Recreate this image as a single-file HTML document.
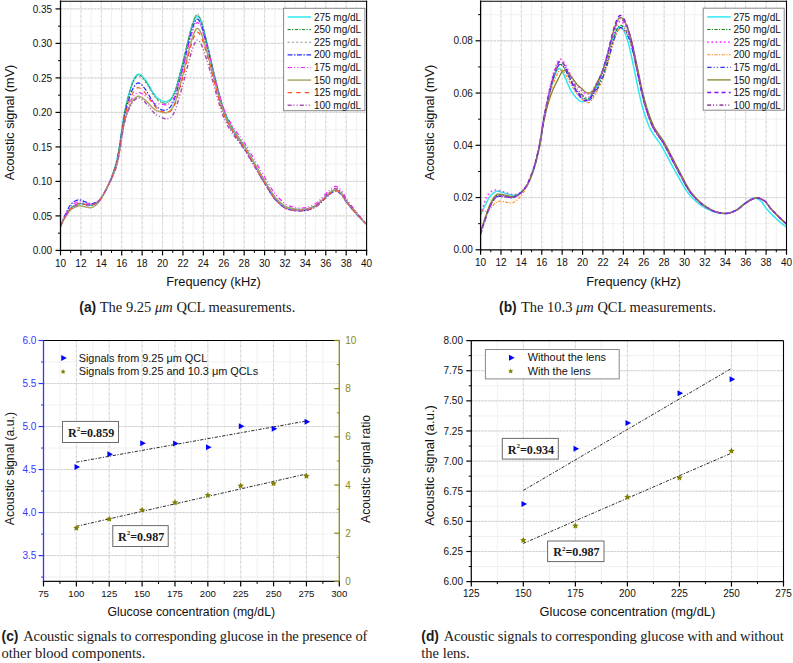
<!DOCTYPE html><html><head><meta charset="utf-8"><style>html,body{margin:0;padding:0;background:#fff;width:793px;height:663px;overflow:hidden;position:relative}</style></head><body><svg width="793" height="663" viewBox="0 0 793 663" style="position:absolute;left:0;top:0">
<rect width="793" height="663" fill="#fff"/>
<line x1="70.70" y1="1.20" x2="70.70" y2="250.40" stroke="#eeeeee" stroke-width="0.9"/>
<line x1="91.11" y1="1.20" x2="91.11" y2="250.40" stroke="#eeeeee" stroke-width="0.9"/>
<line x1="111.52" y1="1.20" x2="111.52" y2="250.40" stroke="#eeeeee" stroke-width="0.9"/>
<line x1="131.92" y1="1.20" x2="131.92" y2="250.40" stroke="#eeeeee" stroke-width="0.9"/>
<line x1="152.33" y1="1.20" x2="152.33" y2="250.40" stroke="#eeeeee" stroke-width="0.9"/>
<line x1="172.74" y1="1.20" x2="172.74" y2="250.40" stroke="#eeeeee" stroke-width="0.9"/>
<line x1="193.14" y1="1.20" x2="193.14" y2="250.40" stroke="#eeeeee" stroke-width="0.9"/>
<line x1="213.55" y1="1.20" x2="213.55" y2="250.40" stroke="#eeeeee" stroke-width="0.9"/>
<line x1="233.96" y1="1.20" x2="233.96" y2="250.40" stroke="#eeeeee" stroke-width="0.9"/>
<line x1="254.36" y1="1.20" x2="254.36" y2="250.40" stroke="#eeeeee" stroke-width="0.9"/>
<line x1="274.77" y1="1.20" x2="274.77" y2="250.40" stroke="#eeeeee" stroke-width="0.9"/>
<line x1="295.18" y1="1.20" x2="295.18" y2="250.40" stroke="#eeeeee" stroke-width="0.9"/>
<line x1="315.58" y1="1.20" x2="315.58" y2="250.40" stroke="#eeeeee" stroke-width="0.9"/>
<line x1="335.99" y1="1.20" x2="335.99" y2="250.40" stroke="#eeeeee" stroke-width="0.9"/>
<line x1="356.40" y1="1.20" x2="356.40" y2="250.40" stroke="#eeeeee" stroke-width="0.9"/>
<line x1="60.50" y1="233.15" x2="366.60" y2="233.15" stroke="#eeeeee" stroke-width="0.9"/>
<line x1="60.50" y1="198.65" x2="366.60" y2="198.65" stroke="#eeeeee" stroke-width="0.9"/>
<line x1="60.50" y1="164.15" x2="366.60" y2="164.15" stroke="#eeeeee" stroke-width="0.9"/>
<line x1="60.50" y1="129.65" x2="366.60" y2="129.65" stroke="#eeeeee" stroke-width="0.9"/>
<line x1="60.50" y1="95.15" x2="366.60" y2="95.15" stroke="#eeeeee" stroke-width="0.9"/>
<line x1="60.50" y1="60.65" x2="366.60" y2="60.65" stroke="#eeeeee" stroke-width="0.9"/>
<line x1="60.50" y1="26.15" x2="366.60" y2="26.15" stroke="#eeeeee" stroke-width="0.9"/>
<line x1="80.91" y1="1.20" x2="80.91" y2="250.40" stroke="#e4e4e4" stroke-width="0.9"/>
<line x1="101.31" y1="1.20" x2="101.31" y2="250.40" stroke="#e4e4e4" stroke-width="0.9"/>
<line x1="121.72" y1="1.20" x2="121.72" y2="250.40" stroke="#e4e4e4" stroke-width="0.9"/>
<line x1="142.13" y1="1.20" x2="142.13" y2="250.40" stroke="#e4e4e4" stroke-width="0.9"/>
<line x1="162.53" y1="1.20" x2="162.53" y2="250.40" stroke="#e4e4e4" stroke-width="0.9"/>
<line x1="182.94" y1="1.20" x2="182.94" y2="250.40" stroke="#e4e4e4" stroke-width="0.9"/>
<line x1="203.35" y1="1.20" x2="203.35" y2="250.40" stroke="#e4e4e4" stroke-width="0.9"/>
<line x1="223.75" y1="1.20" x2="223.75" y2="250.40" stroke="#e4e4e4" stroke-width="0.9"/>
<line x1="244.16" y1="1.20" x2="244.16" y2="250.40" stroke="#e4e4e4" stroke-width="0.9"/>
<line x1="264.57" y1="1.20" x2="264.57" y2="250.40" stroke="#e4e4e4" stroke-width="0.9"/>
<line x1="284.97" y1="1.20" x2="284.97" y2="250.40" stroke="#e4e4e4" stroke-width="0.9"/>
<line x1="305.38" y1="1.20" x2="305.38" y2="250.40" stroke="#e4e4e4" stroke-width="0.9"/>
<line x1="325.79" y1="1.20" x2="325.79" y2="250.40" stroke="#e4e4e4" stroke-width="0.9"/>
<line x1="346.19" y1="1.20" x2="346.19" y2="250.40" stroke="#e4e4e4" stroke-width="0.9"/>
<line x1="60.50" y1="215.90" x2="366.60" y2="215.90" stroke="#e4e4e4" stroke-width="0.9"/>
<line x1="60.50" y1="181.40" x2="366.60" y2="181.40" stroke="#e4e4e4" stroke-width="0.9"/>
<line x1="60.50" y1="146.90" x2="366.60" y2="146.90" stroke="#e4e4e4" stroke-width="0.9"/>
<line x1="60.50" y1="112.40" x2="366.60" y2="112.40" stroke="#e4e4e4" stroke-width="0.9"/>
<line x1="60.50" y1="77.90" x2="366.60" y2="77.90" stroke="#e4e4e4" stroke-width="0.9"/>
<line x1="60.50" y1="43.40" x2="366.60" y2="43.40" stroke="#e4e4e4" stroke-width="0.9"/>
<line x1="60.50" y1="8.90" x2="366.60" y2="8.90" stroke="#e4e4e4" stroke-width="0.9"/>
<line x1="80.91" y1="1.20" x2="80.91" y2="250.40" stroke="#c8c8c8" stroke-width="0.8" stroke-dasharray="1.6,3.2"/>
<line x1="101.31" y1="1.20" x2="101.31" y2="250.40" stroke="#c8c8c8" stroke-width="0.8" stroke-dasharray="1.6,3.2"/>
<line x1="121.72" y1="1.20" x2="121.72" y2="250.40" stroke="#c8c8c8" stroke-width="0.8" stroke-dasharray="1.6,3.2"/>
<line x1="142.13" y1="1.20" x2="142.13" y2="250.40" stroke="#c8c8c8" stroke-width="0.8" stroke-dasharray="1.6,3.2"/>
<line x1="162.53" y1="1.20" x2="162.53" y2="250.40" stroke="#c8c8c8" stroke-width="0.8" stroke-dasharray="1.6,3.2"/>
<line x1="182.94" y1="1.20" x2="182.94" y2="250.40" stroke="#c8c8c8" stroke-width="0.8" stroke-dasharray="1.6,3.2"/>
<line x1="203.35" y1="1.20" x2="203.35" y2="250.40" stroke="#c8c8c8" stroke-width="0.8" stroke-dasharray="1.6,3.2"/>
<line x1="223.75" y1="1.20" x2="223.75" y2="250.40" stroke="#c8c8c8" stroke-width="0.8" stroke-dasharray="1.6,3.2"/>
<line x1="244.16" y1="1.20" x2="244.16" y2="250.40" stroke="#c8c8c8" stroke-width="0.8" stroke-dasharray="1.6,3.2"/>
<line x1="264.57" y1="1.20" x2="264.57" y2="250.40" stroke="#c8c8c8" stroke-width="0.8" stroke-dasharray="1.6,3.2"/>
<line x1="284.97" y1="1.20" x2="284.97" y2="250.40" stroke="#c8c8c8" stroke-width="0.8" stroke-dasharray="1.6,3.2"/>
<line x1="305.38" y1="1.20" x2="305.38" y2="250.40" stroke="#c8c8c8" stroke-width="0.8" stroke-dasharray="1.6,3.2"/>
<line x1="325.79" y1="1.20" x2="325.79" y2="250.40" stroke="#c8c8c8" stroke-width="0.8" stroke-dasharray="1.6,3.2"/>
<line x1="346.19" y1="1.20" x2="346.19" y2="250.40" stroke="#c8c8c8" stroke-width="0.8" stroke-dasharray="1.6,3.2"/>
<line x1="60.50" y1="215.90" x2="366.60" y2="215.90" stroke="#c8c8c8" stroke-width="0.8" stroke-dasharray="1.8,1.6"/>
<line x1="60.50" y1="181.40" x2="366.60" y2="181.40" stroke="#c8c8c8" stroke-width="0.8" stroke-dasharray="1.8,1.6"/>
<line x1="60.50" y1="146.90" x2="366.60" y2="146.90" stroke="#c8c8c8" stroke-width="0.8" stroke-dasharray="1.8,1.6"/>
<line x1="60.50" y1="112.40" x2="366.60" y2="112.40" stroke="#c8c8c8" stroke-width="0.8" stroke-dasharray="1.8,1.6"/>
<line x1="60.50" y1="77.90" x2="366.60" y2="77.90" stroke="#c8c8c8" stroke-width="0.8" stroke-dasharray="1.8,1.6"/>
<line x1="60.50" y1="43.40" x2="366.60" y2="43.40" stroke="#c8c8c8" stroke-width="0.8" stroke-dasharray="1.8,1.6"/>
<line x1="60.50" y1="8.90" x2="366.60" y2="8.90" stroke="#c8c8c8" stroke-width="0.8" stroke-dasharray="1.8,1.6"/>
<clipPath id="clipa"><rect x="60.5" y="1.2" width="306.1" height="249.20000000000002"/></clipPath>
<g clip-path="url(#clipa)" fill="none" stroke-linejoin="round">
<path d="M60.50,226.25 L61.01,225.11 L61.52,223.98 L62.03,222.88 L62.54,221.79 L63.05,220.73 L63.56,219.69 L64.07,218.69 L64.58,217.72 L65.09,216.79 L65.60,215.90 L66.11,215.02 L66.62,214.14 L67.13,213.27 L67.64,212.41 L68.15,211.59 L68.66,210.80 L69.17,210.07 L69.68,209.41 L70.19,208.81 L70.70,208.31 L71.21,207.86 L71.72,207.44 L72.23,207.03 L72.74,206.64 L73.25,206.28 L73.76,205.94 L74.27,205.63 L74.78,205.35 L75.29,205.09 L75.81,204.86 L76.32,204.63 L76.83,204.39 L77.34,204.15 L77.85,203.92 L78.36,203.72 L78.87,203.57 L79.38,203.49 L79.89,203.48 L80.40,203.53 L80.91,203.59 L81.42,203.66 L81.93,203.74 L82.44,203.83 L82.95,203.93 L83.46,204.03 L83.97,204.12 L84.48,204.22 L84.99,204.31 L85.50,204.40 L86.01,204.49 L86.52,204.59 L87.03,204.69 L87.54,204.79 L88.05,204.89 L88.56,204.98 L89.07,205.07 L89.58,205.14 L90.09,205.21 L90.60,205.23 L91.11,205.20 L91.62,205.11 L92.13,204.99 L92.64,204.83 L93.15,204.64 L93.66,204.44 L94.17,204.23 L94.68,204.03 L95.19,203.82 L95.70,203.60 L96.21,203.30 L96.72,202.94 L97.23,202.54 L97.74,202.09 L98.25,201.61 L98.76,201.11 L99.27,200.59 L99.78,200.04 L100.29,199.42 L100.80,198.74 L101.31,197.99 L101.82,197.19 L102.33,196.35 L102.84,195.48 L103.35,194.59 L103.86,193.69 L104.37,192.78 L104.88,191.87 L105.39,190.90 L105.90,189.91 L106.41,188.87 L106.93,187.81 L107.44,186.71 L107.95,185.59 L108.46,184.46 L108.97,183.30 L109.48,182.13 L109.99,180.96 L110.50,179.75 L111.01,178.50 L111.52,177.20 L112.03,175.87 L112.54,174.48 L113.05,173.05 L113.56,171.57 L114.07,170.04 L114.58,168.45 L115.09,166.81 L115.60,165.12 L116.11,163.33 L116.62,161.28 L117.13,158.99 L117.64,156.50 L118.15,153.82 L118.66,151.01 L119.17,148.09 L119.68,145.00 L120.19,141.48 L120.70,137.70 L121.21,133.91 L121.72,130.34 L122.23,126.95 L122.74,123.58 L123.25,120.30 L123.76,117.15 L124.27,114.20 L124.78,111.48 L125.29,108.92 L125.80,106.49 L126.31,104.20 L126.82,102.05 L127.33,99.98 L127.84,97.96 L128.35,96.00 L128.86,94.13 L129.37,92.35 L129.88,90.68 L130.39,89.04 L130.90,87.39 L131.41,85.77 L131.92,84.22 L132.43,82.76 L132.94,81.43 L133.45,80.26 L133.96,79.28 L134.47,78.41 L134.98,77.56 L135.49,76.75 L136.00,76.00 L136.51,75.36 L137.03,74.84 L137.54,74.46 L138.05,74.27 L138.56,74.25 L139.07,74.32 L139.58,74.48 L140.09,74.70 L140.60,74.99 L141.11,75.34 L141.62,75.73 L142.13,76.18 L142.64,76.66 L143.15,77.21 L143.66,77.79 L144.17,78.42 L144.68,79.09 L145.19,79.78 L145.70,80.50 L146.21,81.23 L146.72,81.98 L147.23,82.73 L147.74,83.51 L148.25,84.35 L148.76,85.23 L149.27,86.13 L149.78,87.04 L150.29,87.96 L150.80,88.86 L151.31,89.74 L151.82,90.57 L152.33,91.35 L152.84,92.11 L153.35,92.87 L153.86,93.62 L154.37,94.36 L154.88,95.07 L155.39,95.75 L155.90,96.38 L156.41,96.96 L156.92,97.47 L157.43,97.91 L157.94,98.31 L158.45,98.69 L158.96,99.06 L159.47,99.41 L159.98,99.75 L160.49,100.07 L161.00,100.36 L161.51,100.64 L162.02,100.89 L162.53,101.11 L163.04,101.30 L163.55,101.47 L164.06,101.60 L164.57,101.71 L165.08,101.75 L165.59,101.73 L166.10,101.64 L166.61,101.50 L167.12,101.31 L167.63,101.09 L168.15,100.84 L168.66,100.56 L169.17,100.27 L169.68,99.98 L170.19,99.61 L170.70,99.11 L171.21,98.49 L171.72,97.75 L172.23,96.92 L172.74,96.00 L173.25,95.01 L173.76,93.95 L174.27,92.84 L174.78,91.70 L175.29,90.42 L175.80,88.92 L176.31,87.25 L176.82,85.45 L177.33,83.57 L177.84,81.66 L178.35,79.75 L178.86,77.90 L179.37,76.08 L179.88,74.24 L180.39,72.38 L180.90,70.49 L181.41,68.59 L181.92,66.65 L182.43,64.70 L182.94,62.72 L183.45,60.69 L183.96,58.61 L184.47,56.49 L184.98,54.34 L185.49,52.18 L186.00,50.03 L186.51,47.91 L187.02,45.82 L187.53,43.80 L188.04,41.80 L188.55,39.79 L189.06,37.76 L189.57,35.74 L190.08,33.74 L190.59,31.79 L191.10,29.91 L191.61,28.11 L192.12,26.41 L192.63,24.83 L193.14,23.39 L193.65,22.04 L194.16,20.74 L194.67,19.54 L195.18,18.47 L195.69,17.58 L196.20,16.91 L196.71,16.49 L197.22,16.35 L197.73,16.47 L198.25,16.81 L198.76,17.36 L199.27,18.08 L199.78,18.95 L200.29,19.94 L200.80,21.08 L201.31,22.41 L201.82,23.90 L202.33,25.54 L202.84,27.30 L203.35,29.16 L203.86,31.10 L204.37,33.11 L204.88,35.16 L205.39,37.24 L205.90,39.32 L206.41,41.38 L206.92,43.40 L207.43,45.43 L207.94,47.53 L208.45,49.68 L208.96,51.87 L209.47,54.10 L209.98,56.36 L210.49,58.63 L211.00,60.91 L211.51,63.19 L212.02,65.45 L212.53,67.70 L213.04,69.91 L213.55,72.09 L214.06,74.22 L214.57,76.29 L215.08,78.30 L215.59,80.29 L216.10,82.29 L216.61,84.29 L217.12,86.29 L217.63,88.29 L218.14,90.27 L218.65,92.23 L219.16,94.17 L219.67,96.08 L220.18,97.96 L220.69,99.79 L221.20,101.58 L221.71,103.32 L222.22,105.01 L222.73,106.63 L223.24,108.19 L223.75,109.67 L224.26,111.08 L224.77,112.40 L225.28,113.66 L225.79,114.89 L226.30,116.08 L226.81,117.23 L227.32,118.35 L227.83,119.45 L228.34,120.51 L228.86,121.55 L229.37,122.55 L229.88,123.54 L230.39,124.50 L230.90,125.43 L231.41,126.35 L231.92,127.24 L232.43,128.12 L232.94,128.97 L233.45,129.82 L233.96,130.64 L234.47,131.45 L234.98,132.24 L235.49,133.01 L236.00,133.77 L236.51,134.52 L237.02,135.26 L237.53,136.00 L238.04,136.72 L238.55,137.44 L239.06,138.16 L239.57,138.88 L240.08,139.60 L240.59,140.32 L241.10,141.05 L241.61,141.78 L242.12,142.53 L242.63,143.28 L243.14,144.04 L243.65,144.81 L244.16,145.60 L244.67,146.41 L245.18,147.23 L245.69,148.07 L246.20,148.91 L246.71,149.76 L247.22,150.63 L247.73,151.49 L248.24,152.37 L248.75,153.25 L249.26,154.13 L249.77,155.02 L250.28,155.91 L250.79,156.81 L251.30,157.70 L251.81,158.60 L252.32,159.50 L252.83,160.39 L253.34,161.29 L253.85,162.18 L254.36,163.07 L254.87,163.96 L255.38,164.84 L255.89,165.72 L256.40,166.61 L256.91,167.50 L257.42,168.39 L257.93,169.29 L258.44,170.19 L258.95,171.08 L259.47,171.98 L259.98,172.88 L260.49,173.77 L261.00,174.66 L261.51,175.55 L262.02,176.43 L262.53,177.30 L263.04,178.17 L263.55,179.03 L264.06,179.89 L264.57,180.73 L265.08,181.57 L265.59,182.41 L266.10,183.26 L266.61,184.12 L267.12,184.98 L267.63,185.85 L268.14,186.72 L268.65,187.58 L269.16,188.45 L269.67,189.30 L270.18,190.15 L270.69,190.98 L271.20,191.80 L271.71,192.60 L272.22,193.39 L272.73,194.15 L273.24,194.88 L273.75,195.59 L274.26,196.27 L274.77,196.92 L275.28,197.54 L275.79,198.11 L276.30,198.65 L276.81,199.17 L277.32,199.68 L277.83,200.18 L278.34,200.68 L278.85,201.18 L279.36,201.66 L279.87,202.14 L280.38,202.60 L280.89,203.06 L281.40,203.50 L281.91,203.93 L282.42,204.35 L282.93,204.74 L283.44,205.13 L283.95,205.49 L284.46,205.84 L284.97,206.17 L285.48,206.48 L285.99,206.76 L286.50,207.03 L287.01,207.26 L287.52,207.48 L288.03,207.67 L288.54,207.83 L289.05,207.97 L289.56,208.09 L290.08,208.20 L290.59,208.32 L291.10,208.44 L291.61,208.55 L292.12,208.66 L292.63,208.77 L293.14,208.87 L293.65,208.97 L294.16,209.06 L294.67,209.14 L295.18,209.22 L295.69,209.29 L296.20,209.35 L296.71,209.40 L297.22,209.44 L297.73,209.47 L298.24,209.48 L298.75,209.49 L299.26,209.49 L299.77,209.49 L300.28,209.48 L300.79,209.47 L301.30,209.45 L301.81,209.43 L302.32,209.40 L302.83,209.36 L303.34,209.33 L303.85,209.29 L304.36,209.24 L304.87,209.19 L305.38,209.14 L305.89,209.08 L306.40,209.00 L306.91,208.91 L307.42,208.80 L307.93,208.68 L308.44,208.55 L308.95,208.40 L309.46,208.24 L309.97,208.07 L310.48,207.89 L310.99,207.70 L311.50,207.50 L312.01,207.28 L312.52,207.06 L313.03,206.83 L313.54,206.59 L314.05,206.34 L314.56,206.08 L315.07,205.82 L315.58,205.55 L316.09,205.26 L316.60,204.93 L317.11,204.57 L317.62,204.19 L318.13,203.78 L318.64,203.34 L319.15,202.89 L319.66,202.42 L320.17,201.94 L320.69,201.45 L321.20,200.95 L321.71,200.44 L322.22,199.93 L322.73,199.43 L323.24,198.92 L323.75,198.43 L324.26,197.94 L324.77,197.47 L325.28,197.02 L325.79,196.58 L326.30,196.15 L326.81,195.70 L327.32,195.24 L327.83,194.78 L328.34,194.31 L328.85,193.85 L329.36,193.39 L329.87,192.94 L330.38,192.50 L330.89,192.08 L331.40,191.68 L331.91,191.30 L332.42,190.95 L332.93,190.64 L333.44,190.35 L333.95,190.11 L334.46,189.92 L334.97,189.81 L335.48,189.78 L335.99,189.83 L336.50,189.94 L337.01,190.12 L337.52,190.36 L338.03,190.65 L338.54,190.98 L339.05,191.36 L339.56,191.76 L340.07,192.20 L340.58,192.66 L341.09,193.13 L341.60,193.67 L342.11,194.33 L342.62,195.09 L343.13,195.90 L343.64,196.77 L344.15,197.65 L344.66,198.53 L345.17,199.39 L345.68,200.20 L346.19,200.93 L346.70,201.61 L347.21,202.29 L347.72,202.96 L348.23,203.63 L348.74,204.28 L349.25,204.94 L349.76,205.59 L350.27,206.23 L350.78,206.86 L351.30,207.49 L351.81,208.12 L352.32,208.74 L352.83,209.35 L353.34,209.96 L353.85,210.56 L354.36,211.15 L354.87,211.74 L355.38,212.33 L355.89,212.91 L356.40,213.49 L356.91,214.06 L357.42,214.63 L357.93,215.19 L358.44,215.76 L358.95,216.32 L359.46,216.87 L359.97,217.43 L360.48,217.98 L360.99,218.52 L361.50,219.06 L362.01,219.60 L362.52,220.13 L363.03,220.66 L363.54,221.18 L364.05,221.69 L364.56,222.20 L365.07,222.71 L365.58,223.20 L366.09,223.70 L366.60,224.18" stroke="#30e8f0" stroke-width="1.5" />
<path d="M60.50,226.25 L61.01,225.11 L61.52,223.98 L62.03,222.88 L62.54,221.79 L63.05,220.73 L63.56,219.69 L64.07,218.69 L64.58,217.72 L65.09,216.79 L65.60,215.90 L66.11,215.02 L66.62,214.14 L67.13,213.27 L67.64,212.41 L68.15,211.59 L68.66,210.80 L69.17,210.07 L69.68,209.41 L70.19,208.81 L70.70,208.31 L71.21,207.86 L71.72,207.44 L72.23,207.03 L72.74,206.64 L73.25,206.28 L73.76,205.94 L74.27,205.63 L74.78,205.35 L75.29,205.09 L75.81,204.86 L76.32,204.63 L76.83,204.39 L77.34,204.15 L77.85,203.92 L78.36,203.72 L78.87,203.57 L79.38,203.49 L79.89,203.48 L80.40,203.53 L80.91,203.59 L81.42,203.66 L81.93,203.74 L82.44,203.83 L82.95,203.93 L83.46,204.03 L83.97,204.12 L84.48,204.22 L84.99,204.31 L85.50,204.40 L86.01,204.49 L86.52,204.59 L87.03,204.69 L87.54,204.79 L88.05,204.89 L88.56,204.98 L89.07,205.07 L89.58,205.14 L90.09,205.21 L90.60,205.23 L91.11,205.20 L91.62,205.11 L92.13,204.99 L92.64,204.83 L93.15,204.64 L93.66,204.44 L94.17,204.23 L94.68,204.03 L95.19,203.82 L95.70,203.60 L96.21,203.30 L96.72,202.94 L97.23,202.54 L97.74,202.09 L98.25,201.61 L98.76,201.11 L99.27,200.59 L99.78,200.04 L100.29,199.42 L100.80,198.74 L101.31,197.99 L101.82,197.19 L102.33,196.35 L102.84,195.48 L103.35,194.59 L103.86,193.69 L104.37,192.78 L104.88,191.87 L105.39,190.91 L105.90,189.91 L106.41,188.88 L106.93,187.81 L107.44,186.72 L107.95,185.61 L108.46,184.47 L108.97,183.32 L109.48,182.16 L109.99,180.99 L110.50,179.78 L111.01,178.54 L111.52,177.25 L112.03,175.92 L112.54,174.54 L113.05,173.11 L113.56,171.64 L114.07,170.11 L114.58,168.54 L115.09,166.91 L115.60,165.22 L116.11,163.44 L116.62,161.40 L117.13,159.12 L117.64,156.63 L118.15,153.97 L118.66,151.16 L119.17,148.25 L119.68,145.17 L120.19,141.66 L120.70,137.89 L121.21,134.11 L121.72,130.55 L122.23,127.17 L122.74,123.81 L123.25,120.54 L123.76,117.40 L124.27,114.46 L124.78,111.75 L125.29,109.20 L125.80,106.79 L126.31,104.52 L126.82,102.38 L127.33,100.32 L127.84,98.31 L128.35,96.37 L128.86,94.51 L129.37,92.75 L129.88,91.10 L130.39,89.48 L130.90,87.84 L131.41,86.24 L131.92,84.70 L132.43,83.26 L132.94,81.95 L133.45,80.79 L133.96,79.83 L134.47,78.98 L134.98,78.14 L135.49,77.35 L136.00,76.62 L136.51,75.99 L137.03,75.49 L137.54,75.13 L138.05,74.95 L138.56,74.95 L139.07,75.04 L139.58,75.21 L140.09,75.45 L140.60,75.76 L141.11,76.12 L141.62,76.54 L142.13,77.00 L142.64,77.51 L143.15,78.07 L143.66,78.68 L144.17,79.33 L144.68,80.02 L145.19,80.74 L145.70,81.48 L146.21,82.23 L146.72,83.00 L147.23,83.78 L147.74,84.58 L148.25,85.44 L148.76,86.34 L149.27,87.26 L149.78,88.20 L150.29,89.14 L150.80,90.07 L151.31,90.96 L151.82,91.82 L152.33,92.63 L152.84,93.40 L153.35,94.18 L153.86,94.96 L154.37,95.71 L154.88,96.44 L155.39,97.14 L155.90,97.79 L156.41,98.38 L156.92,98.91 L157.43,99.37 L157.94,99.78 L158.45,100.18 L158.96,100.56 L159.47,100.93 L159.98,101.28 L160.49,101.61 L161.00,101.91 L161.51,102.20 L162.02,102.45 L162.53,102.68 L163.04,102.88 L163.55,103.05 L164.06,103.19 L164.57,103.29 L165.08,103.33 L165.59,103.30 L166.10,103.19 L166.61,103.02 L167.12,102.80 L167.63,102.53 L168.15,102.23 L168.66,101.90 L169.17,101.55 L169.68,101.19 L170.19,100.76 L170.70,100.19 L171.21,99.49 L171.72,98.68 L172.23,97.77 L172.74,96.78 L173.25,95.70 L173.76,94.57 L174.27,93.39 L174.78,92.17 L175.29,90.82 L175.80,89.25 L176.31,87.52 L176.82,85.66 L177.33,83.73 L177.84,81.76 L178.35,79.81 L178.86,77.91 L179.37,76.03 L179.88,74.14 L180.39,72.23 L180.90,70.29 L181.41,68.33 L181.92,66.34 L182.43,64.33 L182.94,62.30 L183.45,60.22 L183.96,58.08 L184.47,55.90 L184.98,53.70 L185.49,51.49 L186.00,49.28 L186.51,47.11 L187.02,44.97 L187.53,42.90 L188.04,40.86 L188.55,38.79 L189.06,36.72 L189.57,34.66 L190.08,32.62 L190.59,30.64 L191.10,28.72 L191.61,26.88 L192.12,25.15 L192.63,23.55 L193.14,22.08 L193.65,20.71 L194.16,19.39 L194.67,18.18 L195.18,17.10 L195.69,16.20 L196.20,15.52 L196.71,15.11 L197.22,14.98 L197.73,15.10 L198.25,15.46 L198.76,16.02 L199.27,16.75 L199.78,17.64 L200.29,18.66 L200.80,19.82 L201.31,21.18 L201.82,22.69 L202.33,24.36 L202.84,26.15 L203.35,28.04 L203.86,30.02 L204.37,32.06 L204.88,34.14 L205.39,36.25 L205.90,38.36 L206.41,40.45 L206.92,42.51 L207.43,44.58 L207.94,46.70 L208.45,48.88 L208.96,51.11 L209.47,53.37 L209.98,55.65 L210.49,57.95 L211.00,60.26 L211.51,62.56 L212.02,64.85 L212.53,67.11 L213.04,69.35 L213.55,71.54 L214.06,73.68 L214.57,75.77 L215.08,77.79 L215.59,79.79 L216.10,81.81 L216.61,83.82 L217.12,85.84 L217.63,87.85 L218.14,89.85 L218.65,91.82 L219.16,93.78 L219.67,95.70 L220.18,97.59 L220.69,99.45 L221.20,101.25 L221.71,103.01 L222.22,104.71 L222.73,106.34 L223.24,107.91 L223.75,109.41 L224.26,110.83 L224.77,112.17 L225.28,113.44 L225.79,114.68 L226.30,115.88 L226.81,117.05 L227.32,118.19 L227.83,119.30 L228.34,120.37 L228.86,121.42 L229.37,122.44 L229.88,123.43 L230.39,124.40 L230.90,125.35 L231.41,126.27 L231.92,127.17 L232.43,128.06 L232.94,128.92 L233.45,129.77 L233.96,130.61 L234.47,131.42 L234.98,132.21 L235.49,132.99 L236.00,133.76 L236.51,134.51 L237.02,135.26 L237.53,135.99 L238.04,136.72 L238.55,137.44 L239.06,138.16 L239.57,138.88 L240.08,139.60 L240.59,140.32 L241.10,141.05 L241.61,141.78 L242.12,142.53 L242.63,143.28 L243.14,144.04 L243.65,144.81 L244.16,145.60 L244.67,146.41 L245.18,147.23 L245.69,148.07 L246.20,148.91 L246.71,149.76 L247.22,150.63 L247.73,151.49 L248.24,152.37 L248.75,153.25 L249.26,154.13 L249.77,155.02 L250.28,155.91 L250.79,156.81 L251.30,157.70 L251.81,158.60 L252.32,159.50 L252.83,160.39 L253.34,161.29 L253.85,162.18 L254.36,163.07 L254.87,163.96 L255.38,164.84 L255.89,165.72 L256.40,166.61 L256.91,167.50 L257.42,168.39 L257.93,169.29 L258.44,170.19 L258.95,171.08 L259.47,171.98 L259.98,172.88 L260.49,173.77 L261.00,174.66 L261.51,175.55 L262.02,176.43 L262.53,177.30 L263.04,178.17 L263.55,179.03 L264.06,179.89 L264.57,180.73 L265.08,181.57 L265.59,182.41 L266.10,183.26 L266.61,184.12 L267.12,184.98 L267.63,185.85 L268.14,186.72 L268.65,187.58 L269.16,188.45 L269.67,189.30 L270.18,190.15 L270.69,190.98 L271.20,191.80 L271.71,192.60 L272.22,193.39 L272.73,194.15 L273.24,194.88 L273.75,195.59 L274.26,196.27 L274.77,196.92 L275.28,197.54 L275.79,198.11 L276.30,198.65 L276.81,199.17 L277.32,199.68 L277.83,200.18 L278.34,200.68 L278.85,201.18 L279.36,201.66 L279.87,202.14 L280.38,202.60 L280.89,203.06 L281.40,203.50 L281.91,203.93 L282.42,204.35 L282.93,204.74 L283.44,205.13 L283.95,205.49 L284.46,205.84 L284.97,206.17 L285.48,206.48 L285.99,206.76 L286.50,207.03 L287.01,207.26 L287.52,207.48 L288.03,207.67 L288.54,207.83 L289.05,207.97 L289.56,208.09 L290.08,208.20 L290.59,208.32 L291.10,208.44 L291.61,208.55 L292.12,208.66 L292.63,208.77 L293.14,208.87 L293.65,208.97 L294.16,209.06 L294.67,209.14 L295.18,209.22 L295.69,209.29 L296.20,209.35 L296.71,209.40 L297.22,209.44 L297.73,209.47 L298.24,209.48 L298.75,209.49 L299.26,209.49 L299.77,209.49 L300.28,209.48 L300.79,209.47 L301.30,209.45 L301.81,209.43 L302.32,209.40 L302.83,209.36 L303.34,209.33 L303.85,209.29 L304.36,209.24 L304.87,209.19 L305.38,209.14 L305.89,209.08 L306.40,209.00 L306.91,208.91 L307.42,208.80 L307.93,208.68 L308.44,208.55 L308.95,208.40 L309.46,208.24 L309.97,208.07 L310.48,207.89 L310.99,207.70 L311.50,207.50 L312.01,207.28 L312.52,207.06 L313.03,206.83 L313.54,206.59 L314.05,206.34 L314.56,206.08 L315.07,205.82 L315.58,205.55 L316.09,205.26 L316.60,204.93 L317.11,204.57 L317.62,204.19 L318.13,203.78 L318.64,203.34 L319.15,202.89 L319.66,202.42 L320.17,201.94 L320.69,201.45 L321.20,200.95 L321.71,200.44 L322.22,199.93 L322.73,199.43 L323.24,198.92 L323.75,198.43 L324.26,197.94 L324.77,197.47 L325.28,197.02 L325.79,196.58 L326.30,196.15 L326.81,195.70 L327.32,195.24 L327.83,194.78 L328.34,194.31 L328.85,193.85 L329.36,193.39 L329.87,192.94 L330.38,192.50 L330.89,192.08 L331.40,191.68 L331.91,191.30 L332.42,190.95 L332.93,190.64 L333.44,190.35 L333.95,190.11 L334.46,189.92 L334.97,189.81 L335.48,189.78 L335.99,189.83 L336.50,189.94 L337.01,190.12 L337.52,190.36 L338.03,190.65 L338.54,190.98 L339.05,191.36 L339.56,191.76 L340.07,192.20 L340.58,192.66 L341.09,193.13 L341.60,193.67 L342.11,194.33 L342.62,195.09 L343.13,195.90 L343.64,196.77 L344.15,197.65 L344.66,198.53 L345.17,199.39 L345.68,200.20 L346.19,200.93 L346.70,201.61 L347.21,202.29 L347.72,202.96 L348.23,203.63 L348.74,204.28 L349.25,204.94 L349.76,205.59 L350.27,206.23 L350.78,206.86 L351.30,207.49 L351.81,208.12 L352.32,208.74 L352.83,209.35 L353.34,209.96 L353.85,210.56 L354.36,211.15 L354.87,211.74 L355.38,212.33 L355.89,212.91 L356.40,213.49 L356.91,214.06 L357.42,214.63 L357.93,215.19 L358.44,215.76 L358.95,216.32 L359.46,216.87 L359.97,217.43 L360.48,217.98 L360.99,218.52 L361.50,219.06 L362.01,219.60 L362.52,220.13 L363.03,220.66 L363.54,221.18 L364.05,221.69 L364.56,222.20 L365.07,222.71 L365.58,223.20 L366.09,223.70 L366.60,224.18" stroke="#148c14" stroke-width="1.0" stroke-dasharray="3.2,1.3,1.2,1.5"/>
<path d="M60.50,226.25 L61.01,225.11 L61.52,223.98 L62.03,222.88 L62.54,221.79 L63.05,220.73 L63.56,219.69 L64.07,218.69 L64.58,217.72 L65.09,216.79 L65.60,215.90 L66.11,215.02 L66.62,214.14 L67.13,213.27 L67.64,212.41 L68.15,211.59 L68.66,210.80 L69.17,210.07 L69.68,209.41 L70.19,208.81 L70.70,208.31 L71.21,207.86 L71.72,207.44 L72.23,207.03 L72.74,206.64 L73.25,206.28 L73.76,205.94 L74.27,205.63 L74.78,205.35 L75.29,205.09 L75.81,204.86 L76.32,204.63 L76.83,204.39 L77.34,204.15 L77.85,203.92 L78.36,203.72 L78.87,203.57 L79.38,203.49 L79.89,203.48 L80.40,203.53 L80.91,203.59 L81.42,203.66 L81.93,203.74 L82.44,203.83 L82.95,203.93 L83.46,204.03 L83.97,204.12 L84.48,204.22 L84.99,204.31 L85.50,204.40 L86.01,204.49 L86.52,204.59 L87.03,204.69 L87.54,204.79 L88.05,204.89 L88.56,204.98 L89.07,205.07 L89.58,205.14 L90.09,205.21 L90.60,205.23 L91.11,205.20 L91.62,205.11 L92.13,204.99 L92.64,204.83 L93.15,204.64 L93.66,204.44 L94.17,204.23 L94.68,204.03 L95.19,203.82 L95.70,203.60 L96.21,203.30 L96.72,202.94 L97.23,202.54 L97.74,202.09 L98.25,201.61 L98.76,201.11 L99.27,200.59 L99.78,200.04 L100.29,199.42 L100.80,198.74 L101.31,197.99 L101.82,197.19 L102.33,196.35 L102.84,195.48 L103.35,194.59 L103.86,193.69 L104.37,192.78 L104.88,191.87 L105.39,190.91 L105.90,189.91 L106.41,188.88 L106.93,187.83 L107.44,186.74 L107.95,185.63 L108.46,184.51 L108.97,183.36 L109.48,182.21 L109.99,181.05 L110.50,179.85 L111.01,178.62 L111.52,177.35 L112.03,176.03 L112.54,174.66 L113.05,173.25 L113.56,171.79 L114.07,170.28 L114.58,168.72 L115.09,167.10 L115.60,165.43 L116.11,163.67 L116.62,161.64 L117.13,159.38 L117.64,156.91 L118.15,154.26 L118.66,151.48 L119.17,148.58 L119.68,145.52 L120.19,142.02 L120.70,138.27 L121.21,134.51 L121.72,130.96 L122.23,127.60 L122.74,124.26 L123.25,121.01 L123.76,117.90 L124.27,114.99 L124.78,112.31 L125.29,109.78 L125.80,107.41 L126.31,105.16 L126.82,103.06 L127.33,101.04 L127.84,99.07 L128.35,97.16 L128.86,95.34 L129.37,93.61 L129.88,92.00 L130.39,90.41 L130.90,88.81 L131.41,87.25 L131.92,85.74 L132.43,84.34 L132.94,83.06 L133.45,81.94 L133.96,81.01 L134.47,80.19 L134.98,79.38 L135.49,78.61 L136.00,77.91 L136.51,77.31 L137.03,76.82 L137.54,76.49 L138.05,76.32 L138.56,76.34 L139.07,76.44 L139.58,76.63 L140.09,76.88 L140.60,77.19 L141.11,77.56 L141.62,77.98 L142.13,78.45 L142.64,78.96 L143.15,79.52 L143.66,80.13 L144.17,80.78 L144.68,81.46 L145.19,82.17 L145.70,82.90 L146.21,83.65 L146.72,84.41 L147.23,85.17 L147.74,85.97 L148.25,86.81 L148.76,87.70 L149.27,88.61 L149.78,89.53 L150.29,90.45 L150.80,91.35 L151.31,92.23 L151.82,93.07 L152.33,93.85 L152.84,94.60 L153.35,95.36 L153.86,96.11 L154.37,96.84 L154.88,97.54 L155.39,98.21 L155.90,98.83 L156.41,99.40 L156.92,99.90 L157.43,100.32 L157.94,100.70 L158.45,101.07 L158.96,101.42 L159.47,101.76 L159.98,102.07 L160.49,102.37 L161.00,102.64 L161.51,102.89 L162.02,103.11 L162.53,103.31 L163.04,103.47 L163.55,103.61 L164.06,103.71 L164.57,103.78 L165.08,103.78 L165.59,103.71 L166.10,103.57 L166.61,103.36 L167.12,103.11 L167.63,102.81 L168.15,102.48 L168.66,102.12 L169.17,101.74 L169.68,101.35 L170.19,100.89 L170.70,100.29 L171.21,99.56 L171.72,98.72 L172.23,97.78 L172.74,96.76 L173.25,95.66 L173.76,94.50 L174.27,93.29 L174.78,92.05 L175.29,90.67 L175.80,89.08 L176.31,87.32 L176.82,85.44 L177.33,83.48 L177.84,81.49 L178.35,79.51 L178.86,77.58 L179.37,75.68 L179.88,73.76 L180.39,71.82 L180.90,69.85 L181.41,67.86 L181.92,65.85 L182.43,63.81 L182.94,61.75 L183.45,59.64 L183.96,57.47 L184.47,55.26 L184.98,53.03 L185.49,50.79 L186.00,48.57 L186.51,46.36 L187.02,44.20 L187.53,42.10 L188.04,40.04 L188.55,37.95 L189.06,35.85 L189.57,33.77 L190.08,31.71 L190.59,29.71 L191.10,27.77 L191.61,25.92 L192.12,24.18 L192.63,22.56 L193.14,21.08 L193.65,19.70 L194.16,18.37 L194.67,17.15 L195.18,16.07 L195.69,15.17 L196.20,14.49 L196.71,14.07 L197.22,13.95 L197.73,14.08 L198.25,14.44 L198.76,15.01 L199.27,15.76 L199.78,16.66 L200.29,17.69 L200.80,18.88 L201.31,20.25 L201.82,21.78 L202.33,23.47 L202.84,25.28 L203.35,27.19 L203.86,29.20 L204.37,31.26 L204.88,33.37 L205.39,35.50 L205.90,37.64 L206.41,39.76 L206.92,41.84 L207.43,43.93 L207.94,46.08 L208.45,48.29 L208.96,50.54 L209.47,52.82 L209.98,55.12 L210.49,57.44 L211.00,59.77 L211.51,62.09 L212.02,64.39 L212.53,66.68 L213.04,68.92 L213.55,71.13 L214.06,73.28 L214.57,75.37 L215.08,77.41 L215.59,79.42 L216.10,81.45 L216.61,83.48 L217.12,85.50 L217.63,87.52 L218.14,89.53 L218.65,91.52 L219.16,93.49 L219.67,95.42 L220.18,97.33 L220.69,99.19 L221.20,101.01 L221.71,102.77 L222.22,104.48 L222.73,106.13 L223.24,107.71 L223.75,109.22 L224.26,110.65 L224.77,112.00 L225.28,113.28 L225.79,114.53 L226.30,115.74 L226.81,116.92 L227.32,118.07 L227.83,119.18 L228.34,120.27 L228.86,121.32 L229.37,122.35 L229.88,123.35 L230.39,124.33 L230.90,125.28 L231.41,126.21 L231.92,127.12 L232.43,128.02 L232.94,128.89 L233.45,129.74 L233.96,130.58 L234.47,131.40 L234.98,132.20 L235.49,132.98 L236.00,133.75 L236.51,134.51 L237.02,135.25 L237.53,135.99 L238.04,136.72 L238.55,137.44 L239.06,138.16 L239.57,138.88 L240.08,139.60 L240.59,140.32 L241.10,141.05 L241.61,141.78 L242.12,142.53 L242.63,143.28 L243.14,144.04 L243.65,144.81 L244.16,145.60 L244.67,146.41 L245.18,147.23 L245.69,148.07 L246.20,148.91 L246.71,149.76 L247.22,150.63 L247.73,151.49 L248.24,152.37 L248.75,153.25 L249.26,154.13 L249.77,155.02 L250.28,155.91 L250.79,156.81 L251.30,157.70 L251.81,158.60 L252.32,159.50 L252.83,160.39 L253.34,161.29 L253.85,162.18 L254.36,163.07 L254.87,163.96 L255.38,164.84 L255.89,165.72 L256.40,166.61 L256.91,167.50 L257.42,168.39 L257.93,169.29 L258.44,170.19 L258.95,171.08 L259.47,171.98 L259.98,172.88 L260.49,173.77 L261.00,174.66 L261.51,175.55 L262.02,176.43 L262.53,177.30 L263.04,178.17 L263.55,179.03 L264.06,179.89 L264.57,180.73 L265.08,181.57 L265.59,182.41 L266.10,183.26 L266.61,184.12 L267.12,184.98 L267.63,185.85 L268.14,186.72 L268.65,187.58 L269.16,188.45 L269.67,189.30 L270.18,190.15 L270.69,190.98 L271.20,191.80 L271.71,192.60 L272.22,193.39 L272.73,194.15 L273.24,194.88 L273.75,195.59 L274.26,196.27 L274.77,196.92 L275.28,197.54 L275.79,198.11 L276.30,198.65 L276.81,199.17 L277.32,199.68 L277.83,200.18 L278.34,200.68 L278.85,201.18 L279.36,201.66 L279.87,202.14 L280.38,202.60 L280.89,203.06 L281.40,203.50 L281.91,203.93 L282.42,204.35 L282.93,204.74 L283.44,205.13 L283.95,205.49 L284.46,205.84 L284.97,206.17 L285.48,206.48 L285.99,206.76 L286.50,207.03 L287.01,207.26 L287.52,207.48 L288.03,207.67 L288.54,207.83 L289.05,207.97 L289.56,208.09 L290.08,208.20 L290.59,208.32 L291.10,208.44 L291.61,208.55 L292.12,208.66 L292.63,208.77 L293.14,208.87 L293.65,208.97 L294.16,209.06 L294.67,209.14 L295.18,209.22 L295.69,209.29 L296.20,209.35 L296.71,209.40 L297.22,209.44 L297.73,209.47 L298.24,209.48 L298.75,209.49 L299.26,209.49 L299.77,209.49 L300.28,209.48 L300.79,209.47 L301.30,209.45 L301.81,209.43 L302.32,209.40 L302.83,209.36 L303.34,209.33 L303.85,209.29 L304.36,209.24 L304.87,209.19 L305.38,209.14 L305.89,209.08 L306.40,209.00 L306.91,208.91 L307.42,208.80 L307.93,208.68 L308.44,208.55 L308.95,208.40 L309.46,208.24 L309.97,208.07 L310.48,207.89 L310.99,207.70 L311.50,207.50 L312.01,207.28 L312.52,207.06 L313.03,206.83 L313.54,206.59 L314.05,206.34 L314.56,206.08 L315.07,205.82 L315.58,205.55 L316.09,205.26 L316.60,204.93 L317.11,204.57 L317.62,204.19 L318.13,203.78 L318.64,203.34 L319.15,202.89 L319.66,202.42 L320.17,201.94 L320.69,201.45 L321.20,200.95 L321.71,200.44 L322.22,199.93 L322.73,199.43 L323.24,198.92 L323.75,198.43 L324.26,197.94 L324.77,197.47 L325.28,197.02 L325.79,196.58 L326.30,196.15 L326.81,195.70 L327.32,195.24 L327.83,194.78 L328.34,194.31 L328.85,193.85 L329.36,193.39 L329.87,192.94 L330.38,192.50 L330.89,192.08 L331.40,191.68 L331.91,191.30 L332.42,190.95 L332.93,190.64 L333.44,190.35 L333.95,190.11 L334.46,189.92 L334.97,189.81 L335.48,189.78 L335.99,189.83 L336.50,189.94 L337.01,190.12 L337.52,190.36 L338.03,190.65 L338.54,190.98 L339.05,191.36 L339.56,191.76 L340.07,192.20 L340.58,192.66 L341.09,193.13 L341.60,193.67 L342.11,194.33 L342.62,195.09 L343.13,195.90 L343.64,196.77 L344.15,197.65 L344.66,198.53 L345.17,199.39 L345.68,200.20 L346.19,200.93 L346.70,201.61 L347.21,202.29 L347.72,202.96 L348.23,203.63 L348.74,204.28 L349.25,204.94 L349.76,205.59 L350.27,206.23 L350.78,206.86 L351.30,207.49 L351.81,208.12 L352.32,208.74 L352.83,209.35 L353.34,209.96 L353.85,210.56 L354.36,211.15 L354.87,211.74 L355.38,212.33 L355.89,212.91 L356.40,213.49 L356.91,214.06 L357.42,214.63 L357.93,215.19 L358.44,215.76 L358.95,216.32 L359.46,216.87 L359.97,217.43 L360.48,217.98 L360.99,218.52 L361.50,219.06 L362.01,219.60 L362.52,220.13 L363.03,220.66 L363.54,221.18 L364.05,221.69 L364.56,222.20 L365.07,222.71 L365.58,223.20 L366.09,223.70 L366.60,224.18" stroke="#8c8c8c" stroke-width="1.0" stroke-dasharray="2,2.3"/>
<path d="M60.50,226.25 L61.01,224.91 L61.52,223.58 L62.03,222.27 L62.54,220.97 L63.05,219.70 L63.56,218.46 L64.07,217.25 L64.58,216.07 L65.09,214.94 L65.60,213.84 L66.11,212.77 L66.62,211.70 L67.13,210.64 L67.64,209.60 L68.15,208.60 L68.66,207.65 L69.17,206.76 L69.68,205.95 L70.19,205.22 L70.70,204.59 L71.21,204.03 L71.72,203.51 L72.23,203.02 L72.74,202.56 L73.25,202.15 L73.76,201.77 L74.27,201.44 L74.78,201.15 L75.29,200.91 L75.81,200.72 L76.32,200.54 L76.83,200.36 L77.34,200.18 L77.85,200.02 L78.36,199.90 L78.87,199.83 L79.38,199.82 L79.89,199.90 L80.40,200.04 L80.91,200.19 L81.42,200.36 L81.93,200.54 L82.44,200.73 L82.95,200.93 L83.46,201.12 L83.97,201.32 L84.48,201.52 L84.99,201.71 L85.50,201.90 L86.01,202.09 L86.52,202.29 L87.03,202.48 L87.54,202.67 L88.05,202.86 L88.56,203.03 L89.07,203.20 L89.58,203.35 L90.09,203.48 L90.60,203.57 L91.11,203.60 L91.62,203.59 L92.13,203.52 L92.64,203.43 L93.15,203.31 L93.66,203.17 L94.17,203.02 L94.68,202.87 L95.19,202.73 L95.70,202.56 L96.21,202.32 L96.72,202.03 L97.23,201.68 L97.74,201.29 L98.25,200.87 L98.76,200.43 L99.27,199.97 L99.78,199.48 L100.29,198.92 L100.80,198.30 L101.31,197.61 L101.82,196.87 L102.33,196.09 L102.84,195.28 L103.35,194.46 L103.86,193.62 L104.37,192.78 L104.88,191.93 L105.39,191.04 L105.90,190.10 L106.41,189.13 L106.93,188.13 L107.44,187.10 L107.95,186.05 L108.46,184.98 L108.97,183.89 L109.48,182.79 L109.99,181.68 L110.50,180.54 L111.01,179.36 L111.52,178.13 L112.03,176.87 L112.54,175.55 L113.05,174.19 L113.56,172.78 L114.07,171.32 L114.58,169.82 L115.09,168.25 L115.60,166.64 L116.11,164.93 L116.62,162.96 L117.13,160.75 L117.64,158.34 L118.15,155.75 L118.66,153.03 L119.17,150.20 L119.68,147.20 L120.19,143.77 L120.70,140.09 L121.21,136.40 L121.72,132.93 L122.23,129.65 L122.74,126.41 L123.25,123.26 L123.76,120.27 L124.27,117.49 L124.78,114.95 L125.29,112.57 L125.80,110.35 L126.31,108.27 L126.82,106.33 L127.33,104.48 L127.84,102.68 L128.35,100.96 L128.86,99.32 L129.37,97.77 L129.88,96.34 L130.39,94.93 L130.90,93.52 L131.41,92.13 L131.92,90.80 L132.43,89.56 L132.94,88.45 L133.45,87.48 L133.96,86.71 L134.47,86.03 L134.98,85.35 L135.49,84.71 L136.00,84.13 L136.51,83.62 L137.03,83.23 L137.54,82.96 L138.05,82.86 L138.56,82.92 L139.07,83.07 L139.58,83.29 L140.09,83.58 L140.60,83.94 L141.11,84.35 L141.62,84.80 L142.13,85.30 L142.64,85.84 L143.15,86.43 L143.66,87.07 L144.17,87.74 L144.68,88.44 L145.19,89.18 L145.70,89.93 L146.21,90.69 L146.72,91.47 L147.23,92.25 L147.74,93.05 L148.25,93.91 L148.76,94.80 L149.27,95.72 L149.78,96.64 L150.29,97.57 L150.80,98.48 L151.31,99.35 L151.82,100.19 L152.33,100.97 L152.84,101.72 L153.35,102.47 L153.86,103.21 L154.37,103.93 L154.88,104.62 L155.39,105.27 L155.90,105.88 L156.41,106.43 L156.92,106.91 L157.43,107.32 L157.94,107.68 L158.45,108.02 L158.96,108.35 L159.47,108.66 L159.98,108.95 L160.49,109.21 L161.00,109.45 L161.51,109.67 L162.02,109.86 L162.53,110.02 L163.04,110.15 L163.55,110.24 L164.06,110.30 L164.57,110.33 L165.08,110.30 L165.59,110.18 L166.10,110.00 L166.61,109.77 L167.12,109.48 L167.63,109.14 L168.15,108.78 L168.66,108.39 L169.17,107.98 L169.68,107.57 L170.19,107.08 L170.70,106.45 L171.21,105.70 L171.72,104.84 L172.23,103.88 L172.74,102.83 L173.25,101.71 L173.76,100.53 L174.27,99.30 L174.78,98.04 L175.29,96.64 L175.80,95.03 L176.31,93.25 L176.82,91.34 L177.33,89.36 L177.84,87.35 L178.35,85.35 L178.86,83.40 L179.37,81.48 L179.88,79.54 L180.39,77.57 L180.90,75.59 L181.41,73.57 L181.92,71.54 L182.43,69.48 L182.94,67.39 L183.45,65.26 L183.96,63.07 L184.47,60.84 L184.98,58.58 L185.49,56.32 L186.00,54.07 L186.51,51.85 L187.02,49.67 L187.53,47.55 L188.04,45.46 L188.55,43.35 L189.06,41.23 L189.57,39.13 L190.08,37.06 L190.59,35.03 L191.10,33.08 L191.61,31.21 L192.12,29.45 L192.63,27.82 L193.14,26.33 L193.65,24.93 L194.16,23.59 L194.67,22.36 L195.18,21.27 L195.69,20.36 L196.20,19.67 L196.71,19.25 L197.22,19.11 L197.73,19.23 L198.25,19.57 L198.76,20.12 L199.27,20.84 L199.78,21.71 L200.29,22.70 L200.80,23.84 L201.31,25.17 L201.82,26.66 L202.33,28.30 L202.84,30.06 L203.35,31.92 L203.86,33.86 L204.37,35.87 L204.88,37.92 L205.39,40.00 L205.90,42.08 L206.41,44.14 L206.92,46.16 L207.43,48.19 L207.94,50.29 L208.45,52.44 L208.96,54.63 L209.47,56.86 L209.98,59.12 L210.49,61.39 L211.00,63.67 L211.51,65.95 L212.02,68.21 L212.53,70.46 L213.04,72.67 L213.55,74.85 L214.06,76.98 L214.57,79.05 L215.08,81.06 L215.59,83.05 L216.10,85.05 L216.61,87.05 L217.12,89.05 L217.63,91.05 L218.14,93.03 L218.65,94.99 L219.16,96.93 L219.67,98.84 L220.18,100.72 L220.69,102.55 L221.20,104.34 L221.71,106.08 L222.22,107.77 L222.73,109.39 L223.24,110.95 L223.75,112.43 L224.26,113.84 L224.77,115.16 L225.28,116.42 L225.79,117.65 L226.30,118.84 L226.81,119.99 L227.32,121.11 L227.83,122.21 L228.34,123.27 L228.86,124.31 L229.37,125.31 L229.88,126.30 L230.39,127.26 L230.90,128.19 L231.41,129.11 L231.92,130.00 L232.43,130.88 L232.94,131.73 L233.45,132.58 L233.96,133.40 L234.47,134.21 L234.98,135.00 L235.49,135.77 L236.00,136.53 L236.51,137.28 L237.02,138.02 L237.53,138.76 L238.04,139.48 L238.55,140.20 L239.06,140.92 L239.57,141.64 L240.08,142.36 L240.59,143.08 L241.10,143.81 L241.61,144.54 L242.12,145.28 L242.63,146.02 L243.14,146.78 L243.65,147.55 L244.16,148.34 L244.67,149.14 L245.18,149.96 L245.69,150.79 L246.20,151.63 L246.71,152.47 L247.22,153.33 L247.73,154.19 L248.24,155.05 L248.75,155.93 L249.26,156.80 L249.77,157.68 L250.28,158.56 L250.79,159.45 L251.30,160.34 L251.81,161.22 L252.32,162.11 L252.83,163.00 L253.34,163.88 L253.85,164.76 L254.36,165.64 L254.87,166.52 L255.38,167.39 L255.89,168.26 L256.40,169.14 L256.91,170.02 L257.42,170.90 L257.93,171.78 L258.44,172.67 L258.95,173.55 L259.47,174.44 L259.98,175.32 L260.49,176.20 L261.00,177.08 L261.51,177.95 L262.02,178.82 L262.53,179.68 L263.04,180.54 L263.55,181.38 L264.06,182.22 L264.57,183.06 L265.08,183.88 L265.59,184.70 L266.10,185.54 L266.61,186.39 L267.12,187.24 L267.63,188.09 L268.14,188.95 L268.65,189.80 L269.16,190.65 L269.67,191.49 L270.18,192.33 L270.69,193.15 L271.20,193.96 L271.71,194.75 L272.22,195.52 L272.73,196.26 L273.24,196.99 L273.75,197.69 L274.26,198.36 L274.77,198.99 L275.28,199.59 L275.79,200.16 L276.30,200.68 L276.81,201.18 L277.32,201.68 L277.83,202.17 L278.34,202.66 L278.85,203.13 L279.36,203.60 L279.87,204.06 L280.38,204.51 L280.89,204.95 L281.40,205.37 L281.91,205.78 L282.42,206.18 L282.93,206.56 L283.44,206.93 L283.95,207.28 L284.46,207.60 L284.97,207.91 L285.48,208.20 L285.99,208.47 L286.50,208.71 L287.01,208.94 L287.52,209.13 L288.03,209.30 L288.54,209.45 L289.05,209.57 L289.56,209.67 L290.08,209.77 L290.59,209.87 L291.10,209.98 L291.61,210.07 L292.12,210.17 L292.63,210.26 L293.14,210.35 L293.65,210.44 L294.16,210.51 L294.67,210.59 L295.18,210.65 L295.69,210.71 L296.20,210.76 L296.71,210.80 L297.22,210.84 L297.73,210.86 L298.24,210.87 L298.75,210.88 L299.26,210.88 L299.77,210.87 L300.28,210.86 L300.79,210.85 L301.30,210.83 L301.81,210.81 L302.32,210.78 L302.83,210.74 L303.34,210.71 L303.85,210.67 L304.36,210.62 L304.87,210.57 L305.38,210.52 L305.89,210.46 L306.40,210.38 L306.91,210.29 L307.42,210.18 L307.93,210.06 L308.44,209.93 L308.95,209.78 L309.46,209.62 L309.97,209.45 L310.48,209.27 L310.99,209.08 L311.50,208.88 L312.01,208.66 L312.52,208.44 L313.03,208.21 L313.54,207.97 L314.05,207.72 L314.56,207.46 L315.07,207.20 L315.58,206.93 L316.09,206.64 L316.60,206.31 L317.11,205.95 L317.62,205.57 L318.13,205.16 L318.64,204.72 L319.15,204.27 L319.66,203.80 L320.17,203.32 L320.69,202.83 L321.20,202.33 L321.71,201.82 L322.22,201.31 L322.73,200.81 L323.24,200.30 L323.75,199.81 L324.26,199.32 L324.77,198.85 L325.28,198.40 L325.79,197.96 L326.30,197.53 L326.81,197.08 L327.32,196.62 L327.83,196.16 L328.34,195.69 L328.85,195.23 L329.36,194.77 L329.87,194.32 L330.38,193.88 L330.89,193.46 L331.40,193.06 L331.91,192.68 L332.42,192.33 L332.93,192.02 L333.44,191.73 L333.95,191.49 L334.46,191.30 L334.97,191.19 L335.48,191.15 L335.99,191.19 L336.50,191.30 L337.01,191.48 L337.52,191.70 L338.03,191.98 L338.54,192.30 L339.05,192.66 L339.56,193.06 L340.07,193.48 L340.58,193.92 L341.09,194.37 L341.60,194.90 L342.11,195.54 L342.62,196.28 L343.13,197.08 L343.64,197.92 L344.15,198.78 L344.66,199.64 L345.17,200.48 L345.68,201.26 L346.19,201.97 L346.70,202.63 L347.21,203.29 L347.72,203.94 L348.23,204.58 L348.74,205.22 L349.25,205.85 L349.76,206.48 L350.27,207.10 L350.78,207.71 L351.30,208.32 L351.81,208.92 L352.32,209.52 L352.83,210.11 L353.34,210.70 L353.85,211.28 L354.36,211.85 L354.87,212.41 L355.38,212.98 L355.89,213.53 L356.40,214.08 L356.91,214.62 L357.42,215.17 L357.93,215.71 L358.44,216.24 L358.95,216.77 L359.46,217.30 L359.97,217.83 L360.48,218.35 L360.99,218.86 L361.50,219.37 L362.01,219.88 L362.52,220.38 L363.03,220.88 L363.54,221.37 L364.05,221.85 L364.56,222.33 L365.07,222.80 L365.58,223.27 L366.09,223.73 L366.60,224.18" stroke="#2828ff" stroke-width="1.2" stroke-dasharray="4.9,1.5,1.5,1.5"/>
<path d="M60.50,226.25 L61.01,225.01 L61.52,223.78 L62.03,222.57 L62.54,221.38 L63.05,220.22 L63.56,219.08 L64.07,217.97 L64.58,216.90 L65.09,215.86 L65.60,214.87 L66.11,213.90 L66.62,212.92 L67.13,211.95 L67.64,211.01 L68.15,210.09 L68.66,209.23 L69.17,208.42 L69.68,207.67 L70.19,207.02 L70.70,206.45 L71.21,205.95 L71.72,205.47 L72.23,205.02 L72.74,204.60 L73.25,204.21 L73.76,203.86 L74.27,203.53 L74.78,203.25 L75.29,203.00 L75.81,202.79 L76.32,202.59 L76.83,202.37 L77.34,202.16 L77.85,201.97 L78.36,201.81 L78.87,201.70 L79.38,201.66 L79.89,201.69 L80.40,201.78 L80.91,201.89 L81.42,202.01 L81.93,202.14 L82.44,202.28 L82.95,202.43 L83.46,202.58 L83.97,202.72 L84.48,202.87 L84.99,203.01 L85.50,203.15 L86.01,203.30 L86.52,203.45 L87.03,203.60 L87.54,203.75 L88.05,203.89 L88.56,204.03 L89.07,204.16 L89.58,204.27 L90.09,204.38 L90.60,204.44 L91.11,204.44 L91.62,204.39 L92.13,204.30 L92.64,204.17 L93.15,204.02 L93.66,203.84 L94.17,203.66 L94.68,203.48 L95.19,203.30 L95.70,203.10 L96.21,202.83 L96.72,202.50 L97.23,202.11 L97.74,201.69 L98.25,201.24 L98.76,200.76 L99.27,200.26 L99.78,199.74 L100.29,199.15 L100.80,198.49 L101.31,197.77 L101.82,197.01 L102.33,196.20 L102.84,195.36 L103.35,194.51 L103.86,193.64 L104.37,192.78 L104.88,191.91 L105.39,191.01 L105.90,190.08 L106.41,189.12 L106.93,188.14 L107.44,187.15 L107.95,186.13 L108.46,185.11 L108.97,184.08 L109.48,183.04 L109.99,182.00 L110.50,180.93 L111.01,179.83 L111.52,178.70 L112.03,177.52 L112.54,176.31 L113.05,175.05 L113.56,173.75 L114.07,172.40 L114.58,171.01 L115.09,169.56 L115.60,168.06 L116.11,166.47 L116.62,164.63 L117.13,162.55 L117.64,160.26 L118.15,157.80 L118.66,155.20 L119.17,152.49 L119.68,149.62 L120.19,146.31 L120.70,142.75 L121.21,139.18 L121.72,135.83 L122.23,132.67 L122.74,129.59 L123.25,126.62 L123.76,123.82 L124.27,121.26 L124.78,118.95 L125.29,116.82 L125.80,114.86 L126.31,113.05 L126.82,111.40 L127.33,109.84 L127.84,108.34 L128.35,106.91 L128.86,105.57 L129.37,104.33 L129.88,103.19 L130.39,102.08 L130.90,100.95 L131.41,99.84 L131.92,98.78 L132.43,97.79 L132.94,96.92 L133.45,96.18 L133.96,95.61 L134.47,95.12 L134.98,94.61 L135.49,94.11 L136.00,93.64 L136.51,93.22 L137.03,92.88 L137.54,92.64 L138.05,92.53 L138.56,92.55 L139.07,92.62 L139.58,92.73 L140.09,92.88 L140.60,93.06 L141.11,93.27 L141.62,93.50 L142.13,93.74 L142.64,94.01 L143.15,94.30 L143.66,94.61 L144.17,94.94 L144.68,95.29 L145.19,95.65 L145.70,96.01 L146.21,96.37 L146.72,96.73 L147.23,97.08 L147.74,97.45 L148.25,97.86 L148.76,98.31 L149.27,98.77 L149.78,99.24 L150.29,99.70 L150.80,100.15 L151.31,100.56 L151.82,100.94 L152.33,101.27 L152.84,101.57 L153.35,101.88 L153.86,102.19 L154.37,102.49 L154.88,102.77 L155.39,103.03 L155.90,103.25 L156.41,103.43 L156.92,103.56 L157.43,103.64 L157.94,103.69 L158.45,103.74 L158.96,103.80 L159.47,103.87 L159.98,103.94 L160.49,104.02 L161.00,104.10 L161.51,104.19 L162.02,104.29 L162.53,104.38 L163.04,104.48 L163.55,104.59 L164.06,104.70 L164.57,104.81 L165.08,104.89 L165.59,104.90 L166.10,104.86 L166.61,104.76 L167.12,104.63 L167.63,104.46 L168.15,104.26 L168.66,104.05 L169.17,103.82 L169.68,103.60 L170.19,103.30 L170.70,102.86 L171.21,102.31 L171.72,101.65 L172.23,100.88 L172.74,100.03 L173.25,99.11 L173.76,98.12 L174.27,97.08 L174.78,96.01 L175.29,94.79 L175.80,93.36 L176.31,91.75 L176.82,90.01 L177.33,88.18 L177.84,86.32 L178.35,84.46 L178.86,82.66 L179.37,80.89 L179.88,79.10 L180.39,77.30 L180.90,75.47 L181.41,73.62 L181.92,71.75 L182.43,69.85 L182.94,67.93 L183.45,65.96 L183.96,63.94 L184.47,61.87 L184.98,59.78 L185.49,57.69 L186.00,55.59 L186.51,53.53 L187.02,51.50 L187.53,49.52 L188.04,47.58 L188.55,45.61 L189.06,43.63 L189.57,41.65 L190.08,39.70 L190.59,37.79 L191.10,35.95 L191.61,34.18 L192.12,32.51 L192.63,30.96 L193.14,29.55 L193.65,28.22 L194.16,26.93 L194.67,25.74 L195.18,24.69 L195.69,23.80 L196.20,23.12 L196.71,22.70 L197.22,22.54 L197.73,22.62 L198.25,22.90 L198.76,23.36 L199.27,23.99 L199.78,24.74 L200.29,25.60 L200.80,26.60 L201.31,27.77 L201.82,29.09 L202.33,30.55 L202.84,32.12 L203.35,33.78 L203.86,35.52 L204.37,37.32 L204.88,39.16 L205.39,41.01 L205.90,42.87 L206.41,44.71 L206.92,46.51 L207.43,48.33 L207.94,50.20 L208.45,52.14 L208.96,54.13 L209.47,56.16 L209.98,58.22 L210.49,60.31 L211.00,62.41 L211.51,64.53 L212.02,66.64 L212.53,68.75 L213.04,70.85 L213.55,72.92 L214.06,74.95 L214.57,76.93 L215.08,78.83 L215.59,80.73 L216.10,82.63 L216.61,84.54 L217.12,86.45 L217.63,88.35 L218.14,90.23 L218.65,92.10 L219.16,93.95 L219.67,95.77 L220.18,97.55 L220.69,99.30 L221.20,101.00 L221.71,102.65 L222.22,104.25 L222.73,105.79 L223.24,107.26 L223.75,108.66 L224.26,109.98 L224.77,111.22 L225.28,112.40 L225.79,113.55 L226.30,114.66 L226.81,115.74 L227.32,116.79 L227.83,117.81 L228.34,118.80 L228.86,119.76 L229.37,120.70 L229.88,121.62 L230.39,122.51 L230.90,123.38 L231.41,124.24 L231.92,125.07 L232.43,125.89 L232.94,126.70 L233.45,127.48 L233.96,128.26 L234.47,129.02 L234.98,129.76 L235.49,130.49 L236.00,131.21 L236.51,131.92 L237.02,132.62 L237.53,133.32 L238.04,134.02 L238.55,134.71 L239.06,135.40 L239.57,136.10 L240.08,136.79 L240.59,137.49 L241.10,138.19 L241.61,138.90 L242.12,139.62 L242.63,140.34 L243.14,141.08 L243.65,141.83 L244.16,142.60 L244.67,143.38 L245.18,144.18 L245.69,144.99 L246.20,145.81 L246.71,146.64 L247.22,147.48 L247.73,148.33 L248.24,149.18 L248.75,150.04 L249.26,150.90 L249.77,151.77 L250.28,152.64 L250.79,153.51 L251.30,154.39 L251.81,155.27 L252.32,156.14 L252.83,157.02 L253.34,157.90 L253.85,158.78 L254.36,159.65 L254.87,160.52 L255.38,161.39 L255.89,162.26 L256.40,163.13 L256.91,164.01 L257.42,164.89 L257.93,165.77 L258.44,166.65 L258.95,167.54 L259.47,168.43 L259.98,169.31 L260.49,170.20 L261.00,171.08 L261.51,171.96 L262.02,172.83 L262.53,173.70 L263.04,174.56 L263.55,175.42 L264.06,176.27 L264.57,177.11 L265.08,177.95 L265.59,178.79 L266.10,179.64 L266.61,180.50 L267.12,181.37 L267.63,182.24 L268.14,183.11 L268.65,183.98 L269.16,184.85 L269.67,185.71 L270.18,186.57 L270.69,187.41 L271.20,188.24 L271.71,189.06 L272.22,189.85 L272.73,190.63 L273.24,191.38 L273.75,192.11 L274.26,192.80 L274.77,193.47 L275.28,194.11 L275.79,194.71 L276.30,195.27 L276.81,195.82 L277.32,196.36 L277.83,196.91 L278.34,197.44 L278.85,197.98 L279.36,198.51 L279.87,199.03 L280.38,199.54 L280.89,200.04 L281.40,200.53 L281.91,201.01 L282.42,201.48 L282.93,201.94 L283.44,202.37 L283.95,202.79 L284.46,203.20 L284.97,203.58 L285.48,203.95 L285.99,204.29 L286.50,204.61 L287.01,204.91 L287.52,205.18 L288.03,205.42 L288.54,205.64 L289.05,205.83 L289.56,206.00 L290.08,206.18 L290.59,206.35 L291.10,206.52 L291.61,206.68 L292.12,206.84 L292.63,206.99 L293.14,207.14 L293.65,207.28 L294.16,207.41 L294.67,207.53 L295.18,207.64 L295.69,207.75 L296.20,207.84 L296.71,207.91 L297.22,207.98 L297.73,208.03 L298.24,208.07 L298.75,208.09 L299.26,208.10 L299.77,208.11 L300.28,208.10 L300.79,208.09 L301.30,208.07 L301.81,208.04 L302.32,208.01 L302.83,207.96 L303.34,207.92 L303.85,207.86 L304.36,207.80 L304.87,207.74 L305.38,207.67 L305.89,207.59 L306.40,207.49 L306.91,207.37 L307.42,207.24 L307.93,207.10 L308.44,206.94 L308.95,206.77 L309.46,206.58 L309.97,206.38 L310.48,206.17 L310.99,205.94 L311.50,205.71 L312.01,205.46 L312.52,205.21 L313.03,204.94 L313.54,204.67 L314.05,204.38 L314.56,204.09 L315.07,203.79 L315.58,203.48 L316.09,203.16 L316.60,202.79 L317.11,202.40 L317.62,201.98 L318.13,201.53 L318.64,201.06 L319.15,200.58 L319.66,200.07 L320.17,199.56 L320.69,199.03 L321.20,198.50 L321.71,197.95 L322.22,197.41 L322.73,196.86 L323.24,196.31 L323.75,195.77 L324.26,195.24 L324.77,194.72 L325.28,194.21 L325.79,193.73 L326.30,193.24 L326.81,192.74 L327.32,192.24 L327.83,191.73 L328.34,191.21 L328.85,190.70 L329.36,190.20 L329.87,189.71 L330.38,189.23 L330.89,188.77 L331.40,188.34 L331.91,187.93 L332.42,187.56 L332.93,187.22 L333.44,186.92 L333.95,186.66 L334.46,186.46 L334.97,186.35 L335.48,186.32 L335.99,186.37 L336.50,186.50 L337.01,186.70 L337.52,186.95 L338.03,187.27 L338.54,187.63 L339.05,188.03 L339.56,188.47 L340.07,188.95 L340.58,189.44 L341.09,189.96 L341.60,190.55 L342.11,191.26 L342.62,192.06 L343.13,192.93 L343.64,193.84 L344.15,194.78 L344.66,195.72 L345.17,196.63 L345.68,197.49 L346.19,198.28 L346.70,199.03 L347.21,199.76 L347.72,200.49 L348.23,201.22 L348.74,201.94 L349.25,202.65 L349.76,203.35 L350.27,204.05 L350.78,204.74 L351.30,205.42 L351.81,206.10 L352.32,206.77 L352.83,207.44 L353.34,208.11 L353.85,208.77 L354.36,209.42 L354.87,210.08 L355.38,210.72 L355.89,211.37 L356.40,212.01 L356.91,212.65 L357.42,213.28 L357.93,213.92 L358.44,214.55 L358.95,215.18 L359.46,215.81 L359.97,216.43 L360.48,217.05 L360.99,217.67 L361.50,218.29 L362.01,218.90 L362.52,219.51 L363.03,220.11 L363.54,220.71 L364.05,221.30 L364.56,221.89 L365.07,222.47 L365.58,223.05 L366.09,223.62 L366.60,224.18" stroke="#ff20ff" stroke-width="1.2" stroke-dasharray="4.4,2,1,2.2,1,2.6"/>
<path d="M60.50,226.25 L61.01,225.20 L61.52,224.16 L62.03,223.13 L62.54,222.13 L63.05,221.15 L63.56,220.20 L64.07,219.28 L64.58,218.39 L65.09,217.54 L65.60,216.73 L66.11,215.93 L66.62,215.13 L67.13,214.33 L67.64,213.55 L68.15,212.79 L68.66,212.08 L69.17,211.42 L69.68,210.82 L70.19,210.29 L70.70,209.85 L71.21,209.47 L71.72,209.10 L72.23,208.75 L72.74,208.42 L73.25,208.12 L73.76,207.83 L74.27,207.57 L74.78,207.33 L75.29,207.12 L75.81,206.93 L76.32,206.74 L76.83,206.54 L77.34,206.33 L77.85,206.14 L78.36,205.97 L78.87,205.85 L79.38,205.79 L79.89,205.81 L80.40,205.88 L80.91,205.97 L81.42,206.06 L81.93,206.16 L82.44,206.27 L82.95,206.38 L83.46,206.49 L83.97,206.60 L84.48,206.70 L84.99,206.80 L85.50,206.90 L86.01,207.00 L86.52,207.10 L87.03,207.20 L87.54,207.30 L88.05,207.40 L88.56,207.48 L89.07,207.56 L89.58,207.63 L90.09,207.69 L90.60,207.70 L91.11,207.63 L91.62,207.51 L92.13,207.33 L92.64,207.10 L93.15,206.84 L93.66,206.55 L94.17,206.25 L94.68,205.94 L95.19,205.63 L95.70,205.29 L96.21,204.88 L96.72,204.40 L97.23,203.88 L97.74,203.31 L98.25,202.71 L98.76,202.08 L99.27,201.44 L99.78,200.78 L100.29,200.05 L100.80,199.26 L101.31,198.41 L101.82,197.51 L102.33,196.59 L102.84,195.64 L103.35,194.68 L103.86,193.73 L104.37,192.78 L104.88,191.84 L105.39,190.88 L105.90,189.89 L106.41,188.90 L106.93,187.89 L107.44,186.87 L107.95,185.84 L108.46,184.82 L108.97,183.79 L109.48,182.76 L109.99,181.74 L110.50,180.70 L111.01,179.63 L111.52,178.53 L112.03,177.40 L112.54,176.24 L113.05,175.03 L113.56,173.79 L114.07,172.50 L114.58,171.17 L115.09,169.79 L115.60,168.36 L116.11,166.84 L116.62,165.07 L117.13,163.06 L117.64,160.84 L118.15,158.46 L118.66,155.93 L119.17,153.30 L119.68,150.50 L120.19,147.26 L120.70,143.76 L121.21,140.26 L121.72,136.96 L122.23,133.88 L122.74,130.86 L123.25,127.97 L123.76,125.26 L124.27,122.79 L124.78,120.58 L125.29,118.55 L125.80,116.69 L126.31,114.99 L126.82,113.45 L127.33,112.00 L127.84,110.61 L128.35,109.30 L128.86,108.07 L129.37,106.94 L129.88,105.92 L130.39,104.91 L130.90,103.89 L131.41,102.88 L131.92,101.92 L132.43,101.04 L132.94,100.25 L133.45,99.60 L133.96,99.10 L134.47,98.68 L134.98,98.24 L135.49,97.79 L136.00,97.36 L136.51,96.98 L137.03,96.66 L137.54,96.44 L138.05,96.33 L138.56,96.34 L139.07,96.41 L139.58,96.54 L140.09,96.71 L140.60,96.92 L141.11,97.17 L141.62,97.44 L142.13,97.74 L142.64,98.07 L143.15,98.43 L143.66,98.82 L144.17,99.24 L144.68,99.68 L145.19,100.13 L145.70,100.59 L146.21,101.06 L146.72,101.52 L147.23,101.99 L147.74,102.47 L148.25,103.00 L148.76,103.57 L149.27,104.15 L149.78,104.74 L150.29,105.33 L150.80,105.90 L151.31,106.45 L151.82,106.95 L152.33,107.41 L152.84,107.83 L153.35,108.27 L153.86,108.70 L154.37,109.12 L154.88,109.52 L155.39,109.89 L155.90,110.22 L156.41,110.51 L156.92,110.75 L157.43,110.92 L157.94,111.06 L158.45,111.20 L158.96,111.35 L159.47,111.49 L159.98,111.63 L160.49,111.77 L161.00,111.91 L161.51,112.04 L162.02,112.17 L162.53,112.30 L163.04,112.42 L163.55,112.54 L164.06,112.64 L164.57,112.75 L165.08,112.80 L165.59,112.80 L166.10,112.73 L166.61,112.60 L167.12,112.44 L167.63,112.23 L168.15,112.00 L168.66,111.74 L169.17,111.47 L169.68,111.20 L170.19,110.86 L170.70,110.38 L171.21,109.78 L171.72,109.06 L172.23,108.25 L172.74,107.36 L173.25,106.38 L173.76,105.35 L174.27,104.26 L174.78,103.14 L175.29,101.88 L175.80,100.40 L176.31,98.75 L176.82,96.97 L177.33,95.11 L177.84,93.22 L178.35,91.33 L178.86,89.49 L179.37,87.69 L179.88,85.87 L180.39,84.02 L180.90,82.16 L181.41,80.27 L181.92,78.36 L182.43,76.43 L182.94,74.47 L183.45,72.46 L183.96,70.40 L184.47,68.29 L184.98,66.16 L185.49,64.03 L186.00,61.90 L186.51,59.79 L187.02,57.73 L187.53,55.72 L188.04,53.74 L188.55,51.74 L189.06,49.72 L189.57,47.72 L190.08,45.74 L190.59,43.80 L191.10,41.93 L191.61,40.14 L192.12,38.45 L192.63,36.88 L193.14,35.45 L193.65,34.11 L194.16,32.81 L194.67,31.61 L195.18,30.55 L195.69,29.66 L196.20,28.98 L196.71,28.56 L197.22,28.41 L197.73,28.48 L198.25,28.75 L198.76,29.20 L199.27,29.81 L199.78,30.54 L200.29,31.37 L200.80,32.34 L201.31,33.48 L201.82,34.76 L202.33,36.17 L202.84,37.70 L203.35,39.32 L203.86,41.01 L204.37,42.76 L204.88,44.55 L205.39,46.35 L205.90,48.16 L206.41,49.94 L206.92,51.69 L207.43,53.45 L207.94,55.28 L208.45,57.16 L208.96,59.10 L209.47,61.08 L209.98,63.10 L210.49,65.14 L211.00,67.20 L211.51,69.28 L212.02,71.36 L212.53,73.43 L213.04,75.50 L213.55,77.54 L214.06,79.55 L214.57,81.50 L215.08,83.39 L215.59,85.26 L216.10,87.14 L216.61,89.02 L217.12,90.90 L217.63,92.78 L218.14,94.64 L218.65,96.48 L219.16,98.31 L219.67,100.10 L220.18,101.86 L220.69,103.58 L221.20,105.26 L221.71,106.89 L222.22,108.46 L222.73,109.97 L223.24,111.42 L223.75,112.80 L224.26,114.10 L224.77,115.32 L225.28,116.48 L225.79,117.60 L226.30,118.69 L226.81,119.75 L227.32,120.78 L227.83,121.78 L228.34,122.76 L228.86,123.70 L229.37,124.63 L229.88,125.53 L230.39,126.41 L230.90,127.27 L231.41,128.11 L231.92,128.93 L232.43,129.74 L232.94,130.53 L233.45,131.31 L233.96,132.07 L234.47,132.82 L234.98,133.56 L235.49,134.29 L236.00,135.00 L236.51,135.71 L237.02,136.41 L237.53,137.11 L238.04,137.81 L238.55,138.50 L239.06,139.20 L239.57,139.90 L240.08,140.60 L240.59,141.30 L241.10,142.00 L241.61,142.72 L242.12,143.44 L242.63,144.16 L243.14,144.91 L243.65,145.66 L244.16,146.43 L244.67,147.21 L245.18,148.02 L245.69,148.83 L246.20,149.65 L246.71,150.49 L247.22,151.33 L247.73,152.17 L248.24,153.03 L248.75,153.89 L249.26,154.75 L249.77,155.62 L250.28,156.49 L250.79,157.37 L251.30,158.24 L251.81,159.12 L252.32,160.00 L252.83,160.87 L253.34,161.75 L253.85,162.62 L254.36,163.50 L254.87,164.36 L255.38,165.23 L255.89,166.09 L256.40,166.96 L256.91,167.84 L257.42,168.71 L257.93,169.59 L258.44,170.47 L258.95,171.36 L259.47,172.24 L259.98,173.12 L260.49,174.00 L261.00,174.87 L261.51,175.74 L262.02,176.61 L262.53,177.47 L263.04,178.33 L263.55,179.18 L264.06,180.02 L264.57,180.85 L265.08,181.68 L265.59,182.51 L266.10,183.35 L266.61,184.20 L267.12,185.05 L267.63,185.91 L268.14,186.77 L268.65,187.63 L269.16,188.49 L269.67,189.33 L270.18,190.17 L270.69,191.00 L271.20,191.82 L271.71,192.62 L272.22,193.39 L272.73,194.15 L273.24,194.89 L273.75,195.59 L274.26,196.27 L274.77,196.92 L275.28,197.54 L275.79,198.11 L276.30,198.65 L276.81,199.17 L277.32,199.68 L277.83,200.18 L278.34,200.68 L278.85,201.18 L279.36,201.66 L279.87,202.14 L280.38,202.60 L280.89,203.06 L281.40,203.50 L281.91,203.93 L282.42,204.35 L282.93,204.74 L283.44,205.13 L283.95,205.49 L284.46,205.84 L284.97,206.17 L285.48,206.48 L285.99,206.76 L286.50,207.03 L287.01,207.26 L287.52,207.48 L288.03,207.67 L288.54,207.83 L289.05,207.97 L289.56,208.09 L290.08,208.20 L290.59,208.32 L291.10,208.44 L291.61,208.55 L292.12,208.66 L292.63,208.77 L293.14,208.87 L293.65,208.97 L294.16,209.06 L294.67,209.14 L295.18,209.22 L295.69,209.29 L296.20,209.35 L296.71,209.40 L297.22,209.44 L297.73,209.47 L298.24,209.48 L298.75,209.49 L299.26,209.49 L299.77,209.49 L300.28,209.48 L300.79,209.47 L301.30,209.45 L301.81,209.43 L302.32,209.40 L302.83,209.36 L303.34,209.33 L303.85,209.29 L304.36,209.24 L304.87,209.19 L305.38,209.14 L305.89,209.08 L306.40,209.00 L306.91,208.91 L307.42,208.80 L307.93,208.68 L308.44,208.55 L308.95,208.40 L309.46,208.24 L309.97,208.07 L310.48,207.89 L310.99,207.70 L311.50,207.50 L312.01,207.28 L312.52,207.06 L313.03,206.83 L313.54,206.59 L314.05,206.34 L314.56,206.08 L315.07,205.82 L315.58,205.55 L316.09,205.26 L316.60,204.93 L317.11,204.57 L317.62,204.19 L318.13,203.78 L318.64,203.34 L319.15,202.89 L319.66,202.42 L320.17,201.94 L320.69,201.45 L321.20,200.95 L321.71,200.44 L322.22,199.93 L322.73,199.43 L323.24,198.92 L323.75,198.43 L324.26,197.94 L324.77,197.47 L325.28,197.02 L325.79,196.58 L326.30,196.15 L326.81,195.70 L327.32,195.24 L327.83,194.78 L328.34,194.31 L328.85,193.85 L329.36,193.39 L329.87,192.94 L330.38,192.50 L330.89,192.08 L331.40,191.68 L331.91,191.30 L332.42,190.95 L332.93,190.64 L333.44,190.35 L333.95,190.11 L334.46,189.92 L334.97,189.81 L335.48,189.78 L335.99,189.83 L336.50,189.94 L337.01,190.12 L337.52,190.36 L338.03,190.65 L338.54,190.98 L339.05,191.36 L339.56,191.76 L340.07,192.20 L340.58,192.66 L341.09,193.13 L341.60,193.67 L342.11,194.33 L342.62,195.09 L343.13,195.90 L343.64,196.77 L344.15,197.65 L344.66,198.53 L345.17,199.39 L345.68,200.20 L346.19,200.93 L346.70,201.61 L347.21,202.29 L347.72,202.96 L348.23,203.63 L348.74,204.28 L349.25,204.94 L349.76,205.59 L350.27,206.23 L350.78,206.86 L351.30,207.49 L351.81,208.12 L352.32,208.74 L352.83,209.35 L353.34,209.96 L353.85,210.56 L354.36,211.15 L354.87,211.74 L355.38,212.33 L355.89,212.91 L356.40,213.49 L356.91,214.06 L357.42,214.63 L357.93,215.19 L358.44,215.76 L358.95,216.32 L359.46,216.87 L359.97,217.43 L360.48,217.98 L360.99,218.52 L361.50,219.06 L362.01,219.60 L362.52,220.13 L363.03,220.66 L363.54,221.18 L364.05,221.69 L364.56,222.20 L365.07,222.71 L365.58,223.20 L366.09,223.70 L366.60,224.18" stroke="#a8a868" stroke-width="1.5" />
<path d="M60.50,226.25 L61.01,225.11 L61.52,223.98 L62.03,222.88 L62.54,221.79 L63.05,220.73 L63.56,219.69 L64.07,218.69 L64.58,217.72 L65.09,216.79 L65.60,215.90 L66.11,215.02 L66.62,214.14 L67.13,213.27 L67.64,212.41 L68.15,211.59 L68.66,210.80 L69.17,210.07 L69.68,209.41 L70.19,208.81 L70.70,208.31 L71.21,207.86 L71.72,207.44 L72.23,207.03 L72.74,206.64 L73.25,206.28 L73.76,205.94 L74.27,205.63 L74.78,205.35 L75.29,205.09 L75.81,204.86 L76.32,204.63 L76.83,204.39 L77.34,204.15 L77.85,203.92 L78.36,203.72 L78.87,203.57 L79.38,203.49 L79.89,203.48 L80.40,203.53 L80.91,203.59 L81.42,203.66 L81.93,203.74 L82.44,203.83 L82.95,203.93 L83.46,204.03 L83.97,204.12 L84.48,204.22 L84.99,204.31 L85.50,204.40 L86.01,204.49 L86.52,204.59 L87.03,204.69 L87.54,204.79 L88.05,204.89 L88.56,204.98 L89.07,205.07 L89.58,205.14 L90.09,205.21 L90.60,205.23 L91.11,205.20 L91.62,205.11 L92.13,204.99 L92.64,204.83 L93.15,204.64 L93.66,204.44 L94.17,204.23 L94.68,204.03 L95.19,203.82 L95.70,203.60 L96.21,203.30 L96.72,202.94 L97.23,202.54 L97.74,202.09 L98.25,201.61 L98.76,201.11 L99.27,200.59 L99.78,200.04 L100.29,199.42 L100.80,198.74 L101.31,197.99 L101.82,197.19 L102.33,196.35 L102.84,195.48 L103.35,194.59 L103.86,193.69 L104.37,192.78 L104.88,191.87 L105.39,190.93 L105.90,189.95 L106.41,188.96 L106.93,187.94 L107.44,186.90 L107.95,185.85 L108.46,184.78 L108.97,183.71 L109.48,182.63 L109.99,181.55 L110.50,180.45 L111.01,179.31 L111.52,178.13 L112.03,176.91 L112.54,175.66 L113.05,174.36 L113.56,173.02 L114.07,171.63 L114.58,170.19 L115.09,168.70 L115.60,167.17 L116.11,165.53 L116.62,163.65 L117.13,161.52 L117.64,159.19 L118.15,156.68 L118.66,154.04 L119.17,151.29 L119.68,148.37 L120.19,145.01 L120.70,141.40 L121.21,137.78 L121.72,134.38 L122.23,131.17 L122.74,128.01 L123.25,124.96 L123.76,122.07 L124.27,119.40 L124.78,116.98 L125.29,114.73 L125.80,112.64 L126.31,110.70 L126.82,108.90 L127.33,107.20 L127.84,105.55 L128.35,103.97 L128.86,102.48 L129.37,101.08 L129.88,99.80 L130.39,98.54 L130.90,97.26 L131.41,96.01 L131.92,94.81 L132.43,93.70 L132.94,92.70 L133.45,91.85 L133.96,91.17 L134.47,90.59 L134.98,89.99 L135.49,89.42 L136.00,88.89 L136.51,88.42 L137.03,88.06 L137.54,87.80 L138.05,87.70 L138.56,87.74 L139.07,87.85 L139.58,88.04 L140.09,88.28 L140.60,88.57 L141.11,88.91 L141.62,89.30 L142.13,89.71 L142.64,90.17 L143.15,90.67 L143.66,91.20 L144.17,91.77 L144.68,92.37 L145.19,92.99 L145.70,93.63 L146.21,94.28 L146.72,94.94 L147.23,95.60 L147.74,96.28 L148.25,97.02 L148.76,97.79 L149.27,98.58 L149.78,99.39 L150.29,100.19 L150.80,100.98 L151.31,101.75 L151.82,102.47 L152.33,103.15 L152.84,103.79 L153.35,104.44 L153.86,105.09 L154.37,105.73 L154.88,106.34 L155.39,106.92 L155.90,107.46 L156.41,107.95 L156.92,108.38 L157.43,108.75 L157.94,109.07 L158.45,109.39 L158.96,109.71 L159.47,110.02 L159.98,110.31 L160.49,110.60 L161.00,110.88 L161.51,111.15 L162.02,111.40 L162.53,111.63 L163.04,111.85 L163.55,112.05 L164.06,112.24 L164.57,112.40 L165.08,112.52 L165.59,112.57 L166.10,112.57 L166.61,112.51 L167.12,112.41 L167.63,112.28 L168.15,112.13 L168.66,111.95 L169.17,111.77 L169.68,111.58 L170.19,111.32 L170.70,110.92 L171.21,110.41 L171.72,109.78 L172.23,109.06 L172.74,108.25 L173.25,107.37 L173.76,106.42 L174.27,105.42 L174.78,104.38 L175.29,103.21 L175.80,101.81 L176.31,100.24 L176.82,98.55 L177.33,96.76 L177.84,94.94 L178.35,93.13 L178.86,91.37 L179.37,89.64 L179.88,87.90 L180.39,86.14 L180.90,84.35 L181.41,82.54 L181.92,80.71 L182.43,78.86 L182.94,76.98 L183.45,75.05 L183.96,73.07 L184.47,71.04 L184.98,68.99 L185.49,66.93 L186.00,64.87 L186.51,62.84 L187.02,60.84 L187.53,58.90 L188.04,56.99 L188.55,55.05 L189.06,53.10 L189.57,51.15 L190.08,49.22 L190.59,47.34 L191.10,45.52 L191.61,43.77 L192.12,42.12 L192.63,40.58 L193.14,39.18 L193.65,37.86 L194.16,36.59 L194.67,35.40 L195.18,34.35 L195.69,33.46 L196.20,32.79 L196.71,32.36 L197.22,32.19 L197.73,32.24 L198.25,32.49 L198.76,32.91 L199.27,33.48 L199.78,34.17 L200.29,34.96 L200.80,35.89 L201.31,36.97 L201.82,38.20 L202.33,39.56 L202.84,41.03 L203.35,42.59 L203.86,44.22 L204.37,45.90 L204.88,47.62 L205.39,49.36 L205.90,51.10 L206.41,52.82 L206.92,54.51 L207.43,56.20 L207.94,57.97 L208.45,59.79 L208.96,61.66 L209.47,63.59 L209.98,65.54 L210.49,67.53 L211.00,69.54 L211.51,71.57 L212.02,73.61 L212.53,75.64 L213.04,77.67 L213.55,79.68 L214.06,81.66 L214.57,83.58 L215.08,85.43 L215.59,87.27 L216.10,89.12 L216.61,90.97 L217.12,92.81 L217.63,94.65 L218.14,96.48 L218.65,98.29 L219.16,100.08 L219.67,101.84 L220.18,103.57 L220.69,105.25 L221.20,106.89 L221.71,108.49 L222.22,110.03 L222.73,111.51 L223.24,112.92 L223.75,114.26 L224.26,115.53 L224.77,116.72 L225.28,117.85 L225.79,118.94 L226.30,120.00 L226.81,121.04 L227.32,122.04 L227.83,123.01 L228.34,123.96 L228.86,124.88 L229.37,125.78 L229.88,126.66 L230.39,127.52 L230.90,128.36 L231.41,129.18 L231.92,129.99 L232.43,130.78 L232.94,131.56 L233.45,132.33 L233.96,133.09 L234.47,133.83 L234.98,134.56 L235.49,135.28 L236.00,136.00 L236.51,136.71 L237.02,137.41 L237.53,138.12 L238.04,138.82 L238.55,139.52 L239.06,140.23 L239.57,140.95 L240.08,141.66 L240.59,142.38 L241.10,143.10 L241.61,143.83 L242.12,144.57 L242.63,145.32 L243.14,146.08 L243.65,146.85 L244.16,147.64 L244.67,148.44 L245.18,149.27 L245.69,150.10 L246.20,150.95 L246.71,151.80 L247.22,152.67 L247.73,153.54 L248.24,154.41 L248.75,155.30 L249.26,156.18 L249.77,157.08 L250.28,157.97 L250.79,158.87 L251.30,159.77 L251.81,160.67 L252.32,161.57 L252.83,162.47 L253.34,163.37 L253.85,164.27 L254.36,165.17 L254.87,166.06 L255.38,166.95 L255.89,167.83 L256.40,168.73 L256.91,169.62 L257.42,170.52 L257.93,171.42 L258.44,172.32 L258.95,173.22 L259.47,174.13 L259.98,175.02 L260.49,175.92 L261.00,176.81 L261.51,177.70 L262.02,178.59 L262.53,179.47 L263.04,180.34 L263.55,181.20 L264.06,182.06 L264.57,182.90 L265.08,183.74 L265.59,184.58 L266.10,185.43 L266.61,186.29 L267.12,187.15 L267.63,188.02 L268.14,188.88 L268.65,189.75 L269.16,190.61 L269.67,191.46 L270.18,192.30 L270.69,193.12 L271.20,193.94 L271.71,194.73 L272.22,195.51 L272.73,196.26 L273.24,196.99 L273.75,197.69 L274.26,198.36 L274.77,198.99 L275.28,199.59 L275.79,200.16 L276.30,200.68 L276.81,201.18 L277.32,201.68 L277.83,202.17 L278.34,202.66 L278.85,203.14 L279.36,203.61 L279.87,204.07 L280.38,204.52 L280.89,204.96 L281.40,205.39 L281.91,205.81 L282.42,206.21 L282.93,206.59 L283.44,206.96 L283.95,207.31 L284.46,207.64 L284.97,207.96 L285.48,208.25 L285.99,208.52 L286.50,208.77 L287.01,208.99 L287.52,209.19 L288.03,209.37 L288.54,209.52 L289.05,209.63 L289.56,209.74 L290.08,209.85 L290.59,209.95 L291.10,210.05 L291.61,210.15 L292.12,210.25 L292.63,210.34 L293.14,210.43 L293.65,210.51 L294.16,210.59 L294.67,210.66 L295.18,210.72 L295.69,210.78 L296.20,210.82 L296.71,210.86 L297.22,210.89 L297.73,210.90 L298.24,210.91 L298.75,210.91 L299.26,210.90 L299.77,210.88 L300.28,210.86 L300.79,210.84 L301.30,210.81 L301.81,210.77 L302.32,210.74 L302.83,210.69 L303.34,210.65 L303.85,210.60 L304.36,210.54 L304.87,210.48 L305.38,210.42 L305.89,210.35 L306.40,210.27 L306.91,210.17 L307.42,210.05 L307.93,209.93 L308.44,209.79 L308.95,209.63 L309.46,209.47 L309.97,209.29 L310.48,209.10 L310.99,208.90 L311.50,208.69 L312.01,208.47 L312.52,208.24 L313.03,208.00 L313.54,207.75 L314.05,207.50 L314.56,207.23 L315.07,206.96 L315.58,206.68 L316.09,206.38 L316.60,206.04 L317.11,205.68 L317.62,205.28 L318.13,204.86 L318.64,204.42 L319.15,203.96 L319.66,203.48 L320.17,202.99 L320.69,202.48 L321.20,201.97 L321.71,201.45 L322.22,200.93 L322.73,200.41 L323.24,199.90 L323.75,199.39 L324.26,198.89 L324.77,198.41 L325.28,197.94 L325.79,197.49 L326.30,197.04 L326.81,196.57 L327.32,196.10 L327.83,195.62 L328.34,195.14 L328.85,194.67 L329.36,194.19 L329.87,193.73 L330.38,193.28 L330.89,192.84 L331.40,192.43 L331.91,192.04 L332.42,191.68 L332.93,191.35 L333.44,191.06 L333.95,190.80 L334.46,190.60 L334.97,190.48 L335.48,190.44 L335.99,190.48 L336.50,190.58 L337.01,190.76 L337.52,190.98 L338.03,191.26 L338.54,191.59 L339.05,191.96 L339.56,192.36 L340.07,192.79 L340.58,193.24 L341.09,193.70 L341.60,194.24 L342.11,194.89 L342.62,195.64 L343.13,196.45 L343.64,197.31 L344.15,198.18 L344.66,199.06 L345.17,199.91 L345.68,200.70 L346.19,201.43 L346.70,202.10 L347.21,202.77 L347.72,203.44 L348.23,204.10 L348.74,204.75 L349.25,205.39 L349.76,206.03 L350.27,206.66 L350.78,207.29 L351.30,207.91 L351.81,208.52 L352.32,209.13 L352.83,209.73 L353.34,210.33 L353.85,210.91 L354.36,211.50 L354.87,212.08 L355.38,212.65 L355.89,213.22 L356.40,213.78 L356.91,214.34 L357.42,214.89 L357.93,215.45 L358.44,216.00 L358.95,216.54 L359.46,217.09 L359.97,217.62 L360.48,218.16 L360.99,218.69 L361.50,219.22 L362.01,219.74 L362.52,220.25 L363.03,220.77 L363.54,221.27 L364.05,221.77 L364.56,222.27 L365.07,222.75 L365.58,223.24 L366.09,223.71 L366.60,224.18" stroke="#ff5020" stroke-width="1.2" stroke-dasharray="4.4,4.2"/>
<path d="M60.50,226.25 L61.01,225.14 L61.52,224.05 L62.03,222.98 L62.54,221.93 L63.05,220.90 L63.56,219.90 L64.07,218.93 L64.58,218.00 L65.09,217.10 L65.60,216.24 L66.11,215.40 L66.62,214.55 L67.13,213.71 L67.64,212.88 L68.15,212.09 L68.66,211.33 L69.17,210.62 L69.68,209.98 L70.19,209.41 L70.70,208.93 L71.21,208.50 L71.72,208.09 L72.23,207.70 L72.74,207.32 L73.25,206.97 L73.76,206.64 L74.27,206.33 L74.78,206.05 L75.29,205.78 L75.81,205.55 L76.32,205.31 L76.83,205.06 L77.34,204.81 L77.85,204.57 L78.36,204.36 L78.87,204.20 L79.38,204.10 L79.89,204.08 L80.40,204.11 L80.91,204.15 L81.42,204.21 L81.93,204.28 L82.44,204.35 L82.95,204.43 L83.46,204.51 L83.97,204.59 L84.48,204.67 L84.99,204.74 L85.50,204.82 L86.01,204.90 L86.52,204.98 L87.03,205.06 L87.54,205.15 L88.05,205.23 L88.56,205.30 L89.07,205.37 L89.58,205.43 L90.09,205.48 L90.60,205.49 L91.11,205.44 L91.62,205.35 L92.13,205.21 L92.64,205.04 L93.15,204.84 L93.66,204.63 L94.17,204.40 L94.68,204.18 L95.19,203.97 L95.70,203.73 L96.21,203.42 L96.72,203.06 L97.23,202.64 L97.74,202.18 L98.25,201.70 L98.76,201.18 L99.27,200.65 L99.78,200.10 L100.29,199.47 L100.80,198.78 L101.31,198.02 L101.82,197.21 L102.33,196.37 L102.84,195.49 L103.35,194.60 L103.86,193.69 L104.37,192.78 L104.88,191.87 L105.39,190.94 L105.90,189.98 L106.41,189.01 L106.93,188.02 L107.44,187.03 L107.95,186.02 L108.46,185.01 L108.97,184.00 L109.48,182.99 L109.99,181.99 L110.50,180.96 L111.01,179.91 L111.52,178.82 L112.03,177.70 L112.54,176.55 L113.05,175.35 L113.56,174.12 L114.07,172.84 L114.58,171.52 L115.09,170.15 L115.60,168.73 L116.11,167.22 L116.62,165.46 L117.13,163.46 L117.64,161.25 L118.15,158.88 L118.66,156.36 L119.17,153.74 L119.68,150.95 L120.19,147.73 L120.70,144.25 L121.21,140.76 L121.72,137.48 L122.23,134.41 L122.74,131.42 L123.25,128.56 L123.76,125.87 L124.27,123.43 L124.78,121.25 L125.29,119.26 L125.80,117.44 L126.31,115.78 L126.82,114.27 L127.33,112.86 L127.84,111.52 L128.35,110.25 L128.86,109.06 L129.37,107.98 L129.88,107.00 L130.39,106.04 L130.90,105.06 L131.41,104.10 L131.92,103.19 L132.43,102.34 L132.94,101.60 L133.45,100.99 L133.96,100.54 L134.47,100.16 L134.98,99.75 L135.49,99.34 L136.00,98.95 L136.51,98.60 L137.03,98.32 L137.54,98.13 L138.05,98.05 L138.56,98.08 L139.07,98.18 L139.58,98.34 L140.09,98.55 L140.60,98.80 L141.11,99.10 L141.62,99.42 L142.13,99.77 L142.64,100.16 L143.15,100.58 L143.66,101.03 L144.17,101.51 L144.68,102.02 L145.19,102.54 L145.70,103.07 L146.21,103.62 L146.72,104.16 L147.23,104.71 L147.74,105.27 L148.25,105.89 L148.76,106.54 L149.27,107.21 L149.78,107.89 L150.29,108.58 L150.80,109.24 L151.31,109.88 L151.82,110.48 L152.33,111.03 L152.84,111.55 L153.35,112.08 L153.86,112.61 L154.37,113.13 L154.88,113.63 L155.39,114.10 L155.90,114.53 L156.41,114.92 L156.92,115.25 L157.43,115.52 L157.94,115.76 L158.45,116.00 L158.96,116.24 L159.47,116.48 L159.98,116.72 L160.49,116.95 L161.00,117.18 L161.51,117.40 L162.02,117.62 L162.53,117.84 L163.04,118.04 L163.55,118.24 L164.06,118.43 L164.57,118.61 L165.08,118.75 L165.59,118.83 L166.10,118.85 L166.61,118.82 L167.12,118.76 L167.63,118.66 L168.15,118.53 L168.66,118.39 L169.17,118.24 L169.68,118.09 L170.19,117.86 L170.70,117.51 L171.21,117.03 L171.72,116.44 L172.23,115.75 L172.74,114.98 L173.25,114.13 L173.76,113.22 L174.27,112.26 L174.78,111.26 L175.29,110.12 L175.80,108.76 L176.31,107.22 L176.82,105.56 L177.33,103.81 L177.84,102.01 L178.35,100.23 L178.86,98.50 L179.37,96.81 L179.88,95.10 L180.39,93.36 L180.90,91.61 L181.41,89.84 L181.92,88.04 L182.43,86.22 L182.94,84.37 L183.45,82.48 L183.96,80.53 L184.47,78.53 L184.98,76.52 L185.49,74.49 L186.00,72.46 L186.51,70.46 L187.02,68.49 L187.53,66.58 L188.04,64.70 L188.55,62.79 L189.06,60.86 L189.57,58.93 L190.08,57.03 L190.59,55.17 L191.10,53.36 L191.61,51.63 L192.12,50.00 L192.63,48.48 L193.14,47.09 L193.65,45.78 L194.16,44.52 L194.67,43.34 L195.18,42.29 L195.69,41.40 L196.20,40.73 L196.71,40.30 L197.22,40.11 L197.73,40.14 L198.25,40.35 L198.76,40.72 L199.27,41.22 L199.78,41.84 L200.29,42.54 L200.80,43.37 L201.31,44.35 L201.82,45.47 L202.33,46.71 L202.84,48.05 L203.35,49.48 L203.86,50.98 L204.37,52.52 L204.88,54.10 L205.39,55.70 L205.90,57.30 L206.41,58.87 L206.92,60.41 L207.43,61.96 L207.94,63.58 L208.45,65.27 L208.96,67.01 L209.47,68.80 L209.98,70.63 L210.49,72.50 L211.00,74.40 L211.51,76.32 L212.02,78.26 L212.53,80.20 L213.04,82.15 L213.55,84.10 L214.06,86.01 L214.57,87.87 L215.08,89.66 L215.59,91.44 L216.10,93.23 L216.61,95.02 L217.12,96.81 L217.63,98.60 L218.14,100.37 L218.65,102.12 L219.16,103.85 L219.67,105.56 L220.18,107.23 L220.69,108.86 L221.20,110.45 L221.71,111.99 L222.22,113.48 L222.73,114.91 L223.24,116.27 L223.75,117.56 L224.26,118.78 L224.77,119.92 L225.28,121.00 L225.79,122.05 L226.30,123.06 L226.81,124.05 L227.32,125.00 L227.83,125.93 L228.34,126.83 L228.86,127.71 L229.37,128.57 L229.88,129.40 L230.39,130.22 L230.90,131.02 L231.41,131.80 L231.92,132.56 L232.43,133.32 L232.94,134.06 L233.45,134.79 L233.96,135.51 L234.47,136.21 L234.98,136.90 L235.49,137.59 L236.00,138.27 L236.51,138.94 L237.02,139.61 L237.53,140.28 L238.04,140.95 L238.55,141.63 L239.06,142.30 L239.57,142.98 L240.08,143.67 L240.59,144.35 L241.10,145.04 L241.61,145.74 L242.12,146.44 L242.63,147.15 L243.14,147.88 L243.65,148.62 L244.16,149.37 L244.67,150.14 L245.18,150.93 L245.69,151.73 L246.20,152.54 L246.71,153.36 L247.22,154.19 L247.73,155.02 L248.24,155.86 L248.75,156.71 L249.26,157.56 L249.77,158.41 L250.28,159.27 L250.79,160.14 L251.30,161.00 L251.81,161.86 L252.32,162.73 L252.83,163.59 L253.34,164.46 L253.85,165.32 L254.36,166.18 L254.87,167.04 L255.38,167.89 L255.89,168.74 L256.40,169.60 L256.91,170.46 L257.42,171.33 L257.93,172.19 L258.44,173.06 L258.95,173.93 L259.47,174.80 L259.98,175.67 L260.49,176.53 L261.00,177.39 L261.51,178.25 L262.02,179.11 L262.53,179.95 L263.04,180.80 L263.55,181.63 L264.06,182.46 L264.57,183.28 L265.08,184.09 L265.59,184.90 L266.10,185.73 L266.61,186.56 L267.12,187.40 L267.63,188.25 L268.14,189.09 L268.65,189.93 L269.16,190.77 L269.67,191.60 L270.18,192.42 L270.69,193.23 L271.20,194.03 L271.71,194.81 L272.22,195.57 L272.73,196.31 L273.24,197.02 L273.75,197.71 L274.26,198.37 L274.77,198.99 L275.28,199.58 L275.79,200.14 L276.30,200.66 L276.81,201.15 L277.32,201.64 L277.83,202.13 L278.34,202.60 L278.85,203.08 L279.36,203.54 L279.87,204.00 L280.38,204.44 L280.89,204.88 L281.40,205.30 L281.91,205.71 L282.42,206.11 L282.93,206.49 L283.44,206.85 L283.95,207.20 L284.46,207.53 L284.97,207.83 L285.48,208.12 L285.99,208.39 L286.50,208.63 L287.01,208.85 L287.52,209.05 L288.03,209.22 L288.54,209.36 L289.05,209.47 L289.56,209.57 L290.08,209.67 L290.59,209.77 L291.10,209.87 L291.61,209.96 L292.12,210.05 L292.63,210.14 L293.14,210.22 L293.65,210.30 L294.16,210.36 L294.67,210.43 L295.18,210.48 L295.69,210.53 L296.20,210.57 L296.71,210.59 L297.22,210.61 L297.73,210.62 L298.24,210.61 L298.75,210.60 L299.26,210.58 L299.77,210.55 L300.28,210.52 L300.79,210.48 L301.30,210.44 L301.81,210.39 L302.32,210.33 L302.83,210.27 L303.34,210.21 L303.85,210.14 L304.36,210.07 L304.87,209.99 L305.38,209.91 L305.89,209.82 L306.40,209.72 L306.91,209.60 L307.42,209.46 L307.93,209.32 L308.44,209.15 L308.95,208.98 L309.46,208.79 L309.97,208.59 L310.48,208.38 L310.99,208.16 L311.50,207.92 L312.01,207.68 L312.52,207.42 L313.03,207.16 L313.54,206.89 L314.05,206.61 L314.56,206.32 L315.07,206.02 L315.58,205.72 L316.09,205.39 L316.60,205.03 L317.11,204.64 L317.62,204.22 L318.13,203.78 L318.64,203.31 L319.15,202.82 L319.66,202.32 L320.17,201.80 L320.69,201.27 L321.20,200.74 L321.71,200.19 L322.22,199.63 L322.73,199.08 L323.24,198.53 L323.75,197.98 L324.26,197.44 L324.77,196.91 L325.28,196.39 L325.79,195.89 L326.30,195.40 L326.81,194.89 L327.32,194.37 L327.83,193.85 L328.34,193.33 L328.85,192.81 L329.36,192.30 L329.87,191.80 L330.38,191.32 L330.89,190.85 L331.40,190.41 L331.91,190.00 L332.42,189.63 L332.93,189.28 L333.44,188.98 L333.95,188.73 L334.46,188.53 L334.97,188.42 L335.48,188.39 L335.99,188.44 L336.50,188.55 L337.01,188.74 L337.52,188.98 L338.03,189.28 L338.54,189.62 L339.05,190.01 L339.56,190.43 L340.07,190.88 L340.58,191.35 L341.09,191.84 L341.60,192.40 L342.11,193.08 L342.62,193.85 L343.13,194.69 L343.64,195.58 L344.15,196.48 L344.66,197.39 L345.17,198.27 L345.68,199.10 L346.19,199.85 L346.70,200.56 L347.21,201.26 L347.72,201.96 L348.23,202.65 L348.74,203.33 L349.25,204.01 L349.76,204.69 L350.27,205.35 L350.78,206.01 L351.30,206.66 L351.81,207.31 L352.32,207.95 L352.83,208.59 L353.34,209.22 L353.85,209.85 L354.36,210.47 L354.87,211.09 L355.38,211.70 L355.89,212.30 L356.40,212.91 L356.91,213.50 L357.42,214.10 L357.93,214.69 L358.44,215.28 L358.95,215.87 L359.46,216.45 L359.97,217.04 L360.48,217.61 L360.99,218.19 L361.50,218.76 L362.01,219.32 L362.52,219.88 L363.03,220.44 L363.54,220.99 L364.05,221.54 L364.56,222.08 L365.07,222.61 L365.58,223.14 L366.09,223.66 L366.60,224.18" stroke="#a850b8" stroke-width="1.5" stroke-dasharray="4,1.8,1,2.2,1,2.2"/>
</g>
<line x1="60.50" y1="1.20" x2="366.60" y2="1.20" stroke="#000" stroke-width="1.1" stroke-linecap="square"/>
<line x1="366.60" y1="1.20" x2="366.60" y2="250.40" stroke="#000" stroke-width="1.1" stroke-linecap="square"/>
<line x1="60.50" y1="1.20" x2="60.50" y2="250.40" stroke="#000" stroke-width="1.3" stroke-linecap="square"/>
<line x1="60.50" y1="250.40" x2="366.60" y2="250.40" stroke="#000" stroke-width="1.3" stroke-linecap="square"/>
<line x1="60.50" y1="250.40" x2="60.50" y2="255.40" stroke="#000" stroke-width="1.2" />
<text x="60.50" y="266.80" font-size="10" text-anchor="middle" fill="#111" font-family='"Liberation Sans", sans-serif' font-weight="normal" >10</text>
<line x1="80.91" y1="250.40" x2="80.91" y2="255.40" stroke="#000" stroke-width="1.2" />
<text x="80.91" y="266.80" font-size="10" text-anchor="middle" fill="#111" font-family='"Liberation Sans", sans-serif' font-weight="normal" >12</text>
<line x1="101.31" y1="250.40" x2="101.31" y2="255.40" stroke="#000" stroke-width="1.2" />
<text x="101.31" y="266.80" font-size="10" text-anchor="middle" fill="#111" font-family='"Liberation Sans", sans-serif' font-weight="normal" >14</text>
<line x1="121.72" y1="250.40" x2="121.72" y2="255.40" stroke="#000" stroke-width="1.2" />
<text x="121.72" y="266.80" font-size="10" text-anchor="middle" fill="#111" font-family='"Liberation Sans", sans-serif' font-weight="normal" >16</text>
<line x1="142.13" y1="250.40" x2="142.13" y2="255.40" stroke="#000" stroke-width="1.2" />
<text x="142.13" y="266.80" font-size="10" text-anchor="middle" fill="#111" font-family='"Liberation Sans", sans-serif' font-weight="normal" >18</text>
<line x1="162.53" y1="250.40" x2="162.53" y2="255.40" stroke="#000" stroke-width="1.2" />
<text x="162.53" y="266.80" font-size="10" text-anchor="middle" fill="#111" font-family='"Liberation Sans", sans-serif' font-weight="normal" >20</text>
<line x1="182.94" y1="250.40" x2="182.94" y2="255.40" stroke="#000" stroke-width="1.2" />
<text x="182.94" y="266.80" font-size="10" text-anchor="middle" fill="#111" font-family='"Liberation Sans", sans-serif' font-weight="normal" >22</text>
<line x1="203.35" y1="250.40" x2="203.35" y2="255.40" stroke="#000" stroke-width="1.2" />
<text x="203.35" y="266.80" font-size="10" text-anchor="middle" fill="#111" font-family='"Liberation Sans", sans-serif' font-weight="normal" >24</text>
<line x1="223.75" y1="250.40" x2="223.75" y2="255.40" stroke="#000" stroke-width="1.2" />
<text x="223.75" y="266.80" font-size="10" text-anchor="middle" fill="#111" font-family='"Liberation Sans", sans-serif' font-weight="normal" >26</text>
<line x1="244.16" y1="250.40" x2="244.16" y2="255.40" stroke="#000" stroke-width="1.2" />
<text x="244.16" y="266.80" font-size="10" text-anchor="middle" fill="#111" font-family='"Liberation Sans", sans-serif' font-weight="normal" >28</text>
<line x1="264.57" y1="250.40" x2="264.57" y2="255.40" stroke="#000" stroke-width="1.2" />
<text x="264.57" y="266.80" font-size="10" text-anchor="middle" fill="#111" font-family='"Liberation Sans", sans-serif' font-weight="normal" >30</text>
<line x1="284.97" y1="250.40" x2="284.97" y2="255.40" stroke="#000" stroke-width="1.2" />
<text x="284.97" y="266.80" font-size="10" text-anchor="middle" fill="#111" font-family='"Liberation Sans", sans-serif' font-weight="normal" >32</text>
<line x1="305.38" y1="250.40" x2="305.38" y2="255.40" stroke="#000" stroke-width="1.2" />
<text x="305.38" y="266.80" font-size="10" text-anchor="middle" fill="#111" font-family='"Liberation Sans", sans-serif' font-weight="normal" >34</text>
<line x1="325.79" y1="250.40" x2="325.79" y2="255.40" stroke="#000" stroke-width="1.2" />
<text x="325.79" y="266.80" font-size="10" text-anchor="middle" fill="#111" font-family='"Liberation Sans", sans-serif' font-weight="normal" >36</text>
<line x1="346.19" y1="250.40" x2="346.19" y2="255.40" stroke="#000" stroke-width="1.2" />
<text x="346.19" y="266.80" font-size="10" text-anchor="middle" fill="#111" font-family='"Liberation Sans", sans-serif' font-weight="normal" >38</text>
<line x1="366.60" y1="250.40" x2="366.60" y2="255.40" stroke="#000" stroke-width="1.2" />
<text x="366.60" y="266.80" font-size="10" text-anchor="middle" fill="#111" font-family='"Liberation Sans", sans-serif' font-weight="normal" >40</text>
<line x1="70.70" y1="250.40" x2="70.70" y2="252.90" stroke="#000" stroke-width="1.0" />
<line x1="91.11" y1="250.40" x2="91.11" y2="252.90" stroke="#000" stroke-width="1.0" />
<line x1="111.52" y1="250.40" x2="111.52" y2="252.90" stroke="#000" stroke-width="1.0" />
<line x1="131.92" y1="250.40" x2="131.92" y2="252.90" stroke="#000" stroke-width="1.0" />
<line x1="152.33" y1="250.40" x2="152.33" y2="252.90" stroke="#000" stroke-width="1.0" />
<line x1="172.74" y1="250.40" x2="172.74" y2="252.90" stroke="#000" stroke-width="1.0" />
<line x1="193.14" y1="250.40" x2="193.14" y2="252.90" stroke="#000" stroke-width="1.0" />
<line x1="213.55" y1="250.40" x2="213.55" y2="252.90" stroke="#000" stroke-width="1.0" />
<line x1="233.96" y1="250.40" x2="233.96" y2="252.90" stroke="#000" stroke-width="1.0" />
<line x1="254.36" y1="250.40" x2="254.36" y2="252.90" stroke="#000" stroke-width="1.0" />
<line x1="274.77" y1="250.40" x2="274.77" y2="252.90" stroke="#000" stroke-width="1.0" />
<line x1="295.18" y1="250.40" x2="295.18" y2="252.90" stroke="#000" stroke-width="1.0" />
<line x1="315.58" y1="250.40" x2="315.58" y2="252.90" stroke="#000" stroke-width="1.0" />
<line x1="335.99" y1="250.40" x2="335.99" y2="252.90" stroke="#000" stroke-width="1.0" />
<line x1="356.40" y1="250.40" x2="356.40" y2="252.90" stroke="#000" stroke-width="1.0" />
<line x1="55.50" y1="250.40" x2="60.50" y2="250.40" stroke="#000" stroke-width="1.2" />
<text x="52.20" y="254.00" font-size="10" text-anchor="end" fill="#111" font-family='"Liberation Sans", sans-serif' font-weight="normal" >0.00</text>
<line x1="55.50" y1="215.90" x2="60.50" y2="215.90" stroke="#000" stroke-width="1.2" />
<text x="52.20" y="219.50" font-size="10" text-anchor="end" fill="#111" font-family='"Liberation Sans", sans-serif' font-weight="normal" >0.05</text>
<line x1="55.50" y1="181.40" x2="60.50" y2="181.40" stroke="#000" stroke-width="1.2" />
<text x="52.20" y="185.00" font-size="10" text-anchor="end" fill="#111" font-family='"Liberation Sans", sans-serif' font-weight="normal" >0.10</text>
<line x1="55.50" y1="146.90" x2="60.50" y2="146.90" stroke="#000" stroke-width="1.2" />
<text x="52.20" y="150.50" font-size="10" text-anchor="end" fill="#111" font-family='"Liberation Sans", sans-serif' font-weight="normal" >0.15</text>
<line x1="55.50" y1="112.40" x2="60.50" y2="112.40" stroke="#000" stroke-width="1.2" />
<text x="52.20" y="116.00" font-size="10" text-anchor="end" fill="#111" font-family='"Liberation Sans", sans-serif' font-weight="normal" >0.20</text>
<line x1="55.50" y1="77.90" x2="60.50" y2="77.90" stroke="#000" stroke-width="1.2" />
<text x="52.20" y="81.50" font-size="10" text-anchor="end" fill="#111" font-family='"Liberation Sans", sans-serif' font-weight="normal" >0.25</text>
<line x1="55.50" y1="43.40" x2="60.50" y2="43.40" stroke="#000" stroke-width="1.2" />
<text x="52.20" y="47.00" font-size="10" text-anchor="end" fill="#111" font-family='"Liberation Sans", sans-serif' font-weight="normal" >0.30</text>
<line x1="55.50" y1="8.90" x2="60.50" y2="8.90" stroke="#000" stroke-width="1.2" />
<text x="52.20" y="12.50" font-size="10" text-anchor="end" fill="#111" font-family='"Liberation Sans", sans-serif' font-weight="normal" >0.35</text>
<line x1="58.00" y1="233.15" x2="60.50" y2="233.15" stroke="#000" stroke-width="1.0" />
<line x1="58.00" y1="198.65" x2="60.50" y2="198.65" stroke="#000" stroke-width="1.0" />
<line x1="58.00" y1="164.15" x2="60.50" y2="164.15" stroke="#000" stroke-width="1.0" />
<line x1="58.00" y1="129.65" x2="60.50" y2="129.65" stroke="#000" stroke-width="1.0" />
<line x1="58.00" y1="95.15" x2="60.50" y2="95.15" stroke="#000" stroke-width="1.0" />
<line x1="58.00" y1="60.65" x2="60.50" y2="60.65" stroke="#000" stroke-width="1.0" />
<line x1="58.00" y1="26.15" x2="60.50" y2="26.15" stroke="#000" stroke-width="1.0" />
<text x="213.55" y="286.40" font-size="12.8" text-anchor="middle" fill="#111" font-family='"Liberation Sans", sans-serif' font-weight="normal" >Frequency (kHz)</text>
<text transform="translate(13.8,122.5) rotate(-90)" font-size="12.7" text-anchor="middle" fill="#111" font-family='"Liberation Sans", sans-serif'>Acoustic signal (mV)</text>
<rect x="283.6" y="8.3" width="81.29999999999995" height="102.4" fill="#fff" stroke="#888" stroke-width="1"/>
<line x1="287.6" y1="17.00" x2="311.1" y2="17.00" stroke="#30e8f0" stroke-width="1.5" />
<text x="313.90" y="20.60" font-size="10" text-anchor="start" fill="#111" font-family='"Liberation Sans", sans-serif' font-weight="normal" >275 mg/dL</text>
<line x1="287.6" y1="29.62" x2="311.1" y2="29.62" stroke="#148c14" stroke-width="1.0" stroke-dasharray="3.2,1.3,1.2,1.5"/>
<text x="313.90" y="33.22" font-size="10" text-anchor="start" fill="#111" font-family='"Liberation Sans", sans-serif' font-weight="normal" >250 mg/dL</text>
<line x1="287.6" y1="42.24" x2="311.1" y2="42.24" stroke="#8c8c8c" stroke-width="1.0" stroke-dasharray="2,2.3"/>
<text x="313.90" y="45.84" font-size="10" text-anchor="start" fill="#111" font-family='"Liberation Sans", sans-serif' font-weight="normal" >225 mg/dL</text>
<line x1="287.6" y1="54.86" x2="311.1" y2="54.86" stroke="#2828ff" stroke-width="1.2" stroke-dasharray="4.9,1.5,1.5,1.5"/>
<text x="313.90" y="58.46" font-size="10" text-anchor="start" fill="#111" font-family='"Liberation Sans", sans-serif' font-weight="normal" >200 mg/dL</text>
<line x1="287.6" y1="67.48" x2="311.1" y2="67.48" stroke="#ff20ff" stroke-width="1.2" stroke-dasharray="4.4,2,1,2.2,1,2.6"/>
<text x="313.90" y="71.08" font-size="10" text-anchor="start" fill="#111" font-family='"Liberation Sans", sans-serif' font-weight="normal" >175 mg/dL</text>
<line x1="287.6" y1="80.10" x2="311.1" y2="80.10" stroke="#a8a868" stroke-width="1.5" />
<text x="313.90" y="83.70" font-size="10" text-anchor="start" fill="#111" font-family='"Liberation Sans", sans-serif' font-weight="normal" >150 mg/dL</text>
<line x1="287.6" y1="92.72" x2="311.1" y2="92.72" stroke="#ff5020" stroke-width="1.2" stroke-dasharray="4.4,4.2"/>
<text x="313.90" y="96.32" font-size="10" text-anchor="start" fill="#111" font-family='"Liberation Sans", sans-serif' font-weight="normal" >125 mg/dL</text>
<line x1="287.6" y1="105.34" x2="311.1" y2="105.34" stroke="#a850b8" stroke-width="1.5" stroke-dasharray="4,1.8,1,2.2,1,2.2"/>
<text x="313.90" y="108.94" font-size="10" text-anchor="start" fill="#111" font-family='"Liberation Sans", sans-serif' font-weight="normal" >100 mg/dL</text>
<line x1="490.80" y1="1.20" x2="490.80" y2="249.80" stroke="#eeeeee" stroke-width="0.9"/>
<line x1="511.19" y1="1.20" x2="511.19" y2="249.80" stroke="#eeeeee" stroke-width="0.9"/>
<line x1="531.58" y1="1.20" x2="531.58" y2="249.80" stroke="#eeeeee" stroke-width="0.9"/>
<line x1="551.98" y1="1.20" x2="551.98" y2="249.80" stroke="#eeeeee" stroke-width="0.9"/>
<line x1="572.37" y1="1.20" x2="572.37" y2="249.80" stroke="#eeeeee" stroke-width="0.9"/>
<line x1="592.76" y1="1.20" x2="592.76" y2="249.80" stroke="#eeeeee" stroke-width="0.9"/>
<line x1="613.16" y1="1.20" x2="613.16" y2="249.80" stroke="#eeeeee" stroke-width="0.9"/>
<line x1="633.55" y1="1.20" x2="633.55" y2="249.80" stroke="#eeeeee" stroke-width="0.9"/>
<line x1="653.94" y1="1.20" x2="653.94" y2="249.80" stroke="#eeeeee" stroke-width="0.9"/>
<line x1="674.34" y1="1.20" x2="674.34" y2="249.80" stroke="#eeeeee" stroke-width="0.9"/>
<line x1="694.73" y1="1.20" x2="694.73" y2="249.80" stroke="#eeeeee" stroke-width="0.9"/>
<line x1="715.12" y1="1.20" x2="715.12" y2="249.80" stroke="#eeeeee" stroke-width="0.9"/>
<line x1="735.52" y1="1.20" x2="735.52" y2="249.80" stroke="#eeeeee" stroke-width="0.9"/>
<line x1="755.91" y1="1.20" x2="755.91" y2="249.80" stroke="#eeeeee" stroke-width="0.9"/>
<line x1="776.30" y1="1.20" x2="776.30" y2="249.80" stroke="#eeeeee" stroke-width="0.9"/>
<line x1="480.60" y1="223.68" x2="786.50" y2="223.68" stroke="#eeeeee" stroke-width="0.9"/>
<line x1="480.60" y1="171.43" x2="786.50" y2="171.43" stroke="#eeeeee" stroke-width="0.9"/>
<line x1="480.60" y1="119.18" x2="786.50" y2="119.18" stroke="#eeeeee" stroke-width="0.9"/>
<line x1="480.60" y1="66.93" x2="786.50" y2="66.93" stroke="#eeeeee" stroke-width="0.9"/>
<line x1="480.60" y1="14.68" x2="786.50" y2="14.68" stroke="#eeeeee" stroke-width="0.9"/>
<line x1="500.99" y1="1.20" x2="500.99" y2="249.80" stroke="#e4e4e4" stroke-width="0.9"/>
<line x1="521.39" y1="1.20" x2="521.39" y2="249.80" stroke="#e4e4e4" stroke-width="0.9"/>
<line x1="541.78" y1="1.20" x2="541.78" y2="249.80" stroke="#e4e4e4" stroke-width="0.9"/>
<line x1="562.17" y1="1.20" x2="562.17" y2="249.80" stroke="#e4e4e4" stroke-width="0.9"/>
<line x1="582.57" y1="1.20" x2="582.57" y2="249.80" stroke="#e4e4e4" stroke-width="0.9"/>
<line x1="602.96" y1="1.20" x2="602.96" y2="249.80" stroke="#e4e4e4" stroke-width="0.9"/>
<line x1="623.35" y1="1.20" x2="623.35" y2="249.80" stroke="#e4e4e4" stroke-width="0.9"/>
<line x1="643.75" y1="1.20" x2="643.75" y2="249.80" stroke="#e4e4e4" stroke-width="0.9"/>
<line x1="664.14" y1="1.20" x2="664.14" y2="249.80" stroke="#e4e4e4" stroke-width="0.9"/>
<line x1="684.53" y1="1.20" x2="684.53" y2="249.80" stroke="#e4e4e4" stroke-width="0.9"/>
<line x1="704.93" y1="1.20" x2="704.93" y2="249.80" stroke="#e4e4e4" stroke-width="0.9"/>
<line x1="725.32" y1="1.20" x2="725.32" y2="249.80" stroke="#e4e4e4" stroke-width="0.9"/>
<line x1="745.71" y1="1.20" x2="745.71" y2="249.80" stroke="#e4e4e4" stroke-width="0.9"/>
<line x1="766.11" y1="1.20" x2="766.11" y2="249.80" stroke="#e4e4e4" stroke-width="0.9"/>
<line x1="480.60" y1="197.55" x2="786.50" y2="197.55" stroke="#e4e4e4" stroke-width="0.9"/>
<line x1="480.60" y1="145.30" x2="786.50" y2="145.30" stroke="#e4e4e4" stroke-width="0.9"/>
<line x1="480.60" y1="93.05" x2="786.50" y2="93.05" stroke="#e4e4e4" stroke-width="0.9"/>
<line x1="480.60" y1="40.80" x2="786.50" y2="40.80" stroke="#e4e4e4" stroke-width="0.9"/>
<line x1="500.99" y1="1.20" x2="500.99" y2="249.80" stroke="#c8c8c8" stroke-width="0.8" stroke-dasharray="1.6,3.2"/>
<line x1="521.39" y1="1.20" x2="521.39" y2="249.80" stroke="#c8c8c8" stroke-width="0.8" stroke-dasharray="1.6,3.2"/>
<line x1="541.78" y1="1.20" x2="541.78" y2="249.80" stroke="#c8c8c8" stroke-width="0.8" stroke-dasharray="1.6,3.2"/>
<line x1="562.17" y1="1.20" x2="562.17" y2="249.80" stroke="#c8c8c8" stroke-width="0.8" stroke-dasharray="1.6,3.2"/>
<line x1="582.57" y1="1.20" x2="582.57" y2="249.80" stroke="#c8c8c8" stroke-width="0.8" stroke-dasharray="1.6,3.2"/>
<line x1="602.96" y1="1.20" x2="602.96" y2="249.80" stroke="#c8c8c8" stroke-width="0.8" stroke-dasharray="1.6,3.2"/>
<line x1="623.35" y1="1.20" x2="623.35" y2="249.80" stroke="#c8c8c8" stroke-width="0.8" stroke-dasharray="1.6,3.2"/>
<line x1="643.75" y1="1.20" x2="643.75" y2="249.80" stroke="#c8c8c8" stroke-width="0.8" stroke-dasharray="1.6,3.2"/>
<line x1="664.14" y1="1.20" x2="664.14" y2="249.80" stroke="#c8c8c8" stroke-width="0.8" stroke-dasharray="1.6,3.2"/>
<line x1="684.53" y1="1.20" x2="684.53" y2="249.80" stroke="#c8c8c8" stroke-width="0.8" stroke-dasharray="1.6,3.2"/>
<line x1="704.93" y1="1.20" x2="704.93" y2="249.80" stroke="#c8c8c8" stroke-width="0.8" stroke-dasharray="1.6,3.2"/>
<line x1="725.32" y1="1.20" x2="725.32" y2="249.80" stroke="#c8c8c8" stroke-width="0.8" stroke-dasharray="1.6,3.2"/>
<line x1="745.71" y1="1.20" x2="745.71" y2="249.80" stroke="#c8c8c8" stroke-width="0.8" stroke-dasharray="1.6,3.2"/>
<line x1="766.11" y1="1.20" x2="766.11" y2="249.80" stroke="#c8c8c8" stroke-width="0.8" stroke-dasharray="1.6,3.2"/>
<line x1="480.60" y1="197.55" x2="786.50" y2="197.55" stroke="#c8c8c8" stroke-width="0.8" stroke-dasharray="1.8,1.6"/>
<line x1="480.60" y1="145.30" x2="786.50" y2="145.30" stroke="#c8c8c8" stroke-width="0.8" stroke-dasharray="1.8,1.6"/>
<line x1="480.60" y1="93.05" x2="786.50" y2="93.05" stroke="#c8c8c8" stroke-width="0.8" stroke-dasharray="1.8,1.6"/>
<line x1="480.60" y1="40.80" x2="786.50" y2="40.80" stroke="#c8c8c8" stroke-width="0.8" stroke-dasharray="1.8,1.6"/>
<clipPath id="clipb"><rect x="480.6" y="1.2" width="305.9" height="248.60000000000002"/></clipPath>
<g clip-path="url(#clipb)" fill="none" stroke-linejoin="round">
<path d="M480.60,214.53 L481.11,213.41 L481.62,212.31 L482.13,211.22 L482.64,210.14 L483.15,209.09 L483.66,208.04 L484.17,207.02 L484.68,206.02 L485.19,205.04 L485.70,204.08 L486.21,203.12 L486.72,202.12 L487.23,201.13 L487.74,200.14 L488.25,199.18 L488.76,198.27 L489.27,197.42 L489.78,196.66 L490.29,196.00 L490.80,195.46 L491.31,194.99 L491.82,194.51 L492.33,194.05 L492.84,193.60 L493.35,193.17 L493.86,192.77 L494.37,192.40 L494.88,192.07 L495.39,191.79 L495.90,191.56 L496.40,191.39 L496.91,191.28 L497.42,191.24 L497.93,191.28 L498.44,191.37 L498.95,191.47 L499.46,191.58 L499.97,191.70 L500.48,191.83 L500.99,191.97 L501.50,192.11 L502.01,192.26 L502.52,192.41 L503.03,192.56 L503.54,192.70 L504.05,192.85 L504.56,192.99 L505.07,193.15 L505.58,193.30 L506.09,193.47 L506.60,193.63 L507.11,193.80 L507.62,193.96 L508.13,194.13 L508.64,194.29 L509.15,194.44 L509.66,194.59 L510.17,194.74 L510.68,194.87 L511.19,194.99 L511.70,195.10 L512.21,195.20 L512.72,195.26 L513.23,195.28 L513.74,195.25 L514.25,195.19 L514.76,195.10 L515.27,194.99 L515.78,194.86 L516.29,194.72 L516.80,194.57 L517.31,194.42 L517.82,194.23 L518.33,193.98 L518.84,193.68 L519.35,193.34 L519.86,192.97 L520.37,192.58 L520.88,192.19 L521.39,191.80 L521.90,191.40 L522.41,190.96 L522.92,190.48 L523.43,189.97 L523.94,189.43 L524.45,188.86 L524.96,188.25 L525.47,187.63 L525.98,186.98 L526.49,186.32 L526.99,185.59 L527.50,184.75 L528.01,183.82 L528.52,182.80 L529.03,181.71 L529.54,180.55 L530.05,179.33 L530.56,178.07 L531.07,176.77 L531.58,175.44 L532.09,174.09 L532.60,172.73 L533.11,171.32 L533.62,169.81 L534.13,168.21 L534.64,166.51 L535.15,164.73 L535.66,162.86 L536.17,160.91 L536.68,158.88 L537.19,156.78 L537.70,154.61 L538.21,152.37 L538.72,150.07 L539.23,147.71 L539.74,145.30 L540.25,142.64 L540.76,139.60 L541.27,136.31 L541.78,132.87 L542.29,129.41 L542.80,126.03 L543.31,122.84 L543.82,119.96 L544.33,117.30 L544.84,114.69 L545.35,112.15 L545.86,109.65 L546.37,107.21 L546.88,104.83 L547.39,102.51 L547.90,100.24 L548.41,98.03 L548.92,95.87 L549.43,93.78 L549.94,91.74 L550.45,89.74 L550.96,87.74 L551.47,85.78 L551.98,83.88 L552.49,82.07 L553.00,80.36 L553.51,78.79 L554.02,77.38 L554.53,76.03 L555.04,74.68 L555.55,73.36 L556.06,72.13 L556.57,71.02 L557.08,70.08 L557.58,69.35 L558.09,68.87 L558.60,68.65 L559.11,68.62 L559.62,68.74 L560.13,69.01 L560.64,69.42 L561.15,69.96 L561.66,70.61 L562.17,71.37 L562.68,72.24 L563.19,73.22 L563.70,74.30 L564.21,75.45 L564.72,76.64 L565.23,77.86 L565.74,79.09 L566.25,80.31 L566.76,81.48 L567.27,82.60 L567.78,83.71 L568.29,84.85 L568.80,86.02 L569.31,87.18 L569.82,88.32 L570.33,89.43 L570.84,90.47 L571.35,91.44 L571.86,92.30 L572.37,93.05 L572.88,93.73 L573.39,94.39 L573.90,95.05 L574.41,95.68 L574.92,96.30 L575.43,96.90 L575.94,97.47 L576.45,98.02 L576.96,98.53 L577.47,99.02 L577.98,99.48 L578.49,99.90 L579.00,100.28 L579.51,100.62 L580.02,100.92 L580.53,101.17 L581.04,101.38 L581.55,101.54 L582.06,101.64 L582.57,101.69 L583.08,101.69 L583.59,101.63 L584.10,101.51 L584.61,101.35 L585.12,101.15 L585.63,100.90 L586.14,100.62 L586.65,100.30 L587.16,99.96 L587.66,99.58 L588.17,99.15 L588.68,98.65 L589.19,98.07 L589.70,97.44 L590.21,96.76 L590.72,96.05 L591.23,95.31 L591.74,94.56 L592.25,93.80 L592.76,93.05 L593.27,92.29 L593.78,91.51 L594.29,90.69 L594.80,89.85 L595.31,88.97 L595.82,88.06 L596.33,87.12 L596.84,86.14 L597.35,85.12 L597.86,84.06 L598.37,82.96 L598.88,81.82 L599.39,80.57 L599.90,79.19 L600.41,77.69 L600.92,76.11 L601.43,74.48 L601.94,72.82 L602.45,71.16 L602.96,69.54 L603.47,67.91 L603.98,66.23 L604.49,64.51 L605.00,62.75 L605.51,60.97 L606.02,59.18 L606.53,57.38 L607.04,55.58 L607.55,53.79 L608.06,52.03 L608.57,50.30 L609.08,48.60 L609.59,46.96 L610.10,45.37 L610.61,43.86 L611.12,42.42 L611.63,41.06 L612.14,39.77 L612.65,38.48 L613.16,37.21 L613.67,35.96 L614.18,34.75 L614.69,33.59 L615.20,32.48 L615.71,31.45 L616.22,30.49 L616.73,29.61 L617.24,28.84 L617.75,28.18 L618.25,27.64 L618.76,27.22 L619.27,26.95 L619.78,26.86 L620.29,26.95 L620.80,27.20 L621.31,27.59 L621.82,28.10 L622.33,28.70 L622.84,29.38 L623.35,30.11 L623.86,30.87 L624.37,31.74 L624.88,32.80 L625.39,34.01 L625.90,35.36 L626.41,36.83 L626.92,38.39 L627.43,40.02 L627.94,41.74 L628.45,43.60 L628.96,45.57 L629.47,47.65 L629.98,49.82 L630.49,52.06 L631.00,54.36 L631.51,56.69 L632.02,59.06 L632.53,61.43 L633.04,63.80 L633.55,66.14 L634.06,68.52 L634.57,70.99 L635.08,73.53 L635.59,76.10 L636.10,78.70 L636.61,81.30 L637.12,83.87 L637.63,86.40 L638.14,88.86 L638.65,91.23 L639.16,93.49 L639.67,95.70 L640.18,97.88 L640.69,100.02 L641.20,102.11 L641.71,104.13 L642.22,106.08 L642.73,107.94 L643.24,109.69 L643.75,111.34 L644.26,112.92 L644.77,114.48 L645.28,116.02 L645.79,117.53 L646.30,119.02 L646.81,120.47 L647.32,121.87 L647.83,123.24 L648.34,124.55 L648.85,125.80 L649.35,126.99 L649.86,128.12 L650.37,129.17 L650.88,130.15 L651.39,131.06 L651.90,131.93 L652.41,132.77 L652.92,133.57 L653.43,134.34 L653.94,135.08 L654.45,135.81 L654.96,136.52 L655.47,137.21 L655.98,137.90 L656.49,138.58 L657.00,139.27 L657.51,139.96 L658.02,140.66 L658.53,141.37 L659.04,142.10 L659.55,142.86 L660.06,143.64 L660.57,144.45 L661.08,145.30 L661.59,146.17 L662.10,147.06 L662.61,147.96 L663.12,148.86 L663.63,149.78 L664.14,150.70 L664.65,151.63 L665.16,152.57 L665.67,153.52 L666.18,154.46 L666.69,155.42 L667.20,156.37 L667.71,157.33 L668.22,158.29 L668.73,159.26 L669.24,160.22 L669.75,161.18 L670.26,162.13 L670.77,163.09 L671.28,164.04 L671.79,164.99 L672.30,165.93 L672.81,166.87 L673.32,167.80 L673.83,168.72 L674.34,169.63 L674.85,170.53 L675.36,171.43 L675.87,172.32 L676.38,173.22 L676.89,174.13 L677.40,175.05 L677.91,175.98 L678.42,176.91 L678.93,177.84 L679.43,178.77 L679.94,179.70 L680.45,180.63 L680.96,181.56 L681.47,182.48 L681.98,183.38 L682.49,184.29 L683.00,185.17 L683.51,186.05 L684.02,186.91 L684.53,187.76 L685.04,188.58 L685.55,189.39 L686.06,190.18 L686.57,190.94 L687.08,191.68 L687.59,192.39 L688.10,193.07 L688.61,193.73 L689.12,194.35 L689.63,194.94 L690.14,195.50 L690.65,196.06 L691.16,196.61 L691.67,197.15 L692.18,197.68 L692.69,198.21 L693.20,198.72 L693.71,199.22 L694.22,199.72 L694.73,200.20 L695.24,200.68 L695.75,201.14 L696.26,201.60 L696.77,202.04 L697.28,202.48 L697.79,202.90 L698.30,203.32 L698.81,203.72 L699.32,204.12 L699.83,204.50 L700.34,204.87 L700.85,205.24 L701.36,205.59 L701.87,205.93 L702.38,206.26 L702.89,206.58 L703.40,206.88 L703.91,207.18 L704.42,207.47 L704.93,207.74 L705.44,208.01 L705.95,208.28 L706.46,208.54 L706.97,208.81 L707.48,209.08 L707.99,209.34 L708.50,209.59 L709.01,209.85 L709.52,210.09 L710.02,210.33 L710.53,210.57 L711.04,210.79 L711.55,211.01 L712.06,211.21 L712.57,211.41 L713.08,211.59 L713.59,211.76 L714.10,211.91 L714.61,212.05 L715.12,212.18 L715.63,212.30 L716.14,212.41 L716.65,212.52 L717.16,212.63 L717.67,212.73 L718.18,212.83 L718.69,212.92 L719.20,213.01 L719.71,213.09 L720.22,213.17 L720.73,213.24 L721.24,213.30 L721.75,213.36 L722.26,213.40 L722.77,213.44 L723.28,213.47 L723.79,213.49 L724.30,213.50 L724.81,213.50 L725.32,213.49 L725.83,213.46 L726.34,213.41 L726.85,213.35 L727.36,213.27 L727.87,213.18 L728.38,213.07 L728.89,212.94 L729.40,212.80 L729.91,212.65 L730.42,212.49 L730.93,212.31 L731.44,212.13 L731.95,211.93 L732.46,211.73 L732.97,211.51 L733.48,211.29 L733.99,211.07 L734.50,210.83 L735.01,210.59 L735.52,210.35 L736.03,210.09 L736.54,209.80 L737.05,209.47 L737.56,209.12 L738.07,208.75 L738.58,208.36 L739.09,207.95 L739.60,207.53 L740.11,207.10 L740.62,206.66 L741.12,206.22 L741.63,205.77 L742.14,205.33 L742.65,204.89 L743.16,204.45 L743.67,204.03 L744.18,203.62 L744.69,203.23 L745.20,202.86 L745.71,202.51 L746.22,202.18 L746.73,201.83 L747.24,201.49 L747.75,201.15 L748.26,200.81 L748.77,200.48 L749.28,200.16 L749.79,199.85 L750.30,199.56 L750.81,199.28 L751.32,199.02 L751.83,198.78 L752.34,198.56 L752.85,198.37 L753.36,198.20 L753.87,198.07 L754.38,197.99 L754.89,197.97 L755.40,198.02 L755.91,198.12 L756.42,198.27 L756.93,198.47 L757.44,198.71 L757.95,198.99 L758.46,199.30 L758.97,199.64 L759.48,200.01 L759.99,200.39 L760.50,200.80 L761.01,201.21 L761.52,201.69 L762.03,202.28 L762.54,202.97 L763.05,203.72 L763.56,204.51 L764.07,205.33 L764.58,206.13 L765.09,206.90 L765.60,207.62 L766.11,208.26 L766.62,208.85 L767.13,209.43 L767.64,210.00 L768.15,210.57 L768.66,211.13 L769.17,211.68 L769.68,212.23 L770.19,212.77 L770.70,213.30 L771.20,213.82 L771.71,214.34 L772.22,214.85 L772.73,215.36 L773.24,215.86 L773.75,216.35 L774.26,216.83 L774.77,217.31 L775.28,217.79 L775.79,218.25 L776.30,218.71 L776.81,219.17 L777.32,219.62 L777.83,220.07 L778.34,220.52 L778.85,220.97 L779.36,221.41 L779.87,221.85 L780.38,222.29 L780.89,222.72 L781.40,223.15 L781.91,223.57 L782.42,223.99 L782.93,224.40 L783.44,224.80 L783.95,225.20 L784.46,225.59 L784.97,225.97 L785.48,226.35 L785.99,226.71 L786.50,227.07" stroke="#30e8f0" stroke-width="1.5" />
<path d="M480.60,232.82 L481.11,231.09 L481.62,229.38 L482.13,227.69 L482.64,226.02 L483.15,224.38 L483.66,222.77 L484.17,221.19 L484.68,219.65 L485.19,218.13 L485.70,216.66 L486.21,215.17 L486.72,213.69 L487.23,212.21 L487.74,210.77 L488.25,209.37 L488.76,208.02 L489.27,206.74 L489.78,205.54 L490.29,204.46 L490.80,203.50 L491.31,202.56 L491.82,201.64 L492.33,200.73 L492.84,199.87 L493.35,199.04 L493.86,198.26 L494.37,197.54 L494.88,196.90 L495.39,196.33 L495.90,195.85 L496.40,195.47 L496.91,195.20 L497.42,195.04 L497.93,195.00 L498.44,194.99 L498.95,195.01 L499.46,195.03 L499.97,195.07 L500.48,195.13 L500.99,195.19 L501.50,195.26 L502.01,195.33 L502.52,195.41 L503.03,195.48 L503.54,195.56 L504.05,195.64 L504.56,195.73 L505.07,195.82 L505.58,195.92 L506.09,196.03 L506.60,196.13 L507.11,196.24 L507.62,196.35 L508.13,196.45 L508.64,196.55 L509.15,196.64 L509.66,196.73 L510.17,196.80 L510.68,196.86 L511.19,196.91 L511.70,196.95 L512.21,196.96 L512.72,196.92 L513.23,196.84 L513.74,196.72 L514.25,196.57 L514.76,196.39 L515.27,196.20 L515.78,195.99 L516.29,195.78 L516.80,195.56 L517.31,195.33 L517.82,195.03 L518.33,194.67 L518.84,194.28 L519.35,193.85 L519.86,193.41 L520.37,192.96 L520.88,192.51 L521.39,192.06 L521.90,191.57 L522.41,191.05 L522.92,190.50 L523.43,189.91 L523.94,189.29 L524.45,188.65 L524.96,187.99 L525.47,187.31 L525.98,186.60 L526.49,185.87 L526.99,185.03 L527.50,184.11 L528.01,183.10 L528.52,182.02 L529.03,180.87 L529.54,179.67 L530.05,178.42 L530.56,177.14 L531.07,175.82 L531.58,174.48 L532.09,173.14 L532.60,171.78 L533.11,170.34 L533.62,168.80 L534.13,167.18 L534.64,165.47 L535.15,163.68 L535.66,161.81 L536.17,159.86 L536.68,157.84 L537.19,155.75 L537.70,153.60 L538.21,151.38 L538.72,149.10 L539.23,146.76 L539.74,144.37 L540.25,141.70 L540.76,138.68 L541.27,135.43 L541.78,132.04 L542.29,128.62 L542.80,125.28 L543.31,122.11 L543.82,119.22 L544.33,116.57 L544.84,113.98 L545.35,111.43 L545.86,108.94 L546.37,106.50 L546.88,104.11 L547.39,101.77 L547.90,99.49 L548.41,97.25 L548.92,95.08 L549.43,92.96 L549.94,90.89 L550.45,88.87 L550.96,86.89 L551.47,84.92 L551.98,82.98 L552.49,81.10 L553.00,79.29 L553.51,77.58 L554.02,75.98 L554.53,74.50 L555.04,73.16 L555.55,71.85 L556.06,70.54 L556.57,69.29 L557.08,68.11 L557.58,67.05 L558.09,66.13 L558.60,65.39 L559.11,64.86 L559.62,64.56 L560.13,64.45 L560.64,64.48 L561.15,64.64 L561.66,64.92 L562.17,65.31 L562.68,65.81 L563.19,66.40 L563.70,67.06 L564.21,67.81 L564.72,68.63 L565.23,69.53 L565.74,70.48 L566.25,71.48 L566.76,72.50 L567.27,73.54 L567.78,74.59 L568.29,75.63 L568.80,76.65 L569.31,77.65 L569.82,78.60 L570.33,79.53 L570.84,80.47 L571.35,81.44 L571.86,82.42 L572.37,83.40 L572.88,84.38 L573.39,85.34 L573.90,86.27 L574.41,87.17 L574.92,88.02 L575.43,88.81 L575.94,89.54 L576.45,90.18 L576.96,90.79 L577.47,91.40 L577.98,92.00 L578.49,92.60 L579.00,93.19 L579.51,93.76 L580.02,94.32 L580.53,94.87 L581.04,95.40 L581.55,95.91 L582.06,96.40 L582.57,96.86 L583.08,97.30 L583.59,97.71 L584.10,98.09 L584.61,98.43 L585.12,98.72 L585.63,98.95 L586.14,99.12 L586.65,99.22 L587.16,99.25 L587.66,99.19 L588.17,99.06 L588.68,98.86 L589.19,98.59 L589.70,98.26 L590.21,97.88 L590.72,97.46 L591.23,96.97 L591.74,96.37 L592.25,95.67 L592.76,94.89 L593.27,94.05 L593.78,93.18 L594.29,92.29 L594.80,91.40 L595.31,90.54 L595.82,89.66 L596.33,88.77 L596.84,87.85 L597.35,86.92 L597.86,85.97 L598.37,85.01 L598.88,84.04 L599.39,83.06 L599.90,82.05 L600.41,81.03 L600.92,79.99 L601.43,78.89 L601.94,77.68 L602.45,76.38 L602.96,75.01 L603.47,73.57 L603.98,72.10 L604.49,70.61 L605.00,69.10 L605.51,67.61 L606.02,66.08 L606.53,64.47 L607.04,62.79 L607.55,61.03 L608.06,59.20 L608.57,57.30 L609.08,55.33 L609.59,53.33 L610.10,51.30 L610.61,49.26 L611.12,47.25 L611.63,45.29 L612.14,43.39 L612.65,41.58 L613.16,39.89 L613.67,38.30 L614.18,36.75 L614.69,35.22 L615.20,33.74 L615.71,32.34 L616.22,31.03 L616.73,29.83 L617.24,28.76 L617.75,27.82 L618.25,27.03 L618.76,26.38 L619.27,25.89 L619.78,25.53 L620.29,25.32 L620.80,25.28 L621.31,25.40 L621.82,25.64 L622.33,26.00 L622.84,26.45 L623.35,26.97 L623.86,27.54 L624.37,28.15 L624.88,28.79 L625.39,29.46 L625.90,30.26 L626.41,31.19 L626.92,32.25 L627.43,33.41 L627.94,34.65 L628.45,35.98 L628.96,37.36 L629.47,38.82 L629.98,40.39 L630.49,42.07 L631.00,43.87 L631.51,45.77 L632.02,47.76 L632.53,49.85 L633.04,52.01 L633.55,54.24 L634.06,56.51 L634.57,58.80 L635.08,61.08 L635.59,63.35 L636.10,65.64 L636.61,68.03 L637.12,70.47 L637.63,72.97 L638.14,75.50 L638.65,78.03 L639.16,80.55 L639.67,83.04 L640.18,85.47 L640.69,87.82 L641.20,90.08 L641.71,92.25 L642.22,94.40 L642.73,96.52 L643.24,98.60 L643.75,100.62 L644.26,102.58 L644.77,104.45 L645.28,106.25 L645.79,107.94 L646.30,109.53 L646.81,111.09 L647.32,112.63 L647.83,114.16 L648.34,115.65 L648.85,117.12 L649.35,118.56 L649.86,119.95 L650.37,121.30 L650.88,122.60 L651.39,123.85 L651.90,125.04 L652.41,126.16 L652.92,127.22 L653.43,128.20 L653.94,129.12 L654.45,130.00 L654.96,130.85 L655.47,131.67 L655.98,132.45 L656.49,133.22 L657.00,133.96 L657.51,134.69 L658.02,135.40 L658.53,136.11 L659.04,136.81 L659.55,137.52 L660.06,138.23 L660.57,138.95 L661.08,139.68 L661.59,140.43 L662.10,141.21 L662.61,142.01 L663.12,142.84 L663.63,143.71 L664.14,144.61 L664.65,145.51 L665.16,146.43 L665.67,147.36 L666.18,148.30 L666.69,149.24 L667.20,150.20 L667.71,151.16 L668.22,152.13 L668.73,153.10 L669.24,154.08 L669.75,155.06 L670.26,156.04 L670.77,157.03 L671.28,158.02 L671.79,159.00 L672.30,159.99 L672.81,160.97 L673.32,161.95 L673.83,162.93 L674.34,163.90 L674.85,164.87 L675.36,165.83 L675.87,166.79 L676.38,167.73 L676.89,168.67 L677.40,169.60 L677.91,170.52 L678.42,171.44 L678.93,172.37 L679.43,173.32 L679.94,174.27 L680.45,175.23 L680.96,176.19 L681.47,177.15 L681.98,178.11 L682.49,179.07 L683.00,180.03 L683.51,180.98 L684.02,181.92 L684.53,182.86 L685.04,183.78 L685.55,184.69 L686.06,185.59 L686.57,186.47 L687.08,187.34 L687.59,188.18 L688.10,189.00 L688.61,189.80 L689.12,190.57 L689.63,191.32 L690.14,192.04 L690.65,192.72 L691.16,193.38 L691.67,194.00 L692.18,194.59 L692.69,195.18 L693.20,195.75 L693.71,196.32 L694.22,196.88 L694.73,197.42 L695.24,197.96 L695.75,198.49 L696.26,199.01 L696.77,199.52 L697.28,200.02 L697.79,200.51 L698.30,201.00 L698.81,201.47 L699.32,201.93 L699.83,202.38 L700.34,202.83 L700.85,203.26 L701.36,203.68 L701.87,204.09 L702.38,204.48 L702.89,204.87 L703.40,205.25 L703.91,205.61 L704.42,205.97 L704.93,206.31 L705.44,206.64 L705.95,206.95 L706.46,207.26 L706.97,207.55 L707.48,207.85 L707.99,208.15 L708.50,208.44 L709.01,208.73 L709.52,209.02 L710.02,209.31 L710.53,209.59 L711.04,209.86 L711.55,210.12 L712.06,210.38 L712.57,210.63 L713.08,210.87 L713.59,211.09 L714.10,211.30 L714.61,211.50 L715.12,211.69 L715.63,211.85 L716.14,212.00 L716.65,212.14 L717.16,212.27 L717.67,212.40 L718.18,212.52 L718.69,212.64 L719.20,212.76 L719.71,212.86 L720.22,212.96 L720.73,213.06 L721.24,213.14 L721.75,213.22 L722.26,213.29 L722.77,213.35 L723.28,213.40 L723.79,213.44 L724.30,213.47 L724.81,213.49 L725.32,213.50 L725.83,213.49 L726.34,213.48 L726.85,213.44 L727.36,213.39 L727.87,213.31 L728.38,213.22 L728.89,213.12 L729.40,212.99 L729.91,212.85 L730.42,212.70 L730.93,212.53 L731.44,212.36 L731.95,212.17 L732.46,211.97 L732.97,211.76 L733.48,211.54 L733.99,211.31 L734.50,211.08 L735.01,210.84 L735.52,210.59 L736.03,210.35 L736.54,210.08 L737.05,209.78 L737.56,209.45 L738.07,209.10 L738.58,208.73 L739.09,208.34 L739.60,207.94 L740.11,207.52 L740.62,207.10 L741.12,206.67 L741.63,206.24 L742.14,205.80 L742.65,205.38 L743.16,204.95 L743.67,204.54 L744.18,204.13 L744.69,203.74 L745.20,203.36 L745.71,203.00 L746.22,202.66 L746.73,202.34 L747.24,202.02 L747.75,201.70 L748.26,201.38 L748.77,201.06 L749.28,200.75 L749.79,200.44 L750.30,200.14 L750.81,199.85 L751.32,199.58 L751.83,199.33 L752.34,199.09 L752.85,198.88 L753.36,198.69 L753.87,198.51 L754.38,198.36 L754.89,198.23 L755.40,198.12 L755.91,198.03 L756.42,197.98 L756.93,197.97 L757.44,198.00 L757.95,198.05 L758.46,198.14 L758.97,198.25 L759.48,198.39 L759.99,198.55 L760.50,198.74 L761.01,198.95 L761.52,199.18 L762.03,199.43 L762.54,199.70 L763.05,199.99 L763.56,200.30 L764.07,200.62 L764.58,200.96 L765.09,201.31 L765.60,201.75 L766.11,202.28 L766.62,202.90 L767.13,203.57 L767.64,204.29 L768.15,205.03 L768.66,205.78 L769.17,206.52 L769.68,207.22 L770.19,207.87 L770.70,208.45 L771.20,209.01 L771.71,209.57 L772.22,210.12 L772.73,210.67 L773.24,211.21 L773.75,211.76 L774.26,212.29 L774.77,212.83 L775.28,213.35 L775.79,213.88 L776.30,214.40 L776.81,214.91 L777.32,215.43 L777.83,215.93 L778.34,216.43 L778.85,216.93 L779.36,217.42 L779.87,217.91 L780.38,218.39 L780.89,218.87 L781.40,219.34 L781.91,219.82 L782.42,220.29 L782.93,220.76 L783.44,221.24 L783.95,221.70 L784.46,222.17 L784.97,222.63 L785.48,223.09 L785.99,223.54 L786.50,223.99" stroke="#108a10" stroke-width="1.15" stroke-dasharray="3.2,1.3,1.2,1.5"/>
<path d="M480.60,214.53 L481.11,212.89 L481.62,211.26 L482.13,209.67 L482.64,208.11 L483.15,206.58 L483.66,205.11 L484.17,203.69 L484.68,202.27 L485.19,200.84 L485.70,199.44 L486.21,198.13 L486.72,196.94 L487.23,195.92 L487.74,195.10 L488.25,194.46 L488.76,193.86 L489.27,193.30 L489.78,192.77 L490.29,192.28 L490.80,191.85 L491.31,191.46 L491.82,191.12 L492.33,190.81 L492.84,190.55 L493.35,190.33 L493.86,190.17 L494.37,190.06 L494.88,190.01 L495.39,190.02 L495.90,190.06 L496.40,190.13 L496.91,190.20 L497.42,190.29 L497.93,190.40 L498.44,190.51 L498.95,190.63 L499.46,190.75 L499.97,190.88 L500.48,191.02 L500.99,191.16 L501.50,191.30 L502.01,191.44 L502.52,191.58 L503.03,191.72 L503.54,191.87 L504.05,192.02 L504.56,192.18 L505.07,192.34 L505.58,192.51 L506.09,192.68 L506.60,192.85 L507.11,193.03 L507.62,193.20 L508.13,193.38 L508.64,193.55 L509.15,193.72 L509.66,193.88 L510.17,194.04 L510.68,194.20 L511.19,194.34 L511.70,194.47 L512.21,194.59 L512.72,194.68 L513.23,194.72 L513.74,194.73 L514.25,194.69 L514.76,194.63 L515.27,194.55 L515.78,194.44 L516.29,194.32 L516.80,194.20 L517.31,194.07 L517.82,193.92 L518.33,193.70 L518.84,193.42 L519.35,193.11 L519.86,192.76 L520.37,192.39 L520.88,192.01 L521.39,191.64 L521.90,191.26 L522.41,190.83 L522.92,190.37 L523.43,189.87 L523.94,189.33 L524.45,188.77 L524.96,188.17 L525.47,187.55 L525.98,186.91 L526.49,186.24 L526.99,185.50 L527.50,184.64 L528.01,183.67 L528.52,182.62 L529.03,181.48 L529.54,180.27 L530.05,178.99 L530.56,177.67 L531.07,176.30 L531.58,174.91 L532.09,173.49 L532.60,172.06 L533.11,170.56 L533.62,168.95 L534.13,167.25 L534.64,165.45 L535.15,163.57 L535.66,161.61 L536.17,159.57 L536.68,157.45 L537.19,155.27 L537.70,153.02 L538.21,150.71 L538.72,148.35 L539.23,145.94 L539.74,143.48 L540.25,140.74 L540.76,137.68 L541.27,134.40 L541.78,130.99 L542.29,127.56 L542.80,124.18 L543.31,120.95 L543.82,117.97 L544.33,115.23 L544.84,112.53 L545.35,109.86 L545.86,107.23 L546.37,104.65 L546.88,102.11 L547.39,99.61 L547.90,97.16 L548.41,94.75 L548.92,92.40 L549.43,90.10 L549.94,87.85 L550.45,85.65 L550.96,83.49 L551.47,81.34 L551.98,79.23 L552.49,77.18 L553.00,75.21 L553.51,73.33 L554.02,71.57 L554.53,69.95 L555.04,68.48 L555.55,67.05 L556.06,65.64 L556.57,64.29 L557.08,63.04 L557.58,61.91 L558.09,60.95 L558.60,60.18 L559.11,59.64 L559.62,59.34 L560.13,59.24 L560.64,59.27 L561.15,59.43 L561.66,59.71 L562.17,60.10 L562.68,60.60 L563.19,61.18 L563.70,61.85 L564.21,62.59 L564.72,63.41 L565.23,64.30 L565.74,65.25 L566.25,66.24 L566.76,67.26 L567.27,68.29 L567.78,69.33 L568.29,70.37 L568.80,71.39 L569.31,72.38 L569.82,73.33 L570.33,74.25 L570.84,75.19 L571.35,76.15 L571.86,77.13 L572.37,78.10 L572.88,79.08 L573.39,80.03 L573.90,80.96 L574.41,81.86 L574.92,82.71 L575.43,83.50 L575.94,84.22 L576.45,84.86 L576.96,85.48 L577.47,86.09 L577.98,86.69 L578.49,87.29 L579.00,87.89 L579.51,88.47 L580.02,89.04 L580.53,89.60 L581.04,90.14 L581.55,90.66 L582.06,91.16 L582.57,91.64 L583.08,92.09 L583.59,92.52 L584.10,92.91 L584.61,93.27 L585.12,93.57 L585.63,93.82 L586.14,94.01 L586.65,94.13 L587.16,94.17 L587.66,94.13 L588.17,94.02 L588.68,93.84 L589.19,93.59 L589.70,93.28 L590.21,92.91 L590.72,92.50 L591.23,92.04 L591.74,91.46 L592.25,90.77 L592.76,90.01 L593.27,89.19 L593.78,88.33 L594.29,87.46 L594.80,86.59 L595.31,85.75 L595.82,84.89 L596.33,84.01 L596.84,83.12 L597.35,82.20 L597.86,81.27 L598.37,80.33 L598.88,79.37 L599.39,78.40 L599.90,77.41 L600.41,76.40 L600.92,75.37 L601.43,74.28 L601.94,73.07 L602.45,71.78 L602.96,70.41 L603.47,68.98 L603.98,67.52 L604.49,66.02 L605.00,64.52 L605.51,63.03 L606.02,61.51 L606.53,59.90 L607.04,58.23 L607.55,56.47 L608.06,54.64 L608.57,52.74 L609.08,50.78 L609.59,48.78 L610.10,46.76 L610.61,44.74 L611.12,42.73 L611.63,40.78 L612.14,38.89 L612.65,37.09 L613.16,35.41 L613.67,33.84 L614.18,32.30 L614.69,30.79 L615.20,29.33 L615.71,27.95 L616.22,26.67 L616.73,25.49 L617.24,24.45 L617.75,23.54 L618.25,22.78 L618.76,22.17 L619.27,21.71 L619.78,21.40 L620.29,21.24 L620.80,21.27 L621.31,21.46 L621.82,21.79 L622.33,22.24 L622.84,22.79 L623.35,23.42 L623.86,24.11 L624.37,24.84 L624.88,25.61 L625.39,26.41 L625.90,27.35 L626.41,28.42 L626.92,29.62 L627.43,30.92 L627.94,32.32 L628.45,33.79 L628.96,35.32 L629.47,36.93 L629.98,38.64 L630.49,40.48 L631.00,42.42 L631.51,44.45 L632.02,46.59 L632.53,48.80 L633.04,51.09 L633.55,53.45 L634.06,55.84 L634.57,58.23 L635.08,60.62 L635.59,62.98 L636.10,65.36 L636.61,67.82 L637.12,70.34 L637.63,72.89 L638.14,75.47 L638.65,78.03 L639.16,80.58 L639.67,83.09 L640.18,85.54 L640.69,87.91 L641.20,90.19 L641.71,92.38 L642.22,94.55 L642.73,96.68 L643.24,98.77 L643.75,100.80 L644.26,102.76 L644.77,104.65 L645.28,106.45 L645.79,108.14 L646.30,109.74 L646.81,111.30 L647.32,112.84 L647.83,114.36 L648.34,115.86 L648.85,117.33 L649.35,118.76 L649.86,120.15 L650.37,121.49 L650.88,122.79 L651.39,124.03 L651.90,125.21 L652.41,126.33 L652.92,127.37 L653.43,128.34 L653.94,129.26 L654.45,130.13 L654.96,130.97 L655.47,131.78 L655.98,132.56 L656.49,133.31 L657.00,134.04 L657.51,134.76 L658.02,135.47 L658.53,136.17 L659.04,136.86 L659.55,137.56 L660.06,138.26 L660.57,138.98 L661.08,139.70 L661.59,140.45 L662.10,141.22 L662.61,142.02 L663.12,142.85 L663.63,143.71 L664.14,144.61 L664.65,145.51 L665.16,146.43 L665.67,147.36 L666.18,148.29 L666.69,149.24 L667.20,150.19 L667.71,151.16 L668.22,152.12 L668.73,153.10 L669.24,154.07 L669.75,155.06 L670.26,156.04 L670.77,157.02 L671.28,158.01 L671.79,159.00 L672.30,159.98 L672.81,160.97 L673.32,161.95 L673.83,162.92 L674.34,163.90 L674.85,164.87 L675.36,165.83 L675.87,166.78 L676.38,167.73 L676.89,168.66 L677.40,169.59 L677.91,170.51 L678.42,171.43 L678.93,172.37 L679.43,173.31 L679.94,174.26 L680.45,175.22 L680.96,176.18 L681.47,177.14 L681.98,178.11 L682.49,179.07 L683.00,180.02 L683.51,180.97 L684.02,181.92 L684.53,182.85 L685.04,183.78 L685.55,184.69 L686.06,185.59 L686.57,186.47 L687.08,187.33 L687.59,188.18 L688.10,189.00 L688.61,189.80 L689.12,190.57 L689.63,191.32 L690.14,192.04 L690.65,192.72 L691.16,193.38 L691.67,194.00 L692.18,194.59 L692.69,195.18 L693.20,195.75 L693.71,196.32 L694.22,196.88 L694.73,197.42 L695.24,197.96 L695.75,198.49 L696.26,199.01 L696.77,199.52 L697.28,200.02 L697.79,200.51 L698.30,201.00 L698.81,201.47 L699.32,201.93 L699.83,202.38 L700.34,202.83 L700.85,203.26 L701.36,203.68 L701.87,204.09 L702.38,204.48 L702.89,204.87 L703.40,205.25 L703.91,205.61 L704.42,205.97 L704.93,206.31 L705.44,206.64 L705.95,206.95 L706.46,207.26 L706.97,207.55 L707.48,207.85 L707.99,208.15 L708.50,208.44 L709.01,208.73 L709.52,209.02 L710.02,209.31 L710.53,209.59 L711.04,209.86 L711.55,210.12 L712.06,210.38 L712.57,210.63 L713.08,210.87 L713.59,211.09 L714.10,211.30 L714.61,211.50 L715.12,211.69 L715.63,211.85 L716.14,212.00 L716.65,212.14 L717.16,212.27 L717.67,212.40 L718.18,212.52 L718.69,212.64 L719.20,212.76 L719.71,212.86 L720.22,212.96 L720.73,213.06 L721.24,213.14 L721.75,213.22 L722.26,213.29 L722.77,213.35 L723.28,213.40 L723.79,213.44 L724.30,213.47 L724.81,213.49 L725.32,213.50 L725.83,213.49 L726.34,213.48 L726.85,213.44 L727.36,213.39 L727.87,213.31 L728.38,213.22 L728.89,213.12 L729.40,212.99 L729.91,212.85 L730.42,212.70 L730.93,212.53 L731.44,212.36 L731.95,212.17 L732.46,211.97 L732.97,211.76 L733.48,211.54 L733.99,211.31 L734.50,211.08 L735.01,210.84 L735.52,210.59 L736.03,210.35 L736.54,210.08 L737.05,209.78 L737.56,209.45 L738.07,209.10 L738.58,208.73 L739.09,208.34 L739.60,207.94 L740.11,207.52 L740.62,207.10 L741.12,206.67 L741.63,206.24 L742.14,205.80 L742.65,205.38 L743.16,204.95 L743.67,204.54 L744.18,204.13 L744.69,203.74 L745.20,203.36 L745.71,203.00 L746.22,202.66 L746.73,202.34 L747.24,202.02 L747.75,201.70 L748.26,201.38 L748.77,201.06 L749.28,200.75 L749.79,200.44 L750.30,200.14 L750.81,199.85 L751.32,199.58 L751.83,199.33 L752.34,199.09 L752.85,198.88 L753.36,198.69 L753.87,198.51 L754.38,198.36 L754.89,198.23 L755.40,198.12 L755.91,198.03 L756.42,197.98 L756.93,197.97 L757.44,198.00 L757.95,198.05 L758.46,198.14 L758.97,198.25 L759.48,198.39 L759.99,198.55 L760.50,198.74 L761.01,198.95 L761.52,199.18 L762.03,199.43 L762.54,199.70 L763.05,199.99 L763.56,200.30 L764.07,200.62 L764.58,200.96 L765.09,201.31 L765.60,201.75 L766.11,202.28 L766.62,202.90 L767.13,203.57 L767.64,204.29 L768.15,205.03 L768.66,205.78 L769.17,206.52 L769.68,207.22 L770.19,207.87 L770.70,208.45 L771.20,209.01 L771.71,209.57 L772.22,210.12 L772.73,210.67 L773.24,211.21 L773.75,211.76 L774.26,212.29 L774.77,212.83 L775.28,213.35 L775.79,213.88 L776.30,214.40 L776.81,214.91 L777.32,215.43 L777.83,215.93 L778.34,216.43 L778.85,216.93 L779.36,217.42 L779.87,217.91 L780.38,218.39 L780.89,218.87 L781.40,219.34 L781.91,219.82 L782.42,220.29 L782.93,220.76 L783.44,221.24 L783.95,221.70 L784.46,222.17 L784.97,222.63 L785.48,223.09 L785.99,223.54 L786.50,223.99" stroke="#ff40ff" stroke-width="1.6" stroke-dasharray="1.6,2.6"/>
<path d="M480.60,210.61 L481.11,210.62 L481.62,210.67 L482.13,210.74 L482.64,210.84 L483.15,210.96 L483.66,211.08 L484.17,211.20 L484.68,211.31 L485.19,211.40 L485.70,211.46 L486.21,211.43 L486.72,211.32 L487.23,211.12 L487.74,210.85 L488.25,210.52 L488.76,210.13 L489.27,209.71 L489.78,209.25 L490.29,208.77 L490.80,208.26 L491.31,207.66 L491.82,207.05 L492.33,206.42 L492.84,205.79 L493.35,205.17 L493.86,204.56 L494.37,203.98 L494.88,203.44 L495.39,202.95 L495.90,202.51 L496.40,202.13 L496.91,201.83 L497.42,201.62 L497.93,201.48 L498.44,201.36 L498.95,201.27 L499.46,201.22 L499.97,201.19 L500.48,201.20 L500.99,201.24 L501.50,201.31 L502.01,201.39 L502.52,201.48 L503.03,201.57 L503.54,201.67 L504.05,201.77 L504.56,201.88 L505.07,202.00 L505.58,202.13 L506.09,202.25 L506.60,202.38 L507.11,202.50 L507.62,202.61 L508.13,202.71 L508.64,202.80 L509.15,202.87 L509.66,202.93 L510.17,202.96 L510.68,202.96 L511.19,202.94 L511.70,202.89 L512.21,202.80 L512.72,202.65 L513.23,202.45 L513.74,202.21 L514.25,201.93 L514.76,201.62 L515.27,201.29 L515.78,200.94 L516.29,200.59 L516.80,200.23 L517.31,199.83 L517.82,199.37 L518.33,198.86 L518.84,198.31 L519.35,197.73 L519.86,197.14 L520.37,196.54 L520.88,195.95 L521.39,195.36 L521.90,194.73 L522.41,194.04 L522.92,193.31 L523.43,192.53 L523.94,191.72 L524.45,190.88 L524.96,190.01 L525.47,189.13 L525.98,188.22 L526.49,187.28 L526.99,186.25 L527.50,185.13 L528.01,183.95 L528.52,182.70 L529.03,181.41 L529.54,180.09 L530.05,178.74 L530.56,177.38 L531.07,176.03 L531.58,174.68 L532.09,173.34 L532.60,171.99 L533.11,170.56 L533.62,169.05 L534.13,167.44 L534.64,165.76 L535.15,164.00 L535.66,162.17 L536.17,160.26 L536.68,158.29 L537.19,156.25 L537.70,154.15 L538.21,152.00 L538.72,149.79 L539.23,147.52 L539.74,145.21 L540.25,142.62 L540.76,139.70 L541.27,136.55 L541.78,133.27 L542.29,129.98 L542.80,126.77 L543.31,123.75 L543.82,121.01 L544.33,118.52 L544.84,116.10 L545.35,113.74 L545.86,111.44 L546.37,109.19 L546.88,107.00 L547.39,104.87 L547.90,102.79 L548.41,100.76 L548.92,98.79 L549.43,96.88 L549.94,95.01 L550.45,93.20 L550.96,91.42 L551.47,89.65 L551.98,87.91 L552.49,86.21 L553.00,84.57 L553.51,83.00 L554.02,81.53 L554.53,80.17 L555.04,78.93 L555.55,77.75 L556.06,76.56 L556.57,75.39 L557.08,74.27 L557.58,73.23 L558.09,72.29 L558.60,71.50 L559.11,70.87 L559.62,70.44 L560.13,70.22 L560.64,70.15 L561.15,70.21 L561.66,70.38 L562.17,70.67 L562.68,71.06 L563.19,71.53 L563.70,72.09 L564.21,72.71 L564.72,73.39 L565.23,74.15 L565.74,74.97 L566.25,75.84 L566.76,76.74 L567.27,77.66 L567.78,78.59 L568.29,79.53 L568.80,80.47 L569.31,81.39 L569.82,82.29 L570.33,83.15 L570.84,83.98 L571.35,84.81 L571.86,85.66 L572.37,86.53 L572.88,87.41 L573.39,88.30 L573.90,89.17 L574.41,90.03 L574.92,90.87 L575.43,91.67 L575.94,92.43 L576.45,93.14 L576.96,93.79 L577.47,94.36 L577.98,94.91 L578.49,95.46 L579.00,96.01 L579.51,96.56 L580.02,97.10 L580.53,97.64 L581.04,98.17 L581.55,98.69 L582.06,99.19 L582.57,99.68 L583.08,100.15 L583.59,100.61 L584.10,101.05 L584.61,101.46 L585.12,101.83 L585.63,102.15 L586.14,102.41 L586.65,102.60 L587.16,102.71 L587.66,102.74 L588.17,102.67 L588.68,102.52 L589.19,102.29 L589.70,101.98 L590.21,101.60 L590.72,101.17 L591.23,100.69 L591.74,100.12 L592.25,99.42 L592.76,98.61 L593.27,97.74 L593.78,96.82 L594.29,95.88 L594.80,94.95 L595.31,94.04 L595.82,93.13 L596.33,92.21 L596.84,91.27 L597.35,90.32 L597.86,89.36 L598.37,88.40 L598.88,87.42 L599.39,86.44 L599.90,85.44 L600.41,84.42 L600.92,83.38 L601.43,82.29 L601.94,81.09 L602.45,79.80 L602.96,78.43 L603.47,77.01 L603.98,75.55 L604.49,74.06 L605.00,72.56 L605.51,71.07 L606.02,69.54 L606.53,67.93 L607.04,66.25 L607.55,64.48 L608.06,62.63 L608.57,60.71 L609.08,58.73 L609.59,56.71 L610.10,54.67 L610.61,52.63 L611.12,50.62 L611.63,48.65 L612.14,46.75 L612.65,44.95 L613.16,43.26 L613.67,41.68 L614.18,40.13 L614.69,38.60 L615.20,37.13 L615.71,35.74 L616.22,34.43 L616.73,33.23 L617.24,32.16 L617.75,31.22 L618.25,30.43 L618.76,29.78 L619.27,29.28 L619.78,28.92 L620.29,28.69 L620.80,28.61 L621.31,28.67 L621.82,28.84 L622.33,29.11 L622.84,29.46 L623.35,29.86 L623.86,30.31 L624.37,30.79 L624.88,31.29 L625.39,31.79 L625.90,32.39 L626.41,33.11 L626.92,33.94 L627.43,34.87 L627.94,35.89 L628.45,36.98 L628.96,38.14 L629.47,39.36 L629.98,40.66 L630.49,42.09 L631.00,43.63 L631.51,45.28 L632.02,47.05 L632.53,48.91 L633.04,50.88 L633.55,52.95 L634.06,55.07 L634.57,57.23 L635.08,59.41 L635.59,61.59 L636.10,63.76 L636.61,65.98 L637.12,68.30 L637.63,70.70 L638.14,73.15 L638.65,75.64 L639.16,78.15 L639.67,80.64 L640.18,83.09 L640.69,85.48 L641.20,87.81 L641.71,90.03 L642.22,92.18 L642.73,94.30 L643.24,96.39 L643.75,98.44 L644.26,100.44 L644.77,102.37 L645.28,104.23 L645.79,106.01 L646.30,107.68 L646.81,109.26 L647.32,110.80 L647.83,112.32 L648.34,113.82 L648.85,115.30 L649.35,116.76 L649.86,118.18 L650.37,119.56 L650.88,120.90 L651.39,122.19 L651.90,123.43 L652.41,124.61 L652.92,125.73 L653.43,126.78 L653.94,127.76 L654.45,128.68 L654.96,129.55 L655.47,130.40 L655.98,131.21 L656.49,131.99 L657.00,132.75 L657.51,133.49 L658.02,134.21 L658.53,134.92 L659.04,135.63 L659.55,136.33 L660.06,137.03 L660.57,137.75 L661.08,138.47 L661.59,139.20 L662.10,139.96 L662.61,140.74 L663.12,141.55 L663.63,142.40 L664.14,143.28 L664.65,144.19 L665.16,145.12 L665.67,146.05 L666.18,147.00 L666.69,147.96 L667.20,148.93 L667.71,149.90 L668.22,150.89 L668.73,151.88 L669.24,152.87 L669.75,153.87 L670.26,154.87 L670.77,155.88 L671.28,156.89 L671.79,157.90 L672.30,158.91 L672.81,159.91 L673.32,160.92 L673.83,161.92 L674.34,162.92 L674.85,163.92 L675.36,164.90 L675.87,165.88 L676.38,166.86 L676.89,167.82 L677.40,168.78 L677.91,169.72 L678.42,170.66 L678.93,171.61 L679.43,172.57 L679.94,173.54 L680.45,174.52 L680.96,175.50 L681.47,176.48 L681.98,177.47 L682.49,178.45 L683.00,179.43 L683.51,180.40 L684.02,181.37 L684.53,182.32 L685.04,183.27 L685.55,184.20 L686.06,185.12 L686.57,186.03 L687.08,186.91 L687.59,187.78 L688.10,188.63 L688.61,189.45 L689.12,190.24 L689.63,191.01 L690.14,191.75 L690.65,192.45 L691.16,193.13 L691.67,193.77 L692.18,194.38 L692.69,194.98 L693.20,195.57 L693.71,196.15 L694.22,196.72 L694.73,197.29 L695.24,197.84 L695.75,198.38 L696.26,198.91 L696.77,199.44 L697.28,199.95 L697.79,200.45 L698.30,200.94 L698.81,201.42 L699.32,201.89 L699.83,202.35 L700.34,202.80 L700.85,203.24 L701.36,203.66 L701.87,204.08 L702.38,204.48 L702.89,204.87 L703.40,205.25 L703.91,205.62 L704.42,205.97 L704.93,206.32 L705.44,206.65 L705.95,206.97 L706.46,207.27 L706.97,207.57 L707.48,207.87 L707.99,208.17 L708.50,208.47 L709.01,208.76 L709.52,209.05 L710.02,209.33 L710.53,209.61 L711.04,209.89 L711.55,210.15 L712.06,210.41 L712.57,210.65 L713.08,210.89 L713.59,211.11 L714.10,211.32 L714.61,211.52 L715.12,211.70 L715.63,211.87 L716.14,212.02 L716.65,212.15 L717.16,212.29 L717.67,212.41 L718.18,212.53 L718.69,212.65 L719.20,212.76 L719.71,212.87 L720.22,212.97 L720.73,213.06 L721.24,213.15 L721.75,213.23 L722.26,213.29 L722.77,213.35 L723.28,213.40 L723.79,213.44 L724.30,213.47 L724.81,213.49 L725.32,213.50 L725.83,213.49 L726.34,213.48 L726.85,213.44 L727.36,213.39 L727.87,213.31 L728.38,213.22 L728.89,213.11 L729.40,212.99 L729.91,212.85 L730.42,212.70 L730.93,212.53 L731.44,212.36 L731.95,212.17 L732.46,211.97 L732.97,211.76 L733.48,211.54 L733.99,211.31 L734.50,211.08 L735.01,210.84 L735.52,210.59 L736.03,210.34 L736.54,210.08 L737.05,209.78 L737.56,209.45 L738.07,209.10 L738.58,208.73 L739.09,208.34 L739.60,207.93 L740.11,207.52 L740.62,207.09 L741.12,206.66 L741.63,206.23 L742.14,205.80 L742.65,205.37 L743.16,204.95 L743.67,204.53 L744.18,204.13 L744.69,203.74 L745.20,203.36 L745.71,203.00 L746.22,202.66 L746.73,202.34 L747.24,202.02 L747.75,201.70 L748.26,201.38 L748.77,201.06 L749.28,200.75 L749.79,200.44 L750.30,200.14 L750.81,199.85 L751.32,199.58 L751.83,199.33 L752.34,199.09 L752.85,198.88 L753.36,198.69 L753.87,198.51 L754.38,198.36 L754.89,198.23 L755.40,198.12 L755.91,198.03 L756.42,197.98 L756.93,197.97 L757.44,198.00 L757.95,198.05 L758.46,198.14 L758.97,198.25 L759.48,198.39 L759.99,198.55 L760.50,198.74 L761.01,198.95 L761.52,199.18 L762.03,199.43 L762.54,199.70 L763.05,199.99 L763.56,200.30 L764.07,200.62 L764.58,200.96 L765.09,201.31 L765.60,201.75 L766.11,202.28 L766.62,202.90 L767.13,203.57 L767.64,204.29 L768.15,205.03 L768.66,205.78 L769.17,206.52 L769.68,207.22 L770.19,207.87 L770.70,208.45 L771.20,209.01 L771.71,209.57 L772.22,210.12 L772.73,210.67 L773.24,211.21 L773.75,211.76 L774.26,212.29 L774.77,212.83 L775.28,213.35 L775.79,213.88 L776.30,214.40 L776.81,214.91 L777.32,215.43 L777.83,215.93 L778.34,216.43 L778.85,216.93 L779.36,217.42 L779.87,217.91 L780.38,218.39 L780.89,218.87 L781.40,219.34 L781.91,219.82 L782.42,220.29 L782.93,220.76 L783.44,221.24 L783.95,221.70 L784.46,222.17 L784.97,222.63 L785.48,223.09 L785.99,223.54 L786.50,223.99" stroke="#ff8c20" stroke-width="1.15" stroke-dasharray="3.2,1.3,1.2,1.5"/>
<path d="M480.60,234.12 L481.11,232.39 L481.62,230.68 L482.13,228.99 L482.64,227.33 L483.15,225.69 L483.66,224.08 L484.17,222.50 L484.68,220.95 L485.19,219.44 L485.70,217.96 L486.21,216.48 L486.72,214.99 L487.23,213.52 L487.74,212.08 L488.25,210.68 L488.76,209.33 L489.27,208.06 L489.78,206.87 L490.29,205.80 L490.80,204.85 L491.31,203.92 L491.82,203.01 L492.33,202.11 L492.84,201.25 L493.35,200.43 L493.86,199.66 L494.37,198.94 L494.88,198.30 L495.39,197.73 L495.90,197.24 L496.40,196.85 L496.91,196.56 L497.42,196.38 L497.93,196.30 L498.44,196.27 L498.95,196.25 L499.46,196.25 L499.97,196.26 L500.48,196.28 L500.99,196.32 L501.50,196.36 L502.01,196.41 L502.52,196.46 L503.03,196.51 L503.54,196.56 L504.05,196.61 L504.56,196.68 L505.07,196.75 L505.58,196.82 L506.09,196.91 L506.60,196.99 L507.11,197.07 L507.62,197.16 L508.13,197.24 L508.64,197.31 L509.15,197.38 L509.66,197.45 L510.17,197.50 L510.68,197.54 L511.19,197.57 L511.70,197.58 L512.21,197.57 L512.72,197.50 L513.23,197.39 L513.74,197.25 L514.25,197.07 L514.76,196.87 L515.27,196.66 L515.78,196.42 L516.29,196.18 L516.80,195.94 L517.31,195.68 L517.82,195.36 L518.33,194.98 L518.84,194.56 L519.35,194.11 L519.86,193.64 L520.37,193.16 L520.88,192.69 L521.39,192.22 L521.90,191.72 L522.41,191.17 L522.92,190.60 L523.43,189.99 L523.94,189.36 L524.45,188.71 L524.96,188.03 L525.47,187.33 L525.98,186.61 L526.49,185.87 L526.99,185.02 L527.50,184.09 L528.01,183.08 L528.52,181.99 L529.03,180.84 L529.54,179.64 L530.05,178.39 L530.56,177.10 L531.07,175.78 L531.58,174.45 L532.09,173.10 L532.60,171.75 L533.11,170.31 L533.62,168.78 L534.13,167.16 L534.64,165.45 L535.15,163.67 L535.66,161.80 L536.17,159.86 L536.68,157.84 L537.19,155.75 L537.70,153.60 L538.21,151.38 L538.72,149.10 L539.23,146.77 L539.74,144.37 L540.25,141.70 L540.76,138.69 L541.27,135.43 L541.78,132.04 L542.29,128.62 L542.80,125.27 L543.31,122.10 L543.82,119.21 L544.33,116.55 L544.84,113.96 L545.35,111.41 L545.86,108.92 L546.37,106.47 L546.88,104.08 L547.39,101.74 L547.90,99.46 L548.41,97.23 L548.92,95.05 L549.43,92.93 L549.94,90.86 L550.45,88.85 L550.96,86.86 L551.47,84.89 L551.98,82.96 L552.49,81.08 L553.00,79.27 L553.51,77.56 L554.02,75.96 L554.53,74.48 L555.04,73.15 L555.55,71.83 L556.06,70.53 L556.57,69.28 L557.08,68.11 L557.58,67.04 L558.09,66.13 L558.60,65.39 L559.11,64.86 L559.62,64.57 L560.13,64.46 L560.64,64.50 L561.15,64.67 L561.66,64.96 L562.17,65.37 L562.68,65.88 L563.19,66.49 L563.70,67.18 L564.21,67.94 L564.72,68.79 L565.23,69.72 L565.74,70.70 L566.25,71.72 L566.76,72.77 L567.27,73.84 L567.78,74.92 L568.29,75.99 L568.80,77.05 L569.31,78.08 L569.82,79.08 L570.33,80.04 L570.84,81.02 L571.35,82.02 L571.86,83.04 L572.37,84.06 L572.88,85.07 L573.39,86.07 L573.90,87.04 L574.41,87.98 L574.92,88.87 L575.43,89.70 L575.94,90.46 L576.45,91.13 L576.96,91.78 L577.47,92.42 L577.98,93.06 L578.49,93.69 L579.00,94.31 L579.51,94.91 L580.02,95.51 L580.53,96.08 L581.04,96.64 L581.55,97.18 L582.06,97.69 L582.57,98.17 L583.08,98.63 L583.59,99.06 L584.10,99.46 L584.61,99.81 L585.12,100.12 L585.63,100.37 L586.14,100.57 L586.65,100.69 L587.16,100.73 L587.66,100.69 L588.17,100.58 L588.68,100.39 L589.19,100.14 L589.70,99.83 L590.21,99.47 L590.72,99.06 L591.23,98.59 L591.74,98.01 L592.25,97.32 L592.76,96.56 L593.27,95.73 L593.78,94.88 L594.29,94.00 L594.80,93.13 L595.31,92.29 L595.82,91.43 L596.33,90.55 L596.84,89.65 L597.35,88.73 L597.86,87.80 L598.37,86.86 L598.88,85.90 L599.39,84.94 L599.90,83.95 L600.41,82.95 L600.92,81.92 L601.43,80.84 L601.94,79.65 L602.45,78.36 L602.96,77.01 L603.47,75.59 L603.98,74.14 L604.49,72.66 L605.00,71.17 L605.51,69.69 L606.02,68.18 L606.53,66.59 L607.04,64.93 L607.55,63.18 L608.06,61.37 L608.57,59.48 L609.08,57.53 L609.59,55.54 L610.10,53.52 L610.61,51.50 L611.12,49.50 L611.63,47.55 L612.14,45.66 L612.65,43.86 L613.16,42.18 L613.67,40.61 L614.18,39.06 L614.69,37.54 L615.20,36.07 L615.71,34.68 L616.22,33.37 L616.73,32.18 L617.24,31.11 L617.75,30.17 L618.25,29.38 L618.76,28.73 L619.27,28.24 L619.78,27.88 L620.29,27.65 L620.80,27.59 L621.31,27.67 L621.82,27.88 L622.33,28.19 L622.84,28.58 L623.35,29.04 L623.86,29.55 L624.37,30.09 L624.88,30.66 L625.39,31.24 L625.90,31.96 L626.41,32.81 L626.92,33.78 L627.43,34.85 L627.94,36.01 L628.45,37.24 L628.96,38.53 L629.47,39.89 L629.98,41.37 L630.49,42.97 L631.00,44.67 L631.51,46.48 L632.02,48.39 L632.53,50.39 L633.04,52.48 L633.55,54.64 L634.06,56.84 L634.57,59.06 L635.08,61.29 L635.59,63.51 L636.10,65.75 L636.61,68.10 L637.12,70.51 L637.63,72.99 L638.14,75.50 L638.65,78.03 L639.16,80.55 L639.67,83.04 L640.18,85.47 L640.69,87.82 L641.20,90.08 L641.71,92.25 L642.22,94.41 L642.73,96.53 L643.24,98.60 L643.75,100.62 L644.26,102.58 L644.77,104.46 L645.28,106.25 L645.79,107.95 L646.30,109.54 L646.81,111.10 L647.32,112.64 L647.83,114.16 L648.34,115.66 L648.85,117.13 L649.35,118.57 L649.86,119.96 L650.37,121.31 L650.88,122.61 L651.39,123.86 L651.90,125.05 L652.41,126.17 L652.92,127.23 L653.43,128.21 L653.94,129.13 L654.45,130.01 L654.96,130.86 L655.47,131.68 L655.98,132.46 L656.49,133.22 L657.00,133.97 L657.51,134.69 L658.02,135.41 L658.53,136.12 L659.04,136.82 L659.55,137.53 L660.06,138.24 L660.57,138.95 L661.08,139.69 L661.59,140.44 L662.10,141.21 L662.61,142.01 L663.12,142.84 L663.63,143.71 L664.14,144.61 L664.65,145.51 L665.16,146.43 L665.67,147.36 L666.18,148.29 L666.69,149.24 L667.20,150.19 L667.71,151.16 L668.22,152.12 L668.73,153.10 L669.24,154.07 L669.75,155.05 L670.26,156.04 L670.77,157.02 L671.28,158.01 L671.79,159.00 L672.30,159.98 L672.81,160.96 L673.32,161.95 L673.83,162.92 L674.34,163.90 L674.85,164.86 L675.36,165.83 L675.87,166.78 L676.38,167.73 L676.89,168.66 L677.40,169.59 L677.91,170.51 L678.42,171.43 L678.93,172.37 L679.43,173.31 L679.94,174.26 L680.45,175.22 L680.96,176.18 L681.47,177.14 L681.98,178.11 L682.49,179.07 L683.00,180.02 L683.51,180.97 L684.02,181.92 L684.53,182.85 L685.04,183.78 L685.55,184.69 L686.06,185.59 L686.57,186.47 L687.08,187.33 L687.59,188.18 L688.10,189.00 L688.61,189.80 L689.12,190.57 L689.63,191.32 L690.14,192.04 L690.65,192.72 L691.16,193.38 L691.67,194.00 L692.18,194.59 L692.69,195.18 L693.20,195.75 L693.71,196.32 L694.22,196.88 L694.73,197.42 L695.24,197.96 L695.75,198.49 L696.26,199.01 L696.77,199.52 L697.28,200.02 L697.79,200.51 L698.30,201.00 L698.81,201.47 L699.32,201.93 L699.83,202.38 L700.34,202.83 L700.85,203.26 L701.36,203.68 L701.87,204.09 L702.38,204.48 L702.89,204.87 L703.40,205.25 L703.91,205.61 L704.42,205.97 L704.93,206.31 L705.44,206.64 L705.95,206.95 L706.46,207.26 L706.97,207.55 L707.48,207.85 L707.99,208.15 L708.50,208.44 L709.01,208.73 L709.52,209.02 L710.02,209.31 L710.53,209.59 L711.04,209.86 L711.55,210.12 L712.06,210.38 L712.57,210.63 L713.08,210.87 L713.59,211.09 L714.10,211.30 L714.61,211.50 L715.12,211.69 L715.63,211.85 L716.14,212.00 L716.65,212.14 L717.16,212.27 L717.67,212.40 L718.18,212.52 L718.69,212.64 L719.20,212.76 L719.71,212.86 L720.22,212.96 L720.73,213.06 L721.24,213.14 L721.75,213.22 L722.26,213.29 L722.77,213.35 L723.28,213.40 L723.79,213.44 L724.30,213.47 L724.81,213.49 L725.32,213.50 L725.83,213.49 L726.34,213.48 L726.85,213.44 L727.36,213.39 L727.87,213.31 L728.38,213.22 L728.89,213.12 L729.40,212.99 L729.91,212.85 L730.42,212.70 L730.93,212.53 L731.44,212.36 L731.95,212.17 L732.46,211.97 L732.97,211.76 L733.48,211.54 L733.99,211.31 L734.50,211.08 L735.01,210.84 L735.52,210.59 L736.03,210.35 L736.54,210.08 L737.05,209.78 L737.56,209.45 L738.07,209.10 L738.58,208.73 L739.09,208.34 L739.60,207.94 L740.11,207.52 L740.62,207.10 L741.12,206.67 L741.63,206.24 L742.14,205.80 L742.65,205.38 L743.16,204.95 L743.67,204.54 L744.18,204.13 L744.69,203.74 L745.20,203.36 L745.71,203.00 L746.22,202.66 L746.73,202.34 L747.24,202.02 L747.75,201.70 L748.26,201.38 L748.77,201.06 L749.28,200.75 L749.79,200.44 L750.30,200.14 L750.81,199.85 L751.32,199.58 L751.83,199.33 L752.34,199.09 L752.85,198.88 L753.36,198.69 L753.87,198.51 L754.38,198.36 L754.89,198.23 L755.40,198.12 L755.91,198.03 L756.42,197.98 L756.93,197.97 L757.44,198.00 L757.95,198.05 L758.46,198.14 L758.97,198.25 L759.48,198.39 L759.99,198.55 L760.50,198.74 L761.01,198.95 L761.52,199.18 L762.03,199.43 L762.54,199.70 L763.05,199.99 L763.56,200.30 L764.07,200.62 L764.58,200.96 L765.09,201.31 L765.60,201.75 L766.11,202.28 L766.62,202.90 L767.13,203.57 L767.64,204.29 L768.15,205.03 L768.66,205.78 L769.17,206.52 L769.68,207.22 L770.19,207.87 L770.70,208.45 L771.20,209.01 L771.71,209.57 L772.22,210.12 L772.73,210.67 L773.24,211.21 L773.75,211.76 L774.26,212.29 L774.77,212.83 L775.28,213.35 L775.79,213.88 L776.30,214.40 L776.81,214.91 L777.32,215.43 L777.83,215.93 L778.34,216.43 L778.85,216.93 L779.36,217.42 L779.87,217.91 L780.38,218.39 L780.89,218.87 L781.40,219.34 L781.91,219.82 L782.42,220.29 L782.93,220.76 L783.44,221.24 L783.95,221.70 L784.46,222.17 L784.97,222.63 L785.48,223.09 L785.99,223.54 L786.50,223.99" stroke="#3030ff" stroke-width="1.2" stroke-dasharray="4.4,2,1,2.2,1,2.6"/>
<path d="M480.60,232.04 L481.11,230.34 L481.62,228.65 L482.13,226.99 L482.64,225.35 L483.15,223.74 L483.66,222.16 L484.17,220.60 L484.68,219.07 L485.19,217.58 L485.70,216.12 L486.21,214.67 L486.72,213.21 L487.23,211.75 L487.74,210.33 L488.25,208.93 L488.76,207.57 L489.27,206.27 L489.78,205.04 L490.29,203.92 L490.80,202.91 L491.31,201.97 L491.82,201.05 L492.33,200.14 L492.84,199.26 L493.35,198.42 L493.86,197.63 L494.37,196.90 L494.88,196.23 L495.39,195.64 L495.90,195.13 L496.40,194.72 L496.91,194.41 L497.42,194.22 L497.93,194.15 L498.44,194.16 L498.95,194.18 L499.46,194.22 L499.97,194.27 L500.48,194.33 L500.99,194.41 L501.50,194.49 L502.01,194.57 L502.52,194.67 L503.03,194.76 L503.54,194.85 L504.05,194.94 L504.56,195.04 L505.07,195.14 L505.58,195.25 L506.09,195.37 L506.60,195.48 L507.11,195.60 L507.62,195.73 L508.13,195.84 L508.64,195.96 L509.15,196.07 L509.66,196.17 L510.17,196.27 L510.68,196.35 L511.19,196.43 L511.70,196.49 L512.21,196.53 L512.72,196.55 L513.23,196.51 L513.74,196.43 L514.25,196.32 L514.76,196.17 L515.27,196.00 L515.78,195.81 L516.29,195.61 L516.80,195.41 L517.31,195.20 L517.82,194.96 L518.33,194.66 L518.84,194.30 L519.35,193.91 L519.86,193.48 L520.37,193.04 L520.88,192.60 L521.39,192.17 L521.90,191.72 L522.41,191.23 L522.92,190.71 L523.43,190.16 L523.94,189.58 L524.45,188.97 L524.96,188.34 L525.47,187.68 L525.98,187.01 L526.49,186.32 L526.99,185.57 L527.50,184.71 L528.01,183.77 L528.52,182.75 L529.03,181.66 L529.54,180.50 L530.05,179.29 L530.56,178.04 L531.07,176.75 L531.58,175.43 L532.09,174.11 L532.60,172.77 L533.11,171.38 L533.62,169.90 L534.13,168.33 L534.64,166.66 L535.15,164.91 L535.66,163.07 L536.17,161.16 L536.68,159.17 L537.19,157.10 L537.70,154.97 L538.21,152.76 L538.72,150.50 L539.23,148.18 L539.74,145.80 L540.25,143.17 L540.76,140.17 L541.27,136.91 L541.78,133.50 L542.29,130.11 L542.80,126.88 L543.31,123.90 L543.82,121.24 L544.33,118.88 L544.84,116.61 L545.35,114.43 L545.86,112.32 L546.37,110.30 L546.88,108.34 L547.39,106.45 L547.90,104.61 L548.41,102.83 L548.92,101.10 L549.43,99.41 L549.94,97.76 L550.45,96.20 L550.96,94.75 L551.47,93.40 L551.98,92.12 L552.49,90.88 L553.00,89.69 L553.51,88.53 L554.02,87.41 L554.53,86.31 L555.04,85.23 L555.55,84.18 L556.06,83.14 L556.57,82.12 L557.08,81.12 L557.58,80.15 L558.09,79.13 L558.60,78.07 L559.11,77.01 L559.62,75.96 L560.13,74.94 L560.64,73.97 L561.15,73.08 L561.66,72.31 L562.17,71.68 L562.68,71.22 L563.19,70.90 L563.70,70.68 L564.21,70.56 L564.72,70.52 L565.23,70.58 L565.74,70.72 L566.25,70.94 L566.76,71.24 L567.27,71.61 L567.78,72.07 L568.29,72.60 L568.80,73.21 L569.31,73.86 L569.82,74.56 L570.33,75.28 L570.84,76.01 L571.35,76.74 L571.86,77.45 L572.37,78.14 L572.88,78.77 L573.39,79.42 L573.90,80.10 L574.41,80.81 L574.92,81.54 L575.43,82.27 L575.94,82.98 L576.45,83.67 L576.96,84.32 L577.47,84.91 L577.98,85.44 L578.49,85.88 L579.00,86.29 L579.51,86.72 L580.02,87.17 L580.53,87.62 L581.04,88.09 L581.55,88.56 L582.06,89.05 L582.57,89.54 L583.08,90.02 L583.59,90.48 L584.10,90.92 L584.61,91.32 L585.12,91.69 L585.63,92.02 L586.14,92.31 L586.65,92.56 L587.16,92.77 L587.66,92.92 L588.17,93.02 L588.68,93.07 L589.19,93.05 L589.70,92.97 L590.21,92.82 L590.72,92.60 L591.23,92.30 L591.74,91.91 L592.25,91.43 L592.76,90.89 L593.27,90.22 L593.78,89.37 L594.29,88.40 L594.80,87.33 L595.31,86.22 L595.82,85.11 L596.33,84.04 L596.84,83.00 L597.35,81.97 L597.86,80.97 L598.37,79.98 L598.88,78.98 L599.39,77.97 L599.90,76.95 L600.41,75.91 L600.92,74.85 L601.43,73.76 L601.94,72.65 L602.45,71.45 L602.96,70.12 L603.47,68.70 L603.98,67.21 L604.49,65.64 L605.00,64.04 L605.51,62.40 L606.02,60.76 L606.53,59.10 L607.04,57.35 L607.55,55.49 L608.06,53.54 L608.57,51.50 L609.08,49.38 L609.59,47.22 L610.10,45.03 L610.61,42.83 L611.12,40.66 L611.63,38.53 L612.14,36.47 L612.65,34.51 L613.16,32.68 L613.67,30.99 L614.18,29.34 L614.69,27.73 L615.20,26.18 L615.71,24.71 L616.22,23.35 L616.73,22.10 L617.24,20.98 L617.75,20.02 L618.25,19.20 L618.76,18.55 L619.27,18.05 L619.78,17.71 L620.29,17.54 L620.80,17.55 L621.31,17.74 L621.82,18.07 L622.33,18.53 L622.84,19.08 L623.35,19.72 L623.86,20.43 L624.37,21.18 L624.88,21.97 L625.39,22.78 L625.90,23.70 L626.41,24.75 L626.92,25.92 L627.43,27.19 L627.94,28.56 L628.45,30.01 L628.96,31.53 L629.47,33.10 L629.98,34.75 L630.49,36.52 L631.00,38.39 L631.51,40.37 L632.02,42.45 L632.53,44.63 L633.04,46.90 L633.55,49.24 L634.06,51.64 L634.57,54.05 L635.08,56.46 L635.59,58.85 L636.10,61.22 L636.61,63.57 L637.12,66.00 L637.63,68.47 L638.14,70.97 L638.65,73.49 L639.16,76.00 L639.67,78.51 L640.18,80.98 L640.69,83.40 L641.20,85.76 L641.71,88.03 L642.22,90.21 L642.73,92.34 L643.24,94.45 L643.75,96.52 L644.26,98.55 L644.77,100.51 L645.28,102.41 L645.79,104.24 L646.30,105.97 L646.81,107.60 L647.32,109.15 L647.83,110.69 L648.34,112.20 L648.85,113.70 L649.35,115.17 L649.86,116.61 L650.37,118.02 L650.88,119.38 L651.39,120.71 L651.90,121.98 L652.41,123.21 L652.92,124.37 L653.43,125.48 L653.94,126.52 L654.45,127.48 L654.96,128.39 L655.47,129.27 L655.98,130.10 L656.49,130.91 L657.00,131.69 L657.51,132.45 L658.02,133.19 L658.53,133.91 L659.04,134.62 L659.55,135.33 L660.06,136.03 L660.57,136.73 L661.08,137.45 L661.59,138.17 L662.10,138.91 L662.61,139.66 L663.12,140.44 L663.63,141.26 L664.14,142.10 L664.65,142.98 L665.16,143.89 L665.67,144.82 L666.18,145.75 L666.69,146.70 L667.20,147.65 L667.71,148.62 L668.22,149.59 L668.73,150.57 L669.24,151.56 L669.75,152.55 L670.26,153.55 L670.77,154.55 L671.28,155.56 L671.79,156.57 L672.30,157.57 L672.81,158.58 L673.32,159.59 L673.83,160.60 L674.34,161.60 L674.85,162.60 L675.36,163.59 L675.87,164.58 L676.38,165.56 L676.89,166.54 L677.40,167.50 L677.91,168.46 L678.42,169.41 L678.93,170.35 L679.43,171.30 L679.94,172.26 L680.45,173.24 L680.96,174.21 L681.47,175.20 L681.98,176.18 L682.49,177.17 L683.00,178.16 L683.51,179.14 L684.02,180.12 L684.53,181.09 L685.04,182.05 L685.55,183.00 L686.06,183.94 L686.57,184.87 L687.08,185.78 L687.59,186.67 L688.10,187.54 L688.61,188.39 L689.12,189.21 L689.63,190.01 L690.14,190.78 L690.65,191.52 L691.16,192.23 L691.67,192.91 L692.18,193.55 L692.69,194.16 L693.20,194.76 L693.71,195.35 L694.22,195.94 L694.73,196.51 L695.24,197.07 L695.75,197.63 L696.26,198.17 L696.77,198.71 L697.28,199.23 L697.79,199.75 L698.30,200.26 L698.81,200.75 L699.32,201.24 L699.83,201.71 L700.34,202.18 L700.85,202.63 L701.36,203.08 L701.87,203.51 L702.38,203.93 L702.89,204.34 L703.40,204.74 L703.91,205.13 L704.42,205.50 L704.93,205.86 L705.44,206.21 L705.95,206.55 L706.46,206.88 L706.97,207.19 L707.48,207.50 L707.99,207.81 L708.50,208.11 L709.01,208.42 L709.52,208.72 L710.02,209.02 L710.53,209.32 L711.04,209.60 L711.55,209.88 L712.06,210.15 L712.57,210.42 L713.08,210.67 L713.59,210.91 L714.10,211.13 L714.61,211.35 L715.12,211.55 L715.63,211.73 L716.14,211.90 L716.65,212.04 L717.16,212.18 L717.67,212.32 L718.18,212.45 L718.69,212.58 L719.20,212.70 L719.71,212.81 L720.22,212.92 L720.73,213.02 L721.24,213.11 L721.75,213.19 L722.26,213.27 L722.77,213.33 L723.28,213.39 L723.79,213.43 L724.30,213.47 L724.81,213.49 L725.32,213.50 L725.83,213.50 L726.34,213.48 L726.85,213.45 L727.36,213.40 L727.87,213.33 L728.38,213.24 L728.89,213.13 L729.40,213.01 L729.91,212.87 L730.42,212.71 L730.93,212.55 L731.44,212.37 L731.95,212.18 L732.46,211.98 L732.97,211.77 L733.48,211.55 L733.99,211.32 L734.50,211.08 L735.01,210.84 L735.52,210.59 L736.03,210.34 L736.54,210.07 L737.05,209.77 L737.56,209.44 L738.07,209.09 L738.58,208.71 L739.09,208.32 L739.60,207.92 L740.11,207.50 L740.62,207.07 L741.12,206.64 L741.63,206.21 L742.14,205.78 L742.65,205.35 L743.16,204.93 L743.67,204.51 L744.18,204.11 L744.69,203.72 L745.20,203.34 L745.71,202.99 L746.22,202.65 L746.73,202.33 L747.24,202.01 L747.75,201.69 L748.26,201.37 L748.77,201.06 L749.28,200.74 L749.79,200.44 L750.30,200.14 L750.81,199.85 L751.32,199.58 L751.83,199.33 L752.34,199.10 L752.85,198.88 L753.36,198.69 L753.87,198.52 L754.38,198.37 L754.89,198.24 L755.40,198.12 L755.91,198.04 L756.42,197.99 L756.93,197.97 L757.44,197.99 L757.95,198.05 L758.46,198.13 L758.97,198.24 L759.48,198.38 L759.99,198.55 L760.50,198.73 L761.01,198.94 L761.52,199.18 L762.03,199.43 L762.54,199.70 L763.05,199.99 L763.56,200.30 L764.07,200.62 L764.58,200.96 L765.09,201.31 L765.60,201.75 L766.11,202.28 L766.62,202.90 L767.13,203.57 L767.64,204.29 L768.15,205.03 L768.66,205.78 L769.17,206.52 L769.68,207.22 L770.19,207.87 L770.70,208.45 L771.20,209.01 L771.71,209.57 L772.22,210.12 L772.73,210.67 L773.24,211.21 L773.75,211.76 L774.26,212.29 L774.77,212.83 L775.28,213.35 L775.79,213.88 L776.30,214.40 L776.81,214.91 L777.32,215.43 L777.83,215.93 L778.34,216.43 L778.85,216.93 L779.36,217.42 L779.87,217.91 L780.38,218.39 L780.89,218.87 L781.40,219.34 L781.91,219.82 L782.42,220.29 L782.93,220.76 L783.44,221.24 L783.95,221.70 L784.46,222.17 L784.97,222.63 L785.48,223.09 L785.99,223.54 L786.50,223.99" stroke="#868628" stroke-width="1.3" />
<path d="M480.60,234.12 L481.11,232.39 L481.62,230.68 L482.13,228.98 L482.64,227.32 L483.15,225.67 L483.66,224.06 L484.17,222.48 L484.68,220.93 L485.19,219.42 L485.70,217.94 L486.21,216.45 L486.72,214.96 L487.23,213.48 L487.74,212.05 L488.25,210.65 L488.76,209.30 L489.27,208.02 L489.78,206.84 L490.29,205.77 L490.80,204.82 L491.31,203.90 L491.82,202.98 L492.33,202.09 L492.84,201.23 L493.35,200.41 L493.86,199.64 L494.37,198.93 L494.88,198.28 L495.39,197.71 L495.90,197.23 L496.40,196.84 L496.91,196.55 L497.42,196.38 L497.93,196.31 L498.44,196.27 L498.95,196.26 L499.46,196.26 L499.97,196.27 L500.48,196.30 L500.99,196.33 L501.50,196.37 L502.01,196.42 L502.52,196.47 L503.03,196.52 L503.54,196.57 L504.05,196.63 L504.56,196.69 L505.07,196.76 L505.58,196.84 L506.09,196.92 L506.60,197.00 L507.11,197.09 L507.62,197.17 L508.13,197.25 L508.64,197.33 L509.15,197.40 L509.66,197.46 L510.17,197.51 L510.68,197.55 L511.19,197.58 L511.70,197.59 L512.21,197.57 L512.72,197.51 L513.23,197.40 L513.74,197.25 L514.25,197.08 L514.76,196.88 L515.27,196.67 L515.78,196.44 L516.29,196.20 L516.80,195.97 L517.31,195.70 L517.82,195.38 L518.33,195.00 L518.84,194.58 L519.35,194.13 L519.86,193.67 L520.37,193.19 L520.88,192.72 L521.39,192.25 L521.90,191.74 L522.41,191.20 L522.92,190.62 L523.43,190.01 L523.94,189.37 L524.45,188.70 L524.96,188.02 L525.47,187.31 L525.98,186.58 L526.49,185.82 L526.99,184.96 L527.50,184.01 L528.01,182.97 L528.52,181.87 L529.03,180.70 L529.54,179.48 L530.05,178.21 L530.56,176.90 L531.07,175.57 L531.58,174.21 L532.09,172.85 L532.60,171.47 L533.11,170.01 L533.62,168.46 L534.13,166.82 L534.64,165.09 L535.15,163.28 L535.66,161.39 L536.17,159.43 L536.68,157.39 L537.19,155.28 L537.70,153.11 L538.21,150.87 L538.72,148.58 L539.23,146.22 L539.74,143.81 L540.25,141.12 L540.76,138.09 L541.27,134.82 L541.78,131.41 L542.29,127.97 L542.80,124.60 L543.31,121.40 L543.82,118.47 L544.33,115.78 L544.84,113.14 L545.35,110.54 L545.86,107.99 L546.37,105.48 L546.88,103.03 L547.39,100.62 L547.90,98.27 L548.41,95.96 L548.92,93.71 L549.43,91.51 L549.94,89.36 L550.45,87.27 L550.96,85.20 L551.47,83.15 L551.98,81.14 L552.49,79.17 L553.00,77.28 L553.51,75.48 L554.02,73.78 L554.53,72.21 L555.04,70.78 L555.55,69.40 L556.06,68.03 L556.57,66.71 L557.08,65.46 L557.58,64.31 L558.09,63.31 L558.60,62.48 L559.11,61.85 L559.62,61.45 L560.13,61.29 L560.64,61.29 L561.15,61.44 L561.66,61.73 L562.17,62.15 L562.68,62.70 L563.19,63.35 L563.70,64.09 L564.21,64.92 L564.72,65.84 L565.23,66.85 L565.74,67.92 L566.25,69.06 L566.76,70.23 L567.27,71.43 L567.78,72.65 L568.29,73.87 L568.80,75.09 L569.31,76.29 L569.82,77.46 L570.33,78.60 L570.84,79.72 L571.35,80.87 L571.86,82.03 L572.37,83.20 L572.88,84.37 L573.39,85.53 L573.90,86.67 L574.41,87.77 L574.92,88.83 L575.43,89.84 L575.94,90.78 L576.45,91.64 L576.96,92.41 L577.47,93.14 L577.98,93.86 L578.49,94.56 L579.00,95.23 L579.51,95.88 L580.02,96.50 L580.53,97.09 L581.04,97.65 L581.55,98.17 L582.06,98.64 L582.57,99.07 L583.08,99.46 L583.59,99.80 L584.10,100.10 L584.61,100.35 L585.12,100.54 L585.63,100.65 L586.14,100.70 L586.65,100.66 L587.16,100.53 L587.66,100.31 L588.17,99.99 L588.68,99.59 L589.19,99.10 L589.70,98.55 L590.21,97.92 L590.72,97.25 L591.23,96.52 L591.74,95.67 L592.25,94.72 L592.76,93.67 L593.27,92.56 L593.78,91.42 L594.29,90.26 L594.80,89.11 L595.31,87.99 L595.82,86.87 L596.33,85.74 L596.84,84.60 L597.35,83.46 L597.86,82.32 L598.37,81.17 L598.88,80.01 L599.39,78.83 L599.90,77.63 L600.41,76.42 L600.92,75.18 L601.43,73.88 L601.94,72.47 L602.45,70.97 L602.96,69.40 L603.47,67.76 L603.98,66.09 L604.49,64.40 L605.00,62.69 L605.51,61.00 L606.02,59.27 L606.53,57.47 L607.04,55.59 L607.55,53.63 L608.06,51.60 L608.57,49.51 L609.08,47.35 L609.59,45.17 L610.10,42.97 L610.61,40.77 L611.12,38.60 L611.63,36.49 L612.14,34.45 L612.65,32.51 L613.16,30.69 L613.67,28.99 L614.18,27.32 L614.69,25.70 L615.20,24.13 L615.71,22.65 L616.22,21.28 L616.73,20.02 L617.24,18.90 L617.75,17.93 L618.25,17.11 L618.76,16.45 L619.27,15.96 L619.78,15.63 L620.29,15.49 L620.80,15.54 L621.31,15.78 L621.82,16.18 L622.33,16.72 L622.84,17.38 L623.35,18.12 L623.86,18.95 L624.37,19.83 L624.88,20.75 L625.39,21.72 L625.90,22.81 L626.41,24.05 L626.92,25.41 L627.43,26.89 L627.94,28.46 L628.45,30.12 L628.96,31.84 L629.47,33.62 L629.98,35.51 L630.49,37.50 L631.00,39.61 L631.51,41.81 L632.02,44.11 L632.53,46.49 L633.04,48.94 L633.55,51.46 L634.06,54.01 L634.57,56.56 L635.08,59.08 L635.59,61.58 L636.10,64.04 L636.61,66.55 L637.12,69.11 L637.63,71.69 L638.14,74.28 L638.65,76.84 L639.16,79.39 L639.67,81.90 L640.18,84.37 L640.69,86.77 L641.20,89.09 L641.71,91.30 L642.22,93.47 L642.73,95.61 L643.24,97.71 L643.75,99.76 L644.26,101.75 L644.77,103.67 L645.28,105.51 L645.79,107.26 L646.30,108.90 L646.81,110.46 L647.32,112.01 L647.83,113.54 L648.34,115.05 L648.85,116.53 L649.35,117.97 L649.86,119.38 L650.37,120.75 L650.88,122.07 L651.39,123.34 L651.90,124.56 L652.41,125.71 L652.92,126.80 L653.43,127.81 L653.94,128.76 L654.45,129.65 L654.96,130.51 L655.47,131.34 L655.98,132.13 L656.49,132.90 L657.00,133.64 L657.51,134.37 L658.02,135.09 L658.53,135.79 L659.04,136.49 L659.55,137.19 L660.06,137.89 L660.57,138.60 L661.08,139.32 L661.59,140.06 L662.10,140.82 L662.61,141.61 L663.12,142.43 L663.63,143.28 L664.14,144.17 L664.65,145.07 L665.16,145.99 L665.67,146.92 L666.18,147.86 L666.69,148.81 L667.20,149.77 L667.71,150.74 L668.22,151.71 L668.73,152.69 L669.24,153.67 L669.75,154.66 L670.26,155.65 L670.77,156.64 L671.28,157.64 L671.79,158.63 L672.30,159.62 L672.81,160.62 L673.32,161.61 L673.83,162.60 L674.34,163.58 L674.85,164.56 L675.36,165.53 L675.87,166.49 L676.38,167.45 L676.89,168.40 L677.40,169.34 L677.91,170.26 L678.42,171.19 L678.93,172.14 L679.43,173.09 L679.94,174.04 L680.45,175.01 L680.96,175.98 L681.47,176.95 L681.98,177.92 L682.49,178.89 L683.00,179.85 L683.51,180.81 L684.02,181.77 L684.53,182.71 L685.04,183.65 L685.55,184.57 L686.06,185.48 L686.57,186.37 L687.08,187.24 L687.59,188.09 L688.10,188.92 L688.61,189.73 L689.12,190.51 L689.63,191.27 L690.14,191.99 L690.65,192.69 L691.16,193.35 L691.67,193.97 L692.18,194.57 L692.69,195.16 L693.20,195.74 L693.71,196.31 L694.22,196.87 L694.73,197.42 L695.24,197.96 L695.75,198.50 L696.26,199.02 L696.77,199.53 L697.28,200.04 L697.79,200.53 L698.30,201.01 L698.81,201.49 L699.32,201.95 L699.83,202.40 L700.34,202.85 L700.85,203.28 L701.36,203.70 L701.87,204.11 L702.38,204.51 L702.89,204.90 L703.40,205.27 L703.91,205.64 L704.42,205.99 L704.93,206.33 L705.44,206.66 L705.95,206.97 L706.46,207.28 L706.97,207.57 L707.48,207.87 L707.99,208.17 L708.50,208.46 L709.01,208.75 L709.52,209.04 L710.02,209.33 L710.53,209.60 L711.04,209.88 L711.55,210.14 L712.06,210.40 L712.57,210.64 L713.08,210.88 L713.59,211.10 L714.10,211.31 L714.61,211.51 L715.12,211.69 L715.63,211.86 L716.14,212.01 L716.65,212.15 L717.16,212.28 L717.67,212.41 L718.18,212.53 L718.69,212.65 L719.20,212.76 L719.71,212.87 L720.22,212.97 L720.73,213.06 L721.24,213.15 L721.75,213.22 L722.26,213.29 L722.77,213.35 L723.28,213.40 L723.79,213.44 L724.30,213.47 L724.81,213.49 L725.32,213.50 L725.83,213.49 L726.34,213.48 L726.85,213.44 L727.36,213.39 L727.87,213.31 L728.38,213.22 L728.89,213.11 L729.40,212.99 L729.91,212.85 L730.42,212.70 L730.93,212.53 L731.44,212.36 L731.95,212.17 L732.46,211.97 L732.97,211.76 L733.48,211.54 L733.99,211.31 L734.50,211.08 L735.01,210.84 L735.52,210.59 L736.03,210.35 L736.54,210.08 L737.05,209.78 L737.56,209.45 L738.07,209.10 L738.58,208.73 L739.09,208.34 L739.60,207.93 L740.11,207.52 L740.62,207.10 L741.12,206.67 L741.63,206.23 L742.14,205.80 L742.65,205.37 L743.16,204.95 L743.67,204.53 L744.18,204.13 L744.69,203.74 L745.20,203.36 L745.71,203.00 L746.22,202.66 L746.73,202.34 L747.24,202.02 L747.75,201.70 L748.26,201.38 L748.77,201.06 L749.28,200.75 L749.79,200.44 L750.30,200.14 L750.81,199.85 L751.32,199.58 L751.83,199.33 L752.34,199.09 L752.85,198.88 L753.36,198.69 L753.87,198.51 L754.38,198.36 L754.89,198.23 L755.40,198.12 L755.91,198.03 L756.42,197.98 L756.93,197.97 L757.44,198.00 L757.95,198.05 L758.46,198.14 L758.97,198.25 L759.48,198.39 L759.99,198.55 L760.50,198.74 L761.01,198.95 L761.52,199.18 L762.03,199.43 L762.54,199.70 L763.05,199.99 L763.56,200.30 L764.07,200.62 L764.58,200.96 L765.09,201.31 L765.60,201.75 L766.11,202.28 L766.62,202.90 L767.13,203.57 L767.64,204.29 L768.15,205.03 L768.66,205.78 L769.17,206.52 L769.68,207.22 L770.19,207.87 L770.70,208.45 L771.20,209.01 L771.71,209.57 L772.22,210.12 L772.73,210.67 L773.24,211.21 L773.75,211.76 L774.26,212.29 L774.77,212.83 L775.28,213.35 L775.79,213.88 L776.30,214.40 L776.81,214.91 L777.32,215.43 L777.83,215.93 L778.34,216.43 L778.85,216.93 L779.36,217.42 L779.87,217.91 L780.38,218.39 L780.89,218.87 L781.40,219.34 L781.91,219.82 L782.42,220.29 L782.93,220.76 L783.44,221.24 L783.95,221.70 L784.46,222.17 L784.97,222.63 L785.48,223.09 L785.99,223.54 L786.50,223.99" stroke="#8010ff" stroke-width="1.4" stroke-dasharray="4,3.2"/>
<path d="M480.60,234.12 L481.11,232.39 L481.62,230.67 L482.13,228.98 L482.64,227.30 L483.15,225.66 L483.66,224.04 L484.17,222.46 L484.68,220.91 L485.19,219.39 L485.70,217.91 L486.21,216.42 L486.72,214.93 L487.23,213.45 L487.74,212.01 L488.25,210.61 L488.76,209.27 L489.27,207.99 L489.78,206.81 L490.29,205.75 L490.80,204.80 L491.31,203.87 L491.82,202.96 L492.33,202.07 L492.84,201.21 L493.35,200.39 L493.86,199.62 L494.37,198.91 L494.88,198.26 L495.39,197.70 L495.90,197.22 L496.40,196.83 L496.91,196.55 L497.42,196.38 L497.93,196.31 L498.44,196.28 L498.95,196.27 L499.46,196.27 L499.97,196.28 L500.48,196.31 L500.99,196.34 L501.50,196.38 L502.01,196.43 L502.52,196.48 L503.03,196.53 L503.54,196.58 L504.05,196.64 L504.56,196.70 L505.07,196.77 L505.58,196.85 L506.09,196.93 L506.60,197.02 L507.11,197.10 L507.62,197.18 L508.13,197.26 L508.64,197.34 L509.15,197.41 L509.66,197.47 L510.17,197.52 L510.68,197.56 L511.19,197.59 L511.70,197.60 L512.21,197.57 L512.72,197.50 L513.23,197.39 L513.74,197.25 L514.25,197.07 L514.76,196.87 L515.27,196.65 L515.78,196.42 L516.29,196.19 L516.80,195.95 L517.31,195.68 L517.82,195.35 L518.33,194.97 L518.84,194.55 L519.35,194.10 L519.86,193.63 L520.37,193.16 L520.88,192.69 L521.39,192.21 L521.90,191.70 L522.41,191.15 L522.92,190.57 L523.43,189.96 L523.94,189.32 L524.45,188.66 L524.96,187.97 L525.47,187.26 L525.98,186.54 L526.49,185.77 L526.99,184.91 L527.50,183.95 L528.01,182.92 L528.52,181.81 L529.03,180.65 L529.54,179.43 L530.05,178.16 L530.56,176.86 L531.07,175.53 L531.58,174.18 L532.09,172.82 L532.60,171.45 L533.11,169.99 L533.62,168.45 L534.13,166.81 L534.64,165.09 L535.15,163.28 L535.66,161.40 L536.17,159.45 L536.68,157.42 L537.19,155.32 L537.70,153.15 L538.21,150.92 L538.72,148.63 L539.23,146.28 L539.74,143.88 L540.25,141.20 L540.76,138.17 L541.27,134.91 L541.78,131.52 L542.29,128.09 L542.80,124.73 L543.31,121.55 L543.82,118.63 L544.33,115.95 L544.84,113.32 L545.35,110.75 L545.86,108.22 L546.37,105.73 L546.88,103.30 L547.39,100.92 L547.90,98.59 L548.41,96.30 L548.92,94.07 L549.43,91.90 L549.94,89.77 L550.45,87.70 L550.96,85.67 L551.47,83.65 L551.98,81.66 L552.49,79.72 L553.00,77.85 L553.51,76.06 L554.02,74.38 L554.53,72.82 L555.04,71.40 L555.55,70.05 L556.06,68.71 L556.57,67.40 L557.08,66.16 L557.58,65.02 L558.09,64.01 L558.60,63.17 L559.11,62.51 L559.62,62.07 L560.13,61.86 L560.64,61.80 L561.15,61.89 L561.66,62.10 L562.17,62.44 L562.68,62.89 L563.19,63.44 L563.70,64.07 L564.21,64.78 L564.72,65.56 L565.23,66.43 L565.74,67.36 L566.25,68.34 L566.76,69.36 L567.27,70.41 L567.78,71.47 L568.29,72.55 L568.80,73.62 L569.31,74.68 L569.82,75.71 L570.33,76.72 L570.84,77.69 L571.35,78.66 L571.86,79.65 L572.37,80.66 L572.88,81.68 L573.39,82.69 L573.90,83.70 L574.41,84.68 L574.92,85.64 L575.43,86.56 L575.94,87.43 L576.45,88.24 L576.96,88.98 L577.47,89.64 L577.98,90.27 L578.49,90.89 L579.00,91.50 L579.51,92.09 L580.02,92.67 L580.53,93.23 L581.04,93.77 L581.55,94.29 L582.06,94.78 L582.57,95.24 L583.08,95.67 L583.59,96.09 L584.10,96.47 L584.61,96.82 L585.12,97.12 L585.63,97.37 L586.14,97.55 L586.65,97.66 L587.16,97.69 L587.66,97.63 L588.17,97.47 L588.68,97.22 L589.19,96.89 L589.70,96.48 L590.21,96.00 L590.72,95.47 L591.23,94.88 L591.74,94.20 L592.25,93.39 L592.76,92.47 L593.27,91.49 L593.78,90.46 L594.29,89.42 L594.80,88.37 L595.31,87.36 L595.82,86.35 L596.33,85.32 L596.84,84.28 L597.35,83.24 L597.86,82.19 L598.37,81.13 L598.88,80.06 L599.39,78.98 L599.90,77.88 L600.41,76.77 L600.92,75.63 L601.43,74.44 L601.94,73.14 L602.45,71.75 L602.96,70.28 L603.47,68.76 L603.98,67.20 L604.49,65.61 L605.00,64.01 L605.51,62.42 L606.02,60.80 L606.53,59.10 L607.04,57.31 L607.55,55.45 L608.06,53.51 L608.57,51.50 L609.08,49.44 L609.59,47.34 L610.10,45.22 L610.61,43.10 L611.12,41.02 L611.63,38.98 L612.14,37.01 L612.65,35.15 L613.16,33.40 L613.67,31.77 L614.18,30.16 L614.69,28.59 L615.20,27.08 L615.71,25.64 L616.22,24.31 L616.73,23.09 L617.24,21.99 L617.75,21.04 L618.25,20.24 L618.76,19.59 L619.27,19.09 L619.78,18.76 L620.29,18.59 L620.80,18.61 L621.31,18.81 L621.82,19.15 L622.33,19.61 L622.84,20.18 L623.35,20.84 L623.86,21.56 L624.37,22.33 L624.88,23.14 L625.39,23.98 L625.90,24.92 L626.41,26.00 L626.92,27.20 L627.43,28.51 L627.94,29.91 L628.45,31.39 L628.96,32.95 L629.47,34.56 L629.98,36.25 L630.49,38.06 L631.00,39.99 L631.51,42.01 L632.02,44.14 L632.53,46.36 L633.04,48.67 L633.55,51.06 L634.06,53.49 L634.57,55.93 L635.08,58.37 L635.59,60.79 L636.10,63.17 L636.61,65.58 L637.12,68.05 L637.63,70.56 L638.14,73.10 L638.65,75.64 L639.16,78.18 L639.67,80.69 L640.18,83.17 L640.69,85.59 L641.20,87.94 L641.71,90.19 L642.22,92.36 L642.73,94.50 L643.24,96.61 L643.75,98.68 L644.26,100.70 L644.77,102.65 L645.28,104.53 L645.79,106.32 L646.30,108.01 L646.81,109.60 L647.32,111.15 L647.83,112.69 L648.34,114.20 L648.85,115.69 L649.35,117.16 L649.86,118.59 L650.37,119.98 L650.88,121.32 L651.39,122.62 L651.90,123.87 L652.41,125.05 L652.92,126.18 L653.43,127.24 L653.94,128.22 L654.45,129.14 L654.96,130.02 L655.47,130.87 L655.98,131.68 L656.49,132.47 L657.00,133.23 L657.51,133.97 L658.02,134.69 L658.53,135.40 L659.04,136.11 L659.55,136.81 L660.06,137.51 L660.57,138.22 L661.08,138.94 L661.59,139.67 L662.10,140.43 L662.61,141.20 L663.12,142.01 L663.63,142.85 L664.14,143.73 L664.65,144.64 L665.16,145.56 L665.67,146.49 L666.18,147.44 L666.69,148.39 L667.20,149.35 L667.71,150.32 L668.22,151.30 L668.73,152.29 L669.24,153.28 L669.75,154.27 L670.26,155.27 L670.77,156.27 L671.28,157.27 L671.79,158.28 L672.30,159.28 L672.81,160.28 L673.32,161.28 L673.83,162.28 L674.34,163.28 L674.85,164.26 L675.36,165.25 L675.87,166.22 L676.38,167.19 L676.89,168.15 L677.40,169.10 L677.91,170.04 L678.42,170.97 L678.93,171.92 L679.43,172.88 L679.94,173.84 L680.45,174.81 L680.96,175.79 L681.47,176.77 L681.98,177.75 L682.49,178.72 L683.00,179.70 L683.51,180.67 L684.02,181.63 L684.53,182.59 L685.04,183.53 L685.55,184.46 L686.06,185.38 L686.57,186.28 L687.08,187.16 L687.59,188.02 L688.10,188.86 L688.61,189.67 L689.12,190.46 L689.63,191.22 L690.14,191.95 L690.65,192.65 L691.16,193.32 L691.67,193.95 L692.18,194.56 L692.69,195.15 L693.20,195.73 L693.71,196.31 L694.22,196.87 L694.73,197.42 L695.24,197.97 L695.75,198.50 L696.26,199.03 L696.77,199.54 L697.28,200.05 L697.79,200.54 L698.30,201.03 L698.81,201.50 L699.32,201.97 L699.83,202.42 L700.34,202.86 L700.85,203.30 L701.36,203.72 L701.87,204.13 L702.38,204.53 L702.89,204.91 L703.40,205.29 L703.91,205.65 L704.42,206.01 L704.93,206.35 L705.44,206.67 L705.95,206.99 L706.46,207.29 L706.97,207.59 L707.48,207.89 L707.99,208.18 L708.50,208.48 L709.01,208.77 L709.52,209.06 L710.02,209.34 L710.53,209.62 L711.04,209.89 L711.55,210.15 L712.06,210.41 L712.57,210.65 L713.08,210.89 L713.59,211.11 L714.10,211.32 L714.61,211.52 L715.12,211.70 L715.63,211.87 L716.14,212.02 L716.65,212.15 L717.16,212.28 L717.67,212.41 L718.18,212.53 L718.69,212.65 L719.20,212.76 L719.71,212.87 L720.22,212.97 L720.73,213.06 L721.24,213.15 L721.75,213.22 L722.26,213.29 L722.77,213.35 L723.28,213.40 L723.79,213.44 L724.30,213.47 L724.81,213.49 L725.32,213.50 L725.83,213.49 L726.34,213.48 L726.85,213.44 L727.36,213.39 L727.87,213.31 L728.38,213.22 L728.89,213.11 L729.40,212.99 L729.91,212.85 L730.42,212.70 L730.93,212.53 L731.44,212.36 L731.95,212.17 L732.46,211.97 L732.97,211.76 L733.48,211.54 L733.99,211.31 L734.50,211.08 L735.01,210.84 L735.52,210.59 L736.03,210.34 L736.54,210.08 L737.05,209.78 L737.56,209.45 L738.07,209.10 L738.58,208.73 L739.09,208.34 L739.60,207.93 L740.11,207.52 L740.62,207.09 L741.12,206.66 L741.63,206.23 L742.14,205.80 L742.65,205.37 L743.16,204.95 L743.67,204.53 L744.18,204.13 L744.69,203.74 L745.20,203.36 L745.71,203.00 L746.22,202.66 L746.73,202.34 L747.24,202.02 L747.75,201.70 L748.26,201.38 L748.77,201.06 L749.28,200.75 L749.79,200.44 L750.30,200.14 L750.81,199.85 L751.32,199.58 L751.83,199.33 L752.34,199.09 L752.85,198.88 L753.36,198.69 L753.87,198.51 L754.38,198.36 L754.89,198.23 L755.40,198.12 L755.91,198.03 L756.42,197.98 L756.93,197.97 L757.44,198.00 L757.95,198.05 L758.46,198.14 L758.97,198.25 L759.48,198.39 L759.99,198.55 L760.50,198.74 L761.01,198.95 L761.52,199.18 L762.03,199.43 L762.54,199.70 L763.05,199.99 L763.56,200.30 L764.07,200.62 L764.58,200.96 L765.09,201.31 L765.60,201.75 L766.11,202.28 L766.62,202.90 L767.13,203.57 L767.64,204.29 L768.15,205.03 L768.66,205.78 L769.17,206.52 L769.68,207.22 L770.19,207.87 L770.70,208.45 L771.20,209.01 L771.71,209.57 L772.22,210.12 L772.73,210.67 L773.24,211.21 L773.75,211.76 L774.26,212.29 L774.77,212.83 L775.28,213.35 L775.79,213.88 L776.30,214.40 L776.81,214.91 L777.32,215.43 L777.83,215.93 L778.34,216.43 L778.85,216.93 L779.36,217.42 L779.87,217.91 L780.38,218.39 L780.89,218.87 L781.40,219.34 L781.91,219.82 L782.42,220.29 L782.93,220.76 L783.44,221.24 L783.95,221.70 L784.46,222.17 L784.97,222.63 L785.48,223.09 L785.99,223.54 L786.50,223.99" stroke="#a050a8" stroke-width="1.6" stroke-dasharray="4,1.8,1,2.2,1,2.2"/>
</g>
<line x1="480.60" y1="1.20" x2="786.50" y2="1.20" stroke="#000" stroke-width="1.1" stroke-linecap="square"/>
<line x1="786.50" y1="1.20" x2="786.50" y2="249.80" stroke="#000" stroke-width="1.1" stroke-linecap="square"/>
<line x1="480.60" y1="1.20" x2="480.60" y2="249.80" stroke="#000" stroke-width="1.3" stroke-linecap="square"/>
<line x1="480.60" y1="249.80" x2="786.50" y2="249.80" stroke="#000" stroke-width="1.3" stroke-linecap="square"/>
<line x1="480.60" y1="249.80" x2="480.60" y2="254.80" stroke="#000" stroke-width="1.2" />
<text x="480.60" y="266.30" font-size="10" text-anchor="middle" fill="#111" font-family='"Liberation Sans", sans-serif' font-weight="normal" >10</text>
<line x1="500.99" y1="249.80" x2="500.99" y2="254.80" stroke="#000" stroke-width="1.2" />
<text x="500.99" y="266.30" font-size="10" text-anchor="middle" fill="#111" font-family='"Liberation Sans", sans-serif' font-weight="normal" >12</text>
<line x1="521.39" y1="249.80" x2="521.39" y2="254.80" stroke="#000" stroke-width="1.2" />
<text x="521.39" y="266.30" font-size="10" text-anchor="middle" fill="#111" font-family='"Liberation Sans", sans-serif' font-weight="normal" >14</text>
<line x1="541.78" y1="249.80" x2="541.78" y2="254.80" stroke="#000" stroke-width="1.2" />
<text x="541.78" y="266.30" font-size="10" text-anchor="middle" fill="#111" font-family='"Liberation Sans", sans-serif' font-weight="normal" >16</text>
<line x1="562.17" y1="249.80" x2="562.17" y2="254.80" stroke="#000" stroke-width="1.2" />
<text x="562.17" y="266.30" font-size="10" text-anchor="middle" fill="#111" font-family='"Liberation Sans", sans-serif' font-weight="normal" >18</text>
<line x1="582.57" y1="249.80" x2="582.57" y2="254.80" stroke="#000" stroke-width="1.2" />
<text x="582.57" y="266.30" font-size="10" text-anchor="middle" fill="#111" font-family='"Liberation Sans", sans-serif' font-weight="normal" >20</text>
<line x1="602.96" y1="249.80" x2="602.96" y2="254.80" stroke="#000" stroke-width="1.2" />
<text x="602.96" y="266.30" font-size="10" text-anchor="middle" fill="#111" font-family='"Liberation Sans", sans-serif' font-weight="normal" >22</text>
<line x1="623.35" y1="249.80" x2="623.35" y2="254.80" stroke="#000" stroke-width="1.2" />
<text x="623.35" y="266.30" font-size="10" text-anchor="middle" fill="#111" font-family='"Liberation Sans", sans-serif' font-weight="normal" >24</text>
<line x1="643.75" y1="249.80" x2="643.75" y2="254.80" stroke="#000" stroke-width="1.2" />
<text x="643.75" y="266.30" font-size="10" text-anchor="middle" fill="#111" font-family='"Liberation Sans", sans-serif' font-weight="normal" >26</text>
<line x1="664.14" y1="249.80" x2="664.14" y2="254.80" stroke="#000" stroke-width="1.2" />
<text x="664.14" y="266.30" font-size="10" text-anchor="middle" fill="#111" font-family='"Liberation Sans", sans-serif' font-weight="normal" >28</text>
<line x1="684.53" y1="249.80" x2="684.53" y2="254.80" stroke="#000" stroke-width="1.2" />
<text x="684.53" y="266.30" font-size="10" text-anchor="middle" fill="#111" font-family='"Liberation Sans", sans-serif' font-weight="normal" >30</text>
<line x1="704.93" y1="249.80" x2="704.93" y2="254.80" stroke="#000" stroke-width="1.2" />
<text x="704.93" y="266.30" font-size="10" text-anchor="middle" fill="#111" font-family='"Liberation Sans", sans-serif' font-weight="normal" >32</text>
<line x1="725.32" y1="249.80" x2="725.32" y2="254.80" stroke="#000" stroke-width="1.2" />
<text x="725.32" y="266.30" font-size="10" text-anchor="middle" fill="#111" font-family='"Liberation Sans", sans-serif' font-weight="normal" >34</text>
<line x1="745.71" y1="249.80" x2="745.71" y2="254.80" stroke="#000" stroke-width="1.2" />
<text x="745.71" y="266.30" font-size="10" text-anchor="middle" fill="#111" font-family='"Liberation Sans", sans-serif' font-weight="normal" >36</text>
<line x1="766.11" y1="249.80" x2="766.11" y2="254.80" stroke="#000" stroke-width="1.2" />
<text x="766.11" y="266.30" font-size="10" text-anchor="middle" fill="#111" font-family='"Liberation Sans", sans-serif' font-weight="normal" >38</text>
<line x1="786.50" y1="249.80" x2="786.50" y2="254.80" stroke="#000" stroke-width="1.2" />
<text x="786.50" y="266.30" font-size="10" text-anchor="middle" fill="#111" font-family='"Liberation Sans", sans-serif' font-weight="normal" >40</text>
<line x1="490.80" y1="249.80" x2="490.80" y2="252.30" stroke="#000" stroke-width="1.0" />
<line x1="511.19" y1="249.80" x2="511.19" y2="252.30" stroke="#000" stroke-width="1.0" />
<line x1="531.58" y1="249.80" x2="531.58" y2="252.30" stroke="#000" stroke-width="1.0" />
<line x1="551.98" y1="249.80" x2="551.98" y2="252.30" stroke="#000" stroke-width="1.0" />
<line x1="572.37" y1="249.80" x2="572.37" y2="252.30" stroke="#000" stroke-width="1.0" />
<line x1="592.76" y1="249.80" x2="592.76" y2="252.30" stroke="#000" stroke-width="1.0" />
<line x1="613.16" y1="249.80" x2="613.16" y2="252.30" stroke="#000" stroke-width="1.0" />
<line x1="633.55" y1="249.80" x2="633.55" y2="252.30" stroke="#000" stroke-width="1.0" />
<line x1="653.94" y1="249.80" x2="653.94" y2="252.30" stroke="#000" stroke-width="1.0" />
<line x1="674.34" y1="249.80" x2="674.34" y2="252.30" stroke="#000" stroke-width="1.0" />
<line x1="694.73" y1="249.80" x2="694.73" y2="252.30" stroke="#000" stroke-width="1.0" />
<line x1="715.12" y1="249.80" x2="715.12" y2="252.30" stroke="#000" stroke-width="1.0" />
<line x1="735.52" y1="249.80" x2="735.52" y2="252.30" stroke="#000" stroke-width="1.0" />
<line x1="755.91" y1="249.80" x2="755.91" y2="252.30" stroke="#000" stroke-width="1.0" />
<line x1="776.30" y1="249.80" x2="776.30" y2="252.30" stroke="#000" stroke-width="1.0" />
<line x1="475.60" y1="249.80" x2="480.60" y2="249.80" stroke="#000" stroke-width="1.2" />
<text x="472.90" y="253.40" font-size="10" text-anchor="end" fill="#111" font-family='"Liberation Sans", sans-serif' font-weight="normal" >0.00</text>
<line x1="475.60" y1="197.55" x2="480.60" y2="197.55" stroke="#000" stroke-width="1.2" />
<text x="472.90" y="201.15" font-size="10" text-anchor="end" fill="#111" font-family='"Liberation Sans", sans-serif' font-weight="normal" >0.02</text>
<line x1="475.60" y1="145.30" x2="480.60" y2="145.30" stroke="#000" stroke-width="1.2" />
<text x="472.90" y="148.90" font-size="10" text-anchor="end" fill="#111" font-family='"Liberation Sans", sans-serif' font-weight="normal" >0.04</text>
<line x1="475.60" y1="93.05" x2="480.60" y2="93.05" stroke="#000" stroke-width="1.2" />
<text x="472.90" y="96.65" font-size="10" text-anchor="end" fill="#111" font-family='"Liberation Sans", sans-serif' font-weight="normal" >0.06</text>
<line x1="475.60" y1="40.80" x2="480.60" y2="40.80" stroke="#000" stroke-width="1.2" />
<text x="472.90" y="44.40" font-size="10" text-anchor="end" fill="#111" font-family='"Liberation Sans", sans-serif' font-weight="normal" >0.08</text>
<line x1="478.10" y1="223.68" x2="480.60" y2="223.68" stroke="#000" stroke-width="1.0" />
<line x1="478.10" y1="171.43" x2="480.60" y2="171.43" stroke="#000" stroke-width="1.0" />
<line x1="478.10" y1="119.18" x2="480.60" y2="119.18" stroke="#000" stroke-width="1.0" />
<line x1="478.10" y1="66.93" x2="480.60" y2="66.93" stroke="#000" stroke-width="1.0" />
<line x1="478.10" y1="14.68" x2="480.60" y2="14.68" stroke="#000" stroke-width="1.0" />
<text x="633.55" y="286.40" font-size="12.8" text-anchor="middle" fill="#111" font-family='"Liberation Sans", sans-serif' font-weight="normal" >Frequency (kHz)</text>
<text transform="translate(433.8,122.5) rotate(-90)" font-size="12.7" text-anchor="middle" fill="#111" font-family='"Liberation Sans", sans-serif'>Acoustic signal (mV)</text>
<rect x="703.2" y="8.2" width="81.0" height="102.0" fill="#fff" stroke="#888" stroke-width="1"/>
<line x1="707.2" y1="16.90" x2="730.7" y2="16.90" stroke="#30e8f0" stroke-width="1.5" />
<text x="733.50" y="20.50" font-size="10" text-anchor="start" fill="#111" font-family='"Liberation Sans", sans-serif' font-weight="normal" >275 mg/dL</text>
<line x1="707.2" y1="29.50" x2="730.7" y2="29.50" stroke="#108a10" stroke-width="1.15" stroke-dasharray="3.2,1.3,1.2,1.5"/>
<text x="733.50" y="33.10" font-size="10" text-anchor="start" fill="#111" font-family='"Liberation Sans", sans-serif' font-weight="normal" >250 mg/dL</text>
<line x1="707.2" y1="42.10" x2="730.7" y2="42.10" stroke="#ff40ff" stroke-width="1.6" stroke-dasharray="1.6,2.6"/>
<text x="733.50" y="45.70" font-size="10" text-anchor="start" fill="#111" font-family='"Liberation Sans", sans-serif' font-weight="normal" >225 mg/dL</text>
<line x1="707.2" y1="54.70" x2="730.7" y2="54.70" stroke="#ff8c20" stroke-width="1.15" stroke-dasharray="3.2,1.3,1.2,1.5"/>
<text x="733.50" y="58.30" font-size="10" text-anchor="start" fill="#111" font-family='"Liberation Sans", sans-serif' font-weight="normal" >200 mg/dL</text>
<line x1="707.2" y1="67.30" x2="730.7" y2="67.30" stroke="#3030ff" stroke-width="1.2" stroke-dasharray="4.4,2,1,2.2,1,2.6"/>
<text x="733.50" y="70.90" font-size="10" text-anchor="start" fill="#111" font-family='"Liberation Sans", sans-serif' font-weight="normal" >175 mg/dL</text>
<line x1="707.2" y1="79.90" x2="730.7" y2="79.90" stroke="#868628" stroke-width="1.3" />
<text x="733.50" y="83.50" font-size="10" text-anchor="start" fill="#111" font-family='"Liberation Sans", sans-serif' font-weight="normal" >150 mg/dL</text>
<line x1="707.2" y1="92.50" x2="730.7" y2="92.50" stroke="#8010ff" stroke-width="1.4" stroke-dasharray="4,3.2"/>
<text x="733.50" y="96.10" font-size="10" text-anchor="start" fill="#111" font-family='"Liberation Sans", sans-serif' font-weight="normal" >125 mg/dL</text>
<line x1="707.2" y1="105.10" x2="730.7" y2="105.10" stroke="#a050a8" stroke-width="1.6" stroke-dasharray="4,1.8,1,2.2,1,2.2"/>
<text x="733.50" y="108.70" font-size="10" text-anchor="start" fill="#111" font-family='"Liberation Sans", sans-serif' font-weight="normal" >100 mg/dL</text>
<line x1="59.93" y1="340.50" x2="59.93" y2="581.40" stroke="#eeeeee" stroke-width="0.9"/>
<line x1="92.80" y1="340.50" x2="92.80" y2="581.40" stroke="#eeeeee" stroke-width="0.9"/>
<line x1="125.67" y1="340.50" x2="125.67" y2="581.40" stroke="#eeeeee" stroke-width="0.9"/>
<line x1="158.53" y1="340.50" x2="158.53" y2="581.40" stroke="#eeeeee" stroke-width="0.9"/>
<line x1="191.40" y1="340.50" x2="191.40" y2="581.40" stroke="#eeeeee" stroke-width="0.9"/>
<line x1="224.27" y1="340.50" x2="224.27" y2="581.40" stroke="#eeeeee" stroke-width="0.9"/>
<line x1="257.13" y1="340.50" x2="257.13" y2="581.40" stroke="#eeeeee" stroke-width="0.9"/>
<line x1="290.00" y1="340.50" x2="290.00" y2="581.40" stroke="#eeeeee" stroke-width="0.9"/>
<line x1="322.87" y1="340.50" x2="322.87" y2="581.40" stroke="#eeeeee" stroke-width="0.9"/>
<line x1="43.50" y1="577.10" x2="339.30" y2="577.10" stroke="#eeeeee" stroke-width="0.9"/>
<line x1="43.50" y1="534.08" x2="339.30" y2="534.08" stroke="#eeeeee" stroke-width="0.9"/>
<line x1="43.50" y1="491.06" x2="339.30" y2="491.06" stroke="#eeeeee" stroke-width="0.9"/>
<line x1="43.50" y1="448.04" x2="339.30" y2="448.04" stroke="#eeeeee" stroke-width="0.9"/>
<line x1="43.50" y1="405.03" x2="339.30" y2="405.03" stroke="#eeeeee" stroke-width="0.9"/>
<line x1="43.50" y1="362.01" x2="339.30" y2="362.01" stroke="#eeeeee" stroke-width="0.9"/>
<line x1="76.37" y1="340.50" x2="76.37" y2="581.40" stroke="#e4e4e4" stroke-width="0.9"/>
<line x1="109.23" y1="340.50" x2="109.23" y2="581.40" stroke="#e4e4e4" stroke-width="0.9"/>
<line x1="142.10" y1="340.50" x2="142.10" y2="581.40" stroke="#e4e4e4" stroke-width="0.9"/>
<line x1="174.97" y1="340.50" x2="174.97" y2="581.40" stroke="#e4e4e4" stroke-width="0.9"/>
<line x1="207.83" y1="340.50" x2="207.83" y2="581.40" stroke="#e4e4e4" stroke-width="0.9"/>
<line x1="240.70" y1="340.50" x2="240.70" y2="581.40" stroke="#e4e4e4" stroke-width="0.9"/>
<line x1="273.57" y1="340.50" x2="273.57" y2="581.40" stroke="#e4e4e4" stroke-width="0.9"/>
<line x1="306.43" y1="340.50" x2="306.43" y2="581.40" stroke="#e4e4e4" stroke-width="0.9"/>
<line x1="43.50" y1="555.59" x2="339.30" y2="555.59" stroke="#e4e4e4" stroke-width="0.9"/>
<line x1="43.50" y1="512.57" x2="339.30" y2="512.57" stroke="#e4e4e4" stroke-width="0.9"/>
<line x1="43.50" y1="469.55" x2="339.30" y2="469.55" stroke="#e4e4e4" stroke-width="0.9"/>
<line x1="43.50" y1="426.54" x2="339.30" y2="426.54" stroke="#e4e4e4" stroke-width="0.9"/>
<line x1="43.50" y1="383.52" x2="339.30" y2="383.52" stroke="#e4e4e4" stroke-width="0.9"/>
<line x1="76.37" y1="340.50" x2="76.37" y2="581.40" stroke="#c8c8c8" stroke-width="0.8" stroke-dasharray="1.6,3.2"/>
<line x1="109.23" y1="340.50" x2="109.23" y2="581.40" stroke="#c8c8c8" stroke-width="0.8" stroke-dasharray="1.6,3.2"/>
<line x1="142.10" y1="340.50" x2="142.10" y2="581.40" stroke="#c8c8c8" stroke-width="0.8" stroke-dasharray="1.6,3.2"/>
<line x1="174.97" y1="340.50" x2="174.97" y2="581.40" stroke="#c8c8c8" stroke-width="0.8" stroke-dasharray="1.6,3.2"/>
<line x1="207.83" y1="340.50" x2="207.83" y2="581.40" stroke="#c8c8c8" stroke-width="0.8" stroke-dasharray="1.6,3.2"/>
<line x1="240.70" y1="340.50" x2="240.70" y2="581.40" stroke="#c8c8c8" stroke-width="0.8" stroke-dasharray="1.6,3.2"/>
<line x1="273.57" y1="340.50" x2="273.57" y2="581.40" stroke="#c8c8c8" stroke-width="0.8" stroke-dasharray="1.6,3.2"/>
<line x1="306.43" y1="340.50" x2="306.43" y2="581.40" stroke="#c8c8c8" stroke-width="0.8" stroke-dasharray="1.6,3.2"/>
<line x1="43.50" y1="555.59" x2="339.30" y2="555.59" stroke="#c8c8c8" stroke-width="0.8" stroke-dasharray="1.8,1.6"/>
<line x1="43.50" y1="512.57" x2="339.30" y2="512.57" stroke="#c8c8c8" stroke-width="0.8" stroke-dasharray="1.8,1.6"/>
<line x1="43.50" y1="469.55" x2="339.30" y2="469.55" stroke="#c8c8c8" stroke-width="0.8" stroke-dasharray="1.8,1.6"/>
<line x1="43.50" y1="426.54" x2="339.30" y2="426.54" stroke="#c8c8c8" stroke-width="0.8" stroke-dasharray="1.8,1.6"/>
<line x1="43.50" y1="383.52" x2="339.30" y2="383.52" stroke="#c8c8c8" stroke-width="0.8" stroke-dasharray="1.8,1.6"/>
<line x1="76.37" y1="462.15" x2="306.43" y2="421.03" stroke="#2a2a2a" stroke-width="1.0" stroke-dasharray="3.2,1.5,1.2,1.5" fill="none"/>
<line x1="76.37" y1="526.34" x2="306.43" y2="473.94" stroke="#2a2a2a" stroke-width="1.0" stroke-dasharray="3.2,1.5,1.2,1.5" fill="none"/>
<path d="M74.50,463.89 L80.10,466.89 L74.50,469.89 Z" fill="#0000ff"/>
<path d="M107.37,451.15 L112.97,454.15 L107.37,457.15 Z" fill="#0000ff"/>
<path d="M140.23,440.23 L145.83,443.23 L140.23,446.23 Z" fill="#0000ff"/>
<path d="M173.10,440.57 L178.70,443.57 L173.10,446.57 Z" fill="#0000ff"/>
<path d="M205.97,444.36 L211.57,447.36 L205.97,450.36 Z" fill="#0000ff"/>
<path d="M238.83,423.36 L244.43,426.36 L238.83,429.36 Z" fill="#0000ff"/>
<path d="M271.70,425.86 L277.30,428.86 L271.70,431.86 Z" fill="#0000ff"/>
<path d="M304.57,418.63 L310.17,421.63 L304.57,424.63 Z" fill="#0000ff"/>
<polygon points="76.37,524.66 77.33,526.74 79.60,527.01 77.92,528.56 78.37,530.81 76.37,529.69 74.37,530.81 74.81,528.56 73.13,527.01 75.41,526.74" fill="#808000"/>
<polygon points="109.23,515.62 110.19,517.70 112.47,517.97 110.79,519.53 111.23,521.77 109.23,520.66 107.23,521.77 107.68,519.53 106.00,517.97 108.27,517.70" fill="#808000"/>
<polygon points="142.10,506.59 143.06,508.67 145.33,508.94 143.65,510.49 144.10,512.74 142.10,511.62 140.10,512.74 140.55,510.49 138.87,508.94 141.14,508.67" fill="#808000"/>
<polygon points="174.97,499.11 175.93,501.18 178.20,501.45 176.52,503.01 176.97,505.26 174.97,504.14 172.97,505.26 173.41,503.01 171.73,501.45 174.01,501.18" fill="#808000"/>
<polygon points="207.83,491.96 208.79,494.04 211.07,494.31 209.39,495.87 209.83,498.11 207.83,497.00 205.83,498.11 206.28,495.87 204.60,494.31 206.87,494.04" fill="#808000"/>
<polygon points="240.70,482.41 241.66,484.49 243.93,484.76 242.25,486.32 242.70,488.56 240.70,487.45 238.70,488.56 239.15,486.32 237.47,484.76 239.74,484.49" fill="#808000"/>
<polygon points="273.57,480.09 274.53,482.17 276.80,482.44 275.12,484.00 275.57,486.24 273.57,485.12 271.57,486.24 272.01,484.00 270.33,482.44 272.61,482.17" fill="#808000"/>
<polygon points="306.43,472.69 307.39,474.77 309.67,475.04 307.99,476.60 308.43,478.84 306.43,477.72 304.43,478.84 304.88,476.60 303.20,475.04 305.47,474.77" fill="#808000"/>
<line x1="43.50" y1="340.50" x2="335.00" y2="340.50" stroke="#000" stroke-width="1.1" />
<line x1="43.50" y1="581.40" x2="339.30" y2="581.40" stroke="#111" stroke-width="1.3" stroke-linecap="square"/>
<line x1="43.50" y1="340.00" x2="43.50" y2="581.40" stroke="#3636ff" stroke-width="1.3"/>
<line x1="339.30" y1="340.00" x2="339.30" y2="581.40" stroke="#8a8a10" stroke-width="1.3"/>
<line x1="335.00" y1="340.50" x2="339.30" y2="340.50" stroke="#8a8a10" stroke-width="1.1"/>
<line x1="43.50" y1="581.40" x2="43.50" y2="586.40" stroke="#000" stroke-width="1.2" />
<text x="43.50" y="596.70" font-size="9.6" text-anchor="middle" fill="#111" font-family='"Liberation Sans", sans-serif' font-weight="normal" >75</text>
<line x1="76.37" y1="581.40" x2="76.37" y2="586.40" stroke="#000" stroke-width="1.2" />
<text x="76.37" y="596.70" font-size="9.6" text-anchor="middle" fill="#111" font-family='"Liberation Sans", sans-serif' font-weight="normal" >100</text>
<line x1="109.23" y1="581.40" x2="109.23" y2="586.40" stroke="#000" stroke-width="1.2" />
<text x="109.23" y="596.70" font-size="9.6" text-anchor="middle" fill="#111" font-family='"Liberation Sans", sans-serif' font-weight="normal" >125</text>
<line x1="142.10" y1="581.40" x2="142.10" y2="586.40" stroke="#000" stroke-width="1.2" />
<text x="142.10" y="596.70" font-size="9.6" text-anchor="middle" fill="#111" font-family='"Liberation Sans", sans-serif' font-weight="normal" >150</text>
<line x1="174.97" y1="581.40" x2="174.97" y2="586.40" stroke="#000" stroke-width="1.2" />
<text x="174.97" y="596.70" font-size="9.6" text-anchor="middle" fill="#111" font-family='"Liberation Sans", sans-serif' font-weight="normal" >175</text>
<line x1="207.83" y1="581.40" x2="207.83" y2="586.40" stroke="#000" stroke-width="1.2" />
<text x="207.83" y="596.70" font-size="9.6" text-anchor="middle" fill="#111" font-family='"Liberation Sans", sans-serif' font-weight="normal" >200</text>
<line x1="240.70" y1="581.40" x2="240.70" y2="586.40" stroke="#000" stroke-width="1.2" />
<text x="240.70" y="596.70" font-size="9.6" text-anchor="middle" fill="#111" font-family='"Liberation Sans", sans-serif' font-weight="normal" >225</text>
<line x1="273.57" y1="581.40" x2="273.57" y2="586.40" stroke="#000" stroke-width="1.2" />
<text x="273.57" y="596.70" font-size="9.6" text-anchor="middle" fill="#111" font-family='"Liberation Sans", sans-serif' font-weight="normal" >250</text>
<line x1="306.43" y1="581.40" x2="306.43" y2="586.40" stroke="#000" stroke-width="1.2" />
<text x="306.43" y="596.70" font-size="9.6" text-anchor="middle" fill="#111" font-family='"Liberation Sans", sans-serif' font-weight="normal" >275</text>
<line x1="339.30" y1="581.40" x2="339.30" y2="586.40" stroke="#000" stroke-width="1.2" />
<text x="339.30" y="596.70" font-size="9.6" text-anchor="middle" fill="#111" font-family='"Liberation Sans", sans-serif' font-weight="normal" >300</text>
<line x1="59.93" y1="581.40" x2="59.93" y2="583.90" stroke="#000" stroke-width="1.0" />
<line x1="92.80" y1="581.40" x2="92.80" y2="583.90" stroke="#000" stroke-width="1.0" />
<line x1="125.67" y1="581.40" x2="125.67" y2="583.90" stroke="#000" stroke-width="1.0" />
<line x1="158.53" y1="581.40" x2="158.53" y2="583.90" stroke="#000" stroke-width="1.0" />
<line x1="191.40" y1="581.40" x2="191.40" y2="583.90" stroke="#000" stroke-width="1.0" />
<line x1="224.27" y1="581.40" x2="224.27" y2="583.90" stroke="#000" stroke-width="1.0" />
<line x1="257.13" y1="581.40" x2="257.13" y2="583.90" stroke="#000" stroke-width="1.0" />
<line x1="290.00" y1="581.40" x2="290.00" y2="583.90" stroke="#000" stroke-width="1.0" />
<line x1="322.87" y1="581.40" x2="322.87" y2="583.90" stroke="#000" stroke-width="1.0" />
<line x1="38.50" y1="555.59" x2="43.50" y2="555.59" stroke="#3636ff" stroke-width="1.2"/>
<text x="36.40" y="559.19" font-size="10" text-anchor="end" fill="#3636ff" font-family='"Liberation Sans", sans-serif' font-weight="normal" >3.5</text>
<line x1="38.50" y1="512.57" x2="43.50" y2="512.57" stroke="#3636ff" stroke-width="1.2"/>
<text x="36.40" y="516.17" font-size="10" text-anchor="end" fill="#3636ff" font-family='"Liberation Sans", sans-serif' font-weight="normal" >4.0</text>
<line x1="38.50" y1="469.55" x2="43.50" y2="469.55" stroke="#3636ff" stroke-width="1.2"/>
<text x="36.40" y="473.15" font-size="10" text-anchor="end" fill="#3636ff" font-family='"Liberation Sans", sans-serif' font-weight="normal" >4.5</text>
<line x1="38.50" y1="426.54" x2="43.50" y2="426.54" stroke="#3636ff" stroke-width="1.2"/>
<text x="36.40" y="430.14" font-size="10" text-anchor="end" fill="#3636ff" font-family='"Liberation Sans", sans-serif' font-weight="normal" >5.0</text>
<line x1="38.50" y1="383.52" x2="43.50" y2="383.52" stroke="#3636ff" stroke-width="1.2"/>
<text x="36.40" y="387.12" font-size="10" text-anchor="end" fill="#3636ff" font-family='"Liberation Sans", sans-serif' font-weight="normal" >5.5</text>
<line x1="38.50" y1="340.50" x2="43.50" y2="340.50" stroke="#3636ff" stroke-width="1.2"/>
<text x="36.40" y="344.10" font-size="10" text-anchor="end" fill="#3636ff" font-family='"Liberation Sans", sans-serif' font-weight="normal" >6.0</text>
<line x1="41.00" y1="577.10" x2="43.50" y2="577.10" stroke="#3636ff" stroke-width="1.0"/>
<line x1="41.00" y1="534.08" x2="43.50" y2="534.08" stroke="#3636ff" stroke-width="1.0"/>
<line x1="41.00" y1="491.06" x2="43.50" y2="491.06" stroke="#3636ff" stroke-width="1.0"/>
<line x1="41.00" y1="448.04" x2="43.50" y2="448.04" stroke="#3636ff" stroke-width="1.0"/>
<line x1="41.00" y1="405.03" x2="43.50" y2="405.03" stroke="#3636ff" stroke-width="1.0"/>
<line x1="41.00" y1="362.01" x2="43.50" y2="362.01" stroke="#3636ff" stroke-width="1.0"/>
<line x1="334.30" y1="581.40" x2="339.30" y2="581.40" stroke="#8a8a10" stroke-width="1.2"/>
<text x="345.30" y="585.00" font-size="10" text-anchor="start" fill="#8a8a10" font-family='"Liberation Sans", sans-serif' font-weight="normal" >0</text>
<line x1="334.30" y1="533.22" x2="339.30" y2="533.22" stroke="#8a8a10" stroke-width="1.2"/>
<text x="345.30" y="536.82" font-size="10" text-anchor="start" fill="#8a8a10" font-family='"Liberation Sans", sans-serif' font-weight="normal" >2</text>
<line x1="334.30" y1="485.04" x2="339.30" y2="485.04" stroke="#8a8a10" stroke-width="1.2"/>
<text x="345.30" y="488.64" font-size="10" text-anchor="start" fill="#8a8a10" font-family='"Liberation Sans", sans-serif' font-weight="normal" >4</text>
<line x1="334.30" y1="436.86" x2="339.30" y2="436.86" stroke="#8a8a10" stroke-width="1.2"/>
<text x="345.30" y="440.46" font-size="10" text-anchor="start" fill="#8a8a10" font-family='"Liberation Sans", sans-serif' font-weight="normal" >6</text>
<line x1="334.30" y1="388.68" x2="339.30" y2="388.68" stroke="#8a8a10" stroke-width="1.2"/>
<text x="345.30" y="392.28" font-size="10" text-anchor="start" fill="#8a8a10" font-family='"Liberation Sans", sans-serif' font-weight="normal" >8</text>
<line x1="334.30" y1="340.50" x2="339.30" y2="340.50" stroke="#8a8a10" stroke-width="1.2"/>
<text x="345.30" y="344.10" font-size="10" text-anchor="start" fill="#8a8a10" font-family='"Liberation Sans", sans-serif' font-weight="normal" >10</text>
<line x1="336.80" y1="557.31" x2="339.30" y2="557.31" stroke="#8a8a10" stroke-width="1.0"/>
<line x1="336.80" y1="509.13" x2="339.30" y2="509.13" stroke="#8a8a10" stroke-width="1.0"/>
<line x1="336.80" y1="460.95" x2="339.30" y2="460.95" stroke="#8a8a10" stroke-width="1.0"/>
<line x1="336.80" y1="412.77" x2="339.30" y2="412.77" stroke="#8a8a10" stroke-width="1.0"/>
<line x1="336.80" y1="364.59" x2="339.30" y2="364.59" stroke="#8a8a10" stroke-width="1.0"/>
<text x="191.30" y="615.90" font-size="12.25" text-anchor="middle" fill="#111" font-family='"Liberation Sans", sans-serif' font-weight="normal" >Glucose concentration (mg/dL)</text>
<text transform="translate(13.7,468.6) rotate(-90)" font-size="12.2" text-anchor="middle" fill="#111" font-family='"Liberation Sans", sans-serif'>Acoustic signal (a.u.)</text>
<text transform="translate(370.3,468.9) rotate(-90)" font-size="12.15" text-anchor="middle" fill="#111" font-family='"Liberation Sans", sans-serif'>Acoustic signal ratio</text>
<path d="M61.23,355.10 L66.83,358.10 L61.23,361.10 Z" fill="#0000ff"/>
<polygon points="63.10,369.00 63.86,370.65 65.67,370.87 64.33,372.10 64.69,373.88 63.10,373.00 61.51,373.88 61.87,372.10 60.53,370.87 62.34,370.65" fill="#808000"/>
<text x="78.70" y="361.60" font-size="10.9" text-anchor="start" fill="#111" font-family='"Liberation Sans", sans-serif' font-weight="normal" >Signals from 9.25 μm QCL</text>
<text x="78.70" y="374.80" font-size="10.9" text-anchor="start" fill="#111" font-family='"Liberation Sans", sans-serif' font-weight="normal" >Signals from 9.25 and 10.3 μm QCLs</text>
<rect x="62.5" y="421.4" width="56.0" height="21.100000000000023" fill="#fff" stroke="#6a6a6a" stroke-width="1"/>
<text x="91.10" y="436.90" font-size="12.1" text-anchor="middle" fill="#1a1a1a" font-family='"Liberation Serif", serif' font-weight="bold">R<tspan font-size="7" dy="-5.5">2</tspan><tspan dy="5.5">=0.859</tspan></text>
<rect x="112.8" y="525.6" width="55.39999999999999" height="20.899999999999977" fill="#fff" stroke="#6a6a6a" stroke-width="1"/>
<text x="141.10" y="540.90" font-size="12.1" text-anchor="middle" fill="#1a1a1a" font-family='"Liberation Serif", serif' font-weight="bold">R<tspan font-size="7" dy="-5.5">2</tspan><tspan dy="5.5">=0.987</tspan></text>
<line x1="497.32" y1="340.60" x2="497.32" y2="581.60" stroke="#eeeeee" stroke-width="0.9"/>
<line x1="549.35" y1="340.60" x2="549.35" y2="581.60" stroke="#eeeeee" stroke-width="0.9"/>
<line x1="601.38" y1="340.60" x2="601.38" y2="581.60" stroke="#eeeeee" stroke-width="0.9"/>
<line x1="653.42" y1="340.60" x2="653.42" y2="581.60" stroke="#eeeeee" stroke-width="0.9"/>
<line x1="705.45" y1="340.60" x2="705.45" y2="581.60" stroke="#eeeeee" stroke-width="0.9"/>
<line x1="757.48" y1="340.60" x2="757.48" y2="581.60" stroke="#eeeeee" stroke-width="0.9"/>
<line x1="471.30" y1="566.54" x2="783.50" y2="566.54" stroke="#eeeeee" stroke-width="0.9"/>
<line x1="471.30" y1="536.41" x2="783.50" y2="536.41" stroke="#eeeeee" stroke-width="0.9"/>
<line x1="471.30" y1="506.29" x2="783.50" y2="506.29" stroke="#eeeeee" stroke-width="0.9"/>
<line x1="471.30" y1="476.16" x2="783.50" y2="476.16" stroke="#eeeeee" stroke-width="0.9"/>
<line x1="471.30" y1="446.04" x2="783.50" y2="446.04" stroke="#eeeeee" stroke-width="0.9"/>
<line x1="471.30" y1="415.91" x2="783.50" y2="415.91" stroke="#eeeeee" stroke-width="0.9"/>
<line x1="471.30" y1="385.79" x2="783.50" y2="385.79" stroke="#eeeeee" stroke-width="0.9"/>
<line x1="471.30" y1="355.66" x2="783.50" y2="355.66" stroke="#eeeeee" stroke-width="0.9"/>
<line x1="523.33" y1="340.60" x2="523.33" y2="581.60" stroke="#e4e4e4" stroke-width="0.9"/>
<line x1="575.37" y1="340.60" x2="575.37" y2="581.60" stroke="#e4e4e4" stroke-width="0.9"/>
<line x1="627.40" y1="340.60" x2="627.40" y2="581.60" stroke="#e4e4e4" stroke-width="0.9"/>
<line x1="679.43" y1="340.60" x2="679.43" y2="581.60" stroke="#e4e4e4" stroke-width="0.9"/>
<line x1="731.47" y1="340.60" x2="731.47" y2="581.60" stroke="#e4e4e4" stroke-width="0.9"/>
<line x1="471.30" y1="551.48" x2="783.50" y2="551.48" stroke="#e4e4e4" stroke-width="0.9"/>
<line x1="471.30" y1="521.35" x2="783.50" y2="521.35" stroke="#e4e4e4" stroke-width="0.9"/>
<line x1="471.30" y1="491.23" x2="783.50" y2="491.23" stroke="#e4e4e4" stroke-width="0.9"/>
<line x1="471.30" y1="461.10" x2="783.50" y2="461.10" stroke="#e4e4e4" stroke-width="0.9"/>
<line x1="471.30" y1="430.98" x2="783.50" y2="430.98" stroke="#e4e4e4" stroke-width="0.9"/>
<line x1="471.30" y1="400.85" x2="783.50" y2="400.85" stroke="#e4e4e4" stroke-width="0.9"/>
<line x1="471.30" y1="370.73" x2="783.50" y2="370.73" stroke="#e4e4e4" stroke-width="0.9"/>
<line x1="523.33" y1="340.60" x2="523.33" y2="581.60" stroke="#c8c8c8" stroke-width="0.8" stroke-dasharray="1.6,3.2"/>
<line x1="575.37" y1="340.60" x2="575.37" y2="581.60" stroke="#c8c8c8" stroke-width="0.8" stroke-dasharray="1.6,3.2"/>
<line x1="627.40" y1="340.60" x2="627.40" y2="581.60" stroke="#c8c8c8" stroke-width="0.8" stroke-dasharray="1.6,3.2"/>
<line x1="679.43" y1="340.60" x2="679.43" y2="581.60" stroke="#c8c8c8" stroke-width="0.8" stroke-dasharray="1.6,3.2"/>
<line x1="731.47" y1="340.60" x2="731.47" y2="581.60" stroke="#c8c8c8" stroke-width="0.8" stroke-dasharray="1.6,3.2"/>
<line x1="471.30" y1="551.48" x2="783.50" y2="551.48" stroke="#c8c8c8" stroke-width="0.8" stroke-dasharray="1.8,1.6"/>
<line x1="471.30" y1="521.35" x2="783.50" y2="521.35" stroke="#c8c8c8" stroke-width="0.8" stroke-dasharray="1.8,1.6"/>
<line x1="471.30" y1="491.23" x2="783.50" y2="491.23" stroke="#c8c8c8" stroke-width="0.8" stroke-dasharray="1.8,1.6"/>
<line x1="471.30" y1="461.10" x2="783.50" y2="461.10" stroke="#c8c8c8" stroke-width="0.8" stroke-dasharray="1.8,1.6"/>
<line x1="471.30" y1="430.98" x2="783.50" y2="430.98" stroke="#c8c8c8" stroke-width="0.8" stroke-dasharray="1.8,1.6"/>
<line x1="471.30" y1="400.85" x2="783.50" y2="400.85" stroke="#c8c8c8" stroke-width="0.8" stroke-dasharray="1.8,1.6"/>
<line x1="471.30" y1="370.73" x2="783.50" y2="370.73" stroke="#c8c8c8" stroke-width="0.8" stroke-dasharray="1.8,1.6"/>
<line x1="523.33" y1="490.38" x2="731.47" y2="368.44" stroke="#2a2a2a" stroke-width="1.0" stroke-dasharray="3.2,1.5,1.2,1.5" fill="none"/>
<line x1="523.33" y1="543.40" x2="731.47" y2="453.15" stroke="#2a2a2a" stroke-width="1.0" stroke-dasharray="3.2,1.5,1.2,1.5" fill="none"/>
<path d="M521.47,501.12 L527.07,504.12 L521.47,507.12 Z" fill="#0000ff"/>
<path d="M573.50,445.81 L579.10,448.81 L573.50,451.81 Z" fill="#0000ff"/>
<path d="M625.53,420.02 L631.13,423.02 L625.53,426.02 Z" fill="#0000ff"/>
<path d="M677.57,390.26 L683.17,393.26 L677.57,396.26 Z" fill="#0000ff"/>
<path d="M729.60,376.28 L735.20,379.28 L729.60,382.28 Z" fill="#0000ff"/>
<polygon points="523.33,536.87 524.29,538.95 526.57,539.22 524.89,540.77 525.33,543.02 523.33,541.90 521.33,543.02 521.78,540.77 520.10,539.22 522.37,538.95" fill="#808000"/>
<polygon points="575.37,522.41 576.33,524.49 578.60,524.76 576.92,526.31 577.37,528.56 575.37,527.44 573.37,528.56 573.81,526.31 572.13,524.76 574.41,524.49" fill="#808000"/>
<polygon points="627.40,493.61 628.36,495.69 630.63,495.96 628.95,497.51 629.40,499.76 627.40,498.64 625.40,499.76 625.85,497.51 624.17,495.96 626.44,495.69" fill="#808000"/>
<polygon points="679.43,474.33 680.39,476.41 682.67,476.68 680.99,478.23 681.43,480.48 679.43,479.36 677.43,480.48 677.88,478.23 676.20,476.68 678.47,476.41" fill="#808000"/>
<polygon points="731.47,447.58 732.43,449.66 734.70,449.93 733.02,451.48 733.47,453.73 731.47,452.61 729.47,453.73 729.91,451.48 728.23,449.93 730.51,449.66" fill="#808000"/>
<line x1="471.30" y1="340.60" x2="783.50" y2="340.60" stroke="#000" stroke-width="1.1" />
<line x1="783.50" y1="340.60" x2="783.50" y2="581.60" stroke="#000" stroke-width="1.1" />
<line x1="471.30" y1="340.60" x2="471.30" y2="581.60" stroke="#111" stroke-width="1.3" stroke-linecap="square"/>
<line x1="471.30" y1="581.60" x2="783.50" y2="581.60" stroke="#111" stroke-width="1.3" stroke-linecap="square"/>
<line x1="471.30" y1="581.60" x2="471.30" y2="586.60" stroke="#000" stroke-width="1.2" />
<text x="471.30" y="597.20" font-size="10" text-anchor="middle" fill="#111" font-family='"Liberation Sans", sans-serif' font-weight="normal" >125</text>
<line x1="523.33" y1="581.60" x2="523.33" y2="586.60" stroke="#000" stroke-width="1.2" />
<text x="523.33" y="597.20" font-size="10" text-anchor="middle" fill="#111" font-family='"Liberation Sans", sans-serif' font-weight="normal" >150</text>
<line x1="575.37" y1="581.60" x2="575.37" y2="586.60" stroke="#000" stroke-width="1.2" />
<text x="575.37" y="597.20" font-size="10" text-anchor="middle" fill="#111" font-family='"Liberation Sans", sans-serif' font-weight="normal" >175</text>
<line x1="627.40" y1="581.60" x2="627.40" y2="586.60" stroke="#000" stroke-width="1.2" />
<text x="627.40" y="597.20" font-size="10" text-anchor="middle" fill="#111" font-family='"Liberation Sans", sans-serif' font-weight="normal" >200</text>
<line x1="679.43" y1="581.60" x2="679.43" y2="586.60" stroke="#000" stroke-width="1.2" />
<text x="679.43" y="597.20" font-size="10" text-anchor="middle" fill="#111" font-family='"Liberation Sans", sans-serif' font-weight="normal" >225</text>
<line x1="731.47" y1="581.60" x2="731.47" y2="586.60" stroke="#000" stroke-width="1.2" />
<text x="731.47" y="597.20" font-size="10" text-anchor="middle" fill="#111" font-family='"Liberation Sans", sans-serif' font-weight="normal" >250</text>
<line x1="783.50" y1="581.60" x2="783.50" y2="586.60" stroke="#000" stroke-width="1.2" />
<text x="783.50" y="597.20" font-size="10" text-anchor="middle" fill="#111" font-family='"Liberation Sans", sans-serif' font-weight="normal" >275</text>
<line x1="497.32" y1="581.60" x2="497.32" y2="584.10" stroke="#000" stroke-width="1.0" />
<line x1="549.35" y1="581.60" x2="549.35" y2="584.10" stroke="#000" stroke-width="1.0" />
<line x1="601.38" y1="581.60" x2="601.38" y2="584.10" stroke="#000" stroke-width="1.0" />
<line x1="653.42" y1="581.60" x2="653.42" y2="584.10" stroke="#000" stroke-width="1.0" />
<line x1="705.45" y1="581.60" x2="705.45" y2="584.10" stroke="#000" stroke-width="1.0" />
<line x1="757.48" y1="581.60" x2="757.48" y2="584.10" stroke="#000" stroke-width="1.0" />
<line x1="466.30" y1="581.60" x2="471.30" y2="581.60" stroke="#000" stroke-width="1.2" />
<text x="463.00" y="585.20" font-size="10" text-anchor="end" fill="#111" font-family='"Liberation Sans", sans-serif' font-weight="normal" >6.00</text>
<line x1="466.30" y1="551.48" x2="471.30" y2="551.48" stroke="#000" stroke-width="1.2" />
<text x="463.00" y="555.08" font-size="10" text-anchor="end" fill="#111" font-family='"Liberation Sans", sans-serif' font-weight="normal" >6.25</text>
<line x1="466.30" y1="521.35" x2="471.30" y2="521.35" stroke="#000" stroke-width="1.2" />
<text x="463.00" y="524.95" font-size="10" text-anchor="end" fill="#111" font-family='"Liberation Sans", sans-serif' font-weight="normal" >6.50</text>
<line x1="466.30" y1="491.23" x2="471.30" y2="491.23" stroke="#000" stroke-width="1.2" />
<text x="463.00" y="494.83" font-size="10" text-anchor="end" fill="#111" font-family='"Liberation Sans", sans-serif' font-weight="normal" >6.75</text>
<line x1="466.30" y1="461.10" x2="471.30" y2="461.10" stroke="#000" stroke-width="1.2" />
<text x="463.00" y="464.70" font-size="10" text-anchor="end" fill="#111" font-family='"Liberation Sans", sans-serif' font-weight="normal" >7.00</text>
<line x1="466.30" y1="430.98" x2="471.30" y2="430.98" stroke="#000" stroke-width="1.2" />
<text x="463.00" y="434.58" font-size="10" text-anchor="end" fill="#111" font-family='"Liberation Sans", sans-serif' font-weight="normal" >7.25</text>
<line x1="466.30" y1="400.85" x2="471.30" y2="400.85" stroke="#000" stroke-width="1.2" />
<text x="463.00" y="404.45" font-size="10" text-anchor="end" fill="#111" font-family='"Liberation Sans", sans-serif' font-weight="normal" >7.50</text>
<line x1="466.30" y1="370.73" x2="471.30" y2="370.73" stroke="#000" stroke-width="1.2" />
<text x="463.00" y="374.33" font-size="10" text-anchor="end" fill="#111" font-family='"Liberation Sans", sans-serif' font-weight="normal" >7.75</text>
<line x1="466.30" y1="340.60" x2="471.30" y2="340.60" stroke="#000" stroke-width="1.2" />
<text x="463.00" y="344.20" font-size="10" text-anchor="end" fill="#111" font-family='"Liberation Sans", sans-serif' font-weight="normal" >8.00</text>
<line x1="468.80" y1="566.54" x2="471.30" y2="566.54" stroke="#000" stroke-width="1.0" />
<line x1="468.80" y1="536.41" x2="471.30" y2="536.41" stroke="#000" stroke-width="1.0" />
<line x1="468.80" y1="506.29" x2="471.30" y2="506.29" stroke="#000" stroke-width="1.0" />
<line x1="468.80" y1="476.16" x2="471.30" y2="476.16" stroke="#000" stroke-width="1.0" />
<line x1="468.80" y1="446.04" x2="471.30" y2="446.04" stroke="#000" stroke-width="1.0" />
<line x1="468.80" y1="415.91" x2="471.30" y2="415.91" stroke="#000" stroke-width="1.0" />
<line x1="468.80" y1="385.79" x2="471.30" y2="385.79" stroke="#000" stroke-width="1.0" />
<line x1="468.80" y1="355.66" x2="471.30" y2="355.66" stroke="#000" stroke-width="1.0" />
<text x="627.40" y="616.10" font-size="12.85" text-anchor="middle" fill="#111" font-family='"Liberation Sans", sans-serif' font-weight="normal" >Glucose concentration (mg/dL)</text>
<text transform="translate(433.6,465.5) rotate(-90)" font-size="13.0" text-anchor="middle" fill="#111" font-family='"Liberation Sans", sans-serif'>Acoustic signal (a.u.)</text>
<rect x="485.4" y="349.5" width="133.8" height="29.4" fill="#fff" stroke="#888" stroke-width="1"/>
<path d="M509.03,354.80 L514.63,357.80 L509.03,360.80 Z" fill="#0000ff"/>
<polygon points="510.70,368.60 511.46,370.25 513.27,370.47 511.93,371.70 512.29,373.48 510.70,372.60 509.11,373.48 509.47,371.70 508.13,370.47 509.94,370.25" fill="#808000"/>
<text x="527.80" y="361.20" font-size="10.9" text-anchor="start" fill="#111" font-family='"Liberation Sans", sans-serif' font-weight="normal" >Without the lens</text>
<text x="527.80" y="374.70" font-size="10.9" text-anchor="start" fill="#111" font-family='"Liberation Sans", sans-serif' font-weight="normal" >With the lens</text>
<rect x="502.3" y="438.4" width="55.99999999999994" height="20.700000000000045" fill="#fff" stroke="#6a6a6a" stroke-width="1"/>
<text x="530.90" y="453.50" font-size="12.1" text-anchor="middle" fill="#1a1a1a" font-family='"Liberation Serif", serif' font-weight="bold">R<tspan font-size="7" dy="-5.5">2</tspan><tspan dy="5.5">=0.934</tspan></text>
<rect x="547.6" y="541.0" width="56.39999999999998" height="20.600000000000023" fill="#fff" stroke="#6a6a6a" stroke-width="1"/>
<text x="576.40" y="556.00" font-size="12.1" text-anchor="middle" fill="#1a1a1a" font-family='"Liberation Serif", serif' font-weight="bold">R<tspan font-size="7" dy="-5.5">2</tspan><tspan dy="5.5">=0.987</tspan></text>
<text x="79.3" y="311.8" font-family='"Liberation Sans", sans-serif' font-weight="bold" font-size="13.8" fill="#1a1a1a">(a)</text>
<text x="99.7" y="311.8" font-size="14.5" fill="#1a1a1a" font-family='"Liberation Serif", serif' textLength="195.6" lengthAdjust="spacing"><tspan>The 9.25 </tspan><tspan font-style="italic">μm</tspan><tspan> QCL measurements.</tspan></text>
<text x="499.1" y="311.8" font-family='"Liberation Sans", sans-serif' font-weight="bold" font-size="13.8" fill="#1a1a1a">(b)</text>
<text x="520.9" y="311.8" font-size="14.5" fill="#1a1a1a" font-family='"Liberation Serif", serif' textLength="195.1" lengthAdjust="spacing"><tspan>The 10.3 </tspan><tspan font-style="italic">μm</tspan><tspan> QCL measurements.</tspan></text>
<text x="1.6" y="641.1" font-family='"Liberation Sans", sans-serif' font-weight="bold" font-size="13.8" fill="#1a1a1a">(c)</text>
<text x="23.2" y="641.1" font-size="14.5" fill="#1a1a1a" font-family='"Liberation Serif", serif' textLength="344.2" lengthAdjust="spacing"><tspan>Acoustic signals to corresponding glucose in the presence of</tspan></text>
<text x="1.6" y="658.3" font-size="14.5" fill="#1a1a1a" font-family='"Liberation Serif", serif'>other blood components.</text>
<text x="421.3" y="641.1" font-family='"Liberation Sans", sans-serif' font-weight="bold" font-size="13.8" fill="#1a1a1a">(d)</text>
<text x="443.7" y="641.1" font-size="14.5" fill="#1a1a1a" font-family='"Liberation Serif", serif' textLength="340.0" lengthAdjust="spacing"><tspan>Acoustic signals to corresponding glucose with and without</tspan></text>
<text x="421.3" y="658.3" font-size="14.5" fill="#1a1a1a" font-family='"Liberation Serif", serif'>the lens.</text>
</svg></body></html>
